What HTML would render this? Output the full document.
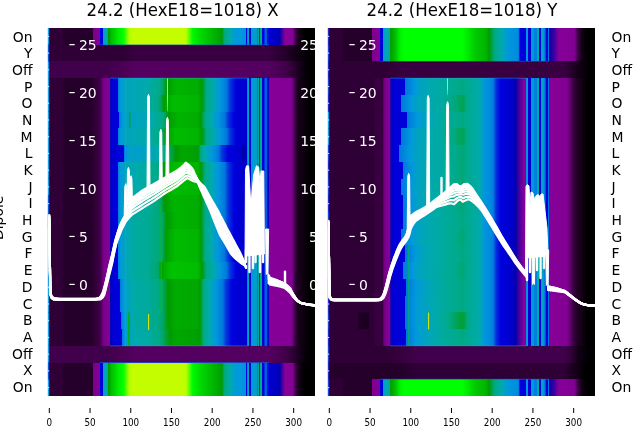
<!DOCTYPE html>
<html><head><meta charset="utf-8"><style>
html,body{margin:0;padding:0;background:#fff;}
body{width:640px;height:440px;overflow:hidden;}
svg{display:block;}
</style></head><body>
<svg width="640" height="440" viewBox="0 0 640 440" font-family="DejaVu Sans, Liberation Sans, sans-serif"><defs><linearGradient id="yl" x1="0" x2="0" y1="0" y2="1"><stop offset="0" stop-color="#d8f000"/><stop offset="0.6" stop-color="#a0ff00"/><stop offset="1" stop-color="#40e000"/></linearGradient><linearGradient id="a0" x1="0" x2="1" y1="0" y2="0"><stop offset="0.0000" stop-color="#2f0035"/><stop offset="0.0543" stop-color="#2f0035"/><stop offset="0.0562" stop-color="#25002b"/><stop offset="0.1685" stop-color="#25002b"/><stop offset="0.1700" stop-color="#700080"/><stop offset="0.1704" stop-color="#7a008b"/><stop offset="0.1929" stop-color="#850096"/><stop offset="0.1931" stop-color="#870098"/><stop offset="0.1939" stop-color="#0300aa"/><stop offset="0.1948" stop-color="#0000dd"/><stop offset="0.2060" stop-color="#0000dd"/><stop offset="0.2068" stop-color="#0078dd"/><stop offset="0.2076" stop-color="#0098dd"/><stop offset="0.2079" stop-color="#009fcb"/><stop offset="0.2180" stop-color="#00aaab"/><stop offset="0.2247" stop-color="#00aa9d"/><stop offset="0.2254" stop-color="#00aa88"/><stop offset="0.2266" stop-color="#009a00"/><stop offset="0.2360" stop-color="#00bc00"/><stop offset="0.2547" stop-color="#00dc00"/><stop offset="0.2622" stop-color="#00ea00"/><stop offset="0.2818" stop-color="#00ff00"/><stop offset="0.2884" stop-color="#2cff00"/><stop offset="0.2996" stop-color="#93ff00"/><stop offset="0.3090" stop-color="#bcff00"/><stop offset="0.3184" stop-color="#c4fc00"/><stop offset="0.4981" stop-color="#c4fc00"/><stop offset="0.5169" stop-color="#bcff00"/><stop offset="0.5318" stop-color="#49ff00"/><stop offset="0.5393" stop-color="#00ff00"/><stop offset="0.5468" stop-color="#00f200"/><stop offset="0.5693" stop-color="#00dc00"/><stop offset="0.5918" stop-color="#00ca00"/><stop offset="0.6117" stop-color="#00bc00"/><stop offset="0.6217" stop-color="#00b400"/><stop offset="0.6498" stop-color="#009f00"/><stop offset="0.6517" stop-color="#009a00"/><stop offset="0.6592" stop-color="#00a773"/><stop offset="0.6639" stop-color="#00aa88"/><stop offset="0.6779" stop-color="#00aa9d"/><stop offset="0.6841" stop-color="#00aaab"/><stop offset="0.6966" stop-color="#009cd3"/><stop offset="0.7191" stop-color="#0098dd"/><stop offset="0.7416" stop-color="#0092dd"/><stop offset="0.7424" stop-color="#0078dd"/><stop offset="0.7434" stop-color="#0000dd"/><stop offset="0.7436" stop-color="#0000d1"/><stop offset="0.7459" stop-color="#0000d1"/><stop offset="0.7459" stop-color="#0000dd"/><stop offset="0.7460" stop-color="#0078dd"/><stop offset="0.7461" stop-color="#0098dd"/><stop offset="0.7461" stop-color="#00aaab"/><stop offset="0.7462" stop-color="#00aa88"/><stop offset="0.7463" stop-color="#00a353"/><stop offset="0.7507" stop-color="#00a353"/><stop offset="0.7508" stop-color="#00aa88"/><stop offset="0.7509" stop-color="#00aaab"/><stop offset="0.7510" stop-color="#0098dd"/><stop offset="0.7510" stop-color="#0078dd"/><stop offset="0.7511" stop-color="#0000dd"/><stop offset="0.7601" stop-color="#0000dd"/><stop offset="0.7603" stop-color="#0078dd"/><stop offset="0.7605" stop-color="#0098dd"/><stop offset="0.7676" stop-color="#0098dd"/><stop offset="0.7680" stop-color="#009fcb"/><stop offset="0.7826" stop-color="#009fcb"/><stop offset="0.7827" stop-color="#00aaab"/><stop offset="0.7828" stop-color="#00aa88"/><stop offset="0.7830" stop-color="#009d1d"/><stop offset="0.7882" stop-color="#009d1d"/><stop offset="0.7883" stop-color="#00aa88"/><stop offset="0.7884" stop-color="#00aaab"/><stop offset="0.7884" stop-color="#0098dd"/><stop offset="0.7885" stop-color="#0078dd"/><stop offset="0.7886" stop-color="#002fdd"/><stop offset="0.7938" stop-color="#002fdd"/><stop offset="0.7939" stop-color="#0078dd"/><stop offset="0.7940" stop-color="#0098dd"/><stop offset="0.7941" stop-color="#00aaab"/><stop offset="0.7942" stop-color="#00aa88"/><stop offset="0.8013" stop-color="#00aa88"/><stop offset="0.8014" stop-color="#00aaab"/><stop offset="0.8015" stop-color="#0098dd"/><stop offset="0.8016" stop-color="#0078dd"/><stop offset="0.8017" stop-color="#0000dd"/><stop offset="0.8107" stop-color="#0000dd"/><stop offset="0.8110" stop-color="#005ddd"/><stop offset="0.8200" stop-color="#005ddd"/><stop offset="0.8204" stop-color="#0013dd"/><stop offset="0.8257" stop-color="#0013dd"/><stop offset="0.8259" stop-color="#0000dd"/><stop offset="0.8262" stop-color="#0000d1"/><stop offset="0.8633" stop-color="#0000bd"/><stop offset="0.8695" stop-color="#0300aa"/><stop offset="0.8727" stop-color="#2300a6"/><stop offset="0.8876" stop-color="#870098"/><stop offset="0.9157" stop-color="#850096"/><stop offset="0.9202" stop-color="#700080"/><stop offset="0.9213" stop-color="#5d006b"/><stop offset="0.9326" stop-color="#25002b"/><stop offset="0.9438" stop-color="#130015"/><stop offset="0.9588" stop-color="#000000"/><stop offset="1.0000" stop-color="#000000"/></linearGradient><linearGradient id="a1" x1="0" x2="1" y1="0" y2="0"><stop offset="0.0000" stop-color="#2f0035"/><stop offset="0.2809" stop-color="#2f0035"/><stop offset="0.3296" stop-color="#380040"/><stop offset="0.8277" stop-color="#380040"/><stop offset="0.8914" stop-color="#25002b"/><stop offset="0.9288" stop-color="#130015"/><stop offset="0.9588" stop-color="#09000b"/><stop offset="0.9813" stop-color="#000000"/><stop offset="1.0000" stop-color="#000000"/></linearGradient><linearGradient id="a2" x1="0" x2="1" y1="0" y2="0"><stop offset="0.0000" stop-color="#41004b"/><stop offset="0.2172" stop-color="#41004b"/><stop offset="0.2809" stop-color="#4b0055"/><stop offset="0.3296" stop-color="#540060"/><stop offset="0.8277" stop-color="#540060"/><stop offset="0.8914" stop-color="#41004b"/><stop offset="0.9288" stop-color="#25002b"/><stop offset="0.9588" stop-color="#09000b"/><stop offset="0.9813" stop-color="#000000"/><stop offset="1.0000" stop-color="#000000"/></linearGradient><linearGradient id="a3" x1="0" x2="1" y1="0" y2="0"><stop offset="0.0000" stop-color="#2f0035"/><stop offset="0.0543" stop-color="#2f0035"/><stop offset="0.0562" stop-color="#25002b"/><stop offset="0.1685" stop-color="#25002b"/><stop offset="0.1704" stop-color="#2f0035"/><stop offset="0.1873" stop-color="#380040"/><stop offset="0.1985" stop-color="#4b0055"/><stop offset="0.2052" stop-color="#700080"/><stop offset="0.2097" stop-color="#7a008b"/><stop offset="0.2210" stop-color="#810092"/><stop offset="0.2330" stop-color="#870098"/><stop offset="0.2340" stop-color="#0300aa"/><stop offset="0.2348" stop-color="#0000d1"/><stop offset="0.2603" stop-color="#0000dd"/><stop offset="0.2619" stop-color="#0078dd"/><stop offset="0.2622" stop-color="#007ddd"/><stop offset="0.2715" stop-color="#0098dd"/><stop offset="0.2715" stop-color="#0098dd"/><stop offset="0.2865" stop-color="#00a3bf"/><stop offset="0.3296" stop-color="#00a7b3"/><stop offset="0.3783" stop-color="#00aaab"/><stop offset="0.3895" stop-color="#00aa9d"/><stop offset="0.4176" stop-color="#00aa88"/><stop offset="0.4270" stop-color="#00a773"/><stop offset="0.4449" stop-color="#009a00"/><stop offset="0.4494" stop-color="#009f00"/><stop offset="0.4794" stop-color="#00b400"/><stop offset="0.5618" stop-color="#00ac00"/><stop offset="0.5768" stop-color="#009a00"/><stop offset="0.5933" stop-color="#00aa88"/><stop offset="0.6142" stop-color="#00aaa3"/><stop offset="0.6189" stop-color="#00aaab"/><stop offset="0.6330" stop-color="#009fcb"/><stop offset="0.6434" stop-color="#0098dd"/><stop offset="0.6592" stop-color="#0085dd"/><stop offset="0.6692" stop-color="#0078dd"/><stop offset="0.6816" stop-color="#0038dd"/><stop offset="0.7041" stop-color="#0000dd"/><stop offset="0.7191" stop-color="#0000d1"/><stop offset="0.7459" stop-color="#0000d1"/><stop offset="0.7459" stop-color="#0000dd"/><stop offset="0.7460" stop-color="#0078dd"/><stop offset="0.7461" stop-color="#0098dd"/><stop offset="0.7461" stop-color="#00aaab"/><stop offset="0.7462" stop-color="#00aa88"/><stop offset="0.7463" stop-color="#00a353"/><stop offset="0.7507" stop-color="#00a353"/><stop offset="0.7508" stop-color="#00aa88"/><stop offset="0.7509" stop-color="#00aaab"/><stop offset="0.7510" stop-color="#0098dd"/><stop offset="0.7510" stop-color="#0078dd"/><stop offset="0.7511" stop-color="#0000dd"/><stop offset="0.7601" stop-color="#0000dd"/><stop offset="0.7603" stop-color="#0078dd"/><stop offset="0.7605" stop-color="#0098dd"/><stop offset="0.7676" stop-color="#0098dd"/><stop offset="0.7680" stop-color="#009fcb"/><stop offset="0.7826" stop-color="#009fcb"/><stop offset="0.7827" stop-color="#00aaab"/><stop offset="0.7828" stop-color="#00aa88"/><stop offset="0.7830" stop-color="#009d1d"/><stop offset="0.7882" stop-color="#009d1d"/><stop offset="0.7883" stop-color="#00aa88"/><stop offset="0.7884" stop-color="#00aaab"/><stop offset="0.7884" stop-color="#0098dd"/><stop offset="0.7885" stop-color="#0078dd"/><stop offset="0.7886" stop-color="#002fdd"/><stop offset="0.7938" stop-color="#002fdd"/><stop offset="0.7939" stop-color="#0078dd"/><stop offset="0.7940" stop-color="#0098dd"/><stop offset="0.7941" stop-color="#00aaab"/><stop offset="0.7942" stop-color="#00aa88"/><stop offset="0.8013" stop-color="#00aa88"/><stop offset="0.8014" stop-color="#00aaab"/><stop offset="0.8015" stop-color="#0098dd"/><stop offset="0.8016" stop-color="#0078dd"/><stop offset="0.8017" stop-color="#0000dd"/><stop offset="0.8107" stop-color="#0000dd"/><stop offset="0.8110" stop-color="#005ddd"/><stop offset="0.8200" stop-color="#005ddd"/><stop offset="0.8204" stop-color="#0013dd"/><stop offset="0.8257" stop-color="#0013dd"/><stop offset="0.8257" stop-color="#0000dd"/><stop offset="0.8260" stop-color="#0300aa"/><stop offset="0.8262" stop-color="#870098"/><stop offset="0.9082" stop-color="#830094"/><stop offset="0.9139" stop-color="#7a008b"/><stop offset="0.9169" stop-color="#700080"/><stop offset="0.9213" stop-color="#4b0055"/><stop offset="0.9337" stop-color="#1c0020"/><stop offset="0.9476" stop-color="#130015"/><stop offset="0.9663" stop-color="#09000b"/><stop offset="0.9813" stop-color="#000000"/><stop offset="1.0000" stop-color="#000000"/></linearGradient><linearGradient id="a4" x1="0" x2="1" y1="0" y2="0"><stop offset="0.0000" stop-color="#2f0035"/><stop offset="0.0543" stop-color="#2f0035"/><stop offset="0.0562" stop-color="#25002b"/><stop offset="0.1685" stop-color="#25002b"/><stop offset="0.1704" stop-color="#2f0035"/><stop offset="0.1873" stop-color="#380040"/><stop offset="0.1985" stop-color="#4b0055"/><stop offset="0.2052" stop-color="#700080"/><stop offset="0.2097" stop-color="#7a008b"/><stop offset="0.2210" stop-color="#810092"/><stop offset="0.2330" stop-color="#870098"/><stop offset="0.2340" stop-color="#0300aa"/><stop offset="0.2348" stop-color="#0000d1"/><stop offset="0.2603" stop-color="#0000dd"/><stop offset="0.2619" stop-color="#0078dd"/><stop offset="0.2622" stop-color="#007ddd"/><stop offset="0.2715" stop-color="#0098dd"/><stop offset="0.2715" stop-color="#0098dd"/><stop offset="0.2865" stop-color="#00a3bf"/><stop offset="0.3296" stop-color="#00a7b3"/><stop offset="0.3783" stop-color="#00aaab"/><stop offset="0.3820" stop-color="#00aa9d"/><stop offset="0.4101" stop-color="#00aa88"/><stop offset="0.4195" stop-color="#00a773"/><stop offset="0.4345" stop-color="#009a00"/><stop offset="0.4419" stop-color="#00a700"/><stop offset="0.4719" stop-color="#00bc00"/><stop offset="0.5618" stop-color="#00b400"/><stop offset="0.5768" stop-color="#009a00"/><stop offset="0.5933" stop-color="#00aa88"/><stop offset="0.6142" stop-color="#00aaa3"/><stop offset="0.6189" stop-color="#00aaab"/><stop offset="0.6330" stop-color="#009fcb"/><stop offset="0.6434" stop-color="#0098dd"/><stop offset="0.6592" stop-color="#0085dd"/><stop offset="0.6692" stop-color="#0078dd"/><stop offset="0.6816" stop-color="#0038dd"/><stop offset="0.7041" stop-color="#0000dd"/><stop offset="0.7191" stop-color="#0000d1"/><stop offset="0.7459" stop-color="#0000d1"/><stop offset="0.7459" stop-color="#0000dd"/><stop offset="0.7460" stop-color="#0078dd"/><stop offset="0.7461" stop-color="#0098dd"/><stop offset="0.7461" stop-color="#00aaab"/><stop offset="0.7462" stop-color="#00aa88"/><stop offset="0.7463" stop-color="#00a353"/><stop offset="0.7507" stop-color="#00a353"/><stop offset="0.7508" stop-color="#00aa88"/><stop offset="0.7509" stop-color="#00aaab"/><stop offset="0.7510" stop-color="#0098dd"/><stop offset="0.7510" stop-color="#0078dd"/><stop offset="0.7511" stop-color="#0000dd"/><stop offset="0.7601" stop-color="#0000dd"/><stop offset="0.7603" stop-color="#0078dd"/><stop offset="0.7605" stop-color="#0098dd"/><stop offset="0.7676" stop-color="#0098dd"/><stop offset="0.7680" stop-color="#009fcb"/><stop offset="0.7826" stop-color="#009fcb"/><stop offset="0.7827" stop-color="#00aaab"/><stop offset="0.7828" stop-color="#00aa88"/><stop offset="0.7830" stop-color="#009d1d"/><stop offset="0.7882" stop-color="#009d1d"/><stop offset="0.7883" stop-color="#00aa88"/><stop offset="0.7884" stop-color="#00aaab"/><stop offset="0.7884" stop-color="#0098dd"/><stop offset="0.7885" stop-color="#0078dd"/><stop offset="0.7886" stop-color="#002fdd"/><stop offset="0.7938" stop-color="#002fdd"/><stop offset="0.7939" stop-color="#0078dd"/><stop offset="0.7940" stop-color="#0098dd"/><stop offset="0.7941" stop-color="#00aaab"/><stop offset="0.7942" stop-color="#00aa88"/><stop offset="0.8013" stop-color="#00aa88"/><stop offset="0.8014" stop-color="#00aaab"/><stop offset="0.8015" stop-color="#0098dd"/><stop offset="0.8016" stop-color="#0078dd"/><stop offset="0.8017" stop-color="#0000dd"/><stop offset="0.8107" stop-color="#0000dd"/><stop offset="0.8110" stop-color="#005ddd"/><stop offset="0.8200" stop-color="#005ddd"/><stop offset="0.8204" stop-color="#0013dd"/><stop offset="0.8257" stop-color="#0013dd"/><stop offset="0.8257" stop-color="#0000dd"/><stop offset="0.8260" stop-color="#0300aa"/><stop offset="0.8262" stop-color="#870098"/><stop offset="0.9082" stop-color="#830094"/><stop offset="0.9139" stop-color="#7a008b"/><stop offset="0.9169" stop-color="#700080"/><stop offset="0.9213" stop-color="#4b0055"/><stop offset="0.9337" stop-color="#1c0020"/><stop offset="0.9476" stop-color="#130015"/><stop offset="0.9663" stop-color="#09000b"/><stop offset="0.9813" stop-color="#000000"/><stop offset="1.0000" stop-color="#000000"/></linearGradient><linearGradient id="a5" x1="0" x2="1" y1="0" y2="0"><stop offset="0.0000" stop-color="#2f0035"/><stop offset="0.0543" stop-color="#2f0035"/><stop offset="0.0562" stop-color="#25002b"/><stop offset="0.1685" stop-color="#25002b"/><stop offset="0.1704" stop-color="#2f0035"/><stop offset="0.1873" stop-color="#380040"/><stop offset="0.1985" stop-color="#4b0055"/><stop offset="0.2052" stop-color="#700080"/><stop offset="0.2097" stop-color="#7a008b"/><stop offset="0.2210" stop-color="#810092"/><stop offset="0.2330" stop-color="#870098"/><stop offset="0.2340" stop-color="#0300aa"/><stop offset="0.2348" stop-color="#0000d1"/><stop offset="0.2659" stop-color="#0000dd"/><stop offset="0.2675" stop-color="#0078dd"/><stop offset="0.2678" stop-color="#007ddd"/><stop offset="0.2772" stop-color="#0098dd"/><stop offset="0.2772" stop-color="#0098dd"/><stop offset="0.2921" stop-color="#00a3bf"/><stop offset="0.3296" stop-color="#00a3bf"/><stop offset="0.3783" stop-color="#00a7b3"/><stop offset="0.3876" stop-color="#00aaab"/><stop offset="0.3970" stop-color="#00aaa3"/><stop offset="0.4270" stop-color="#00aa88"/><stop offset="0.4345" stop-color="#00a773"/><stop offset="0.4524" stop-color="#009a00"/><stop offset="0.4569" stop-color="#009f00"/><stop offset="0.4869" stop-color="#00b400"/><stop offset="0.5618" stop-color="#00ac00"/><stop offset="0.5730" stop-color="#009a00"/><stop offset="0.5880" stop-color="#00aa88"/><stop offset="0.6067" stop-color="#00aaa3"/><stop offset="0.6114" stop-color="#00aaab"/><stop offset="0.6255" stop-color="#009fcb"/><stop offset="0.6360" stop-color="#0098dd"/><stop offset="0.6517" stop-color="#0085dd"/><stop offset="0.6617" stop-color="#0078dd"/><stop offset="0.6742" stop-color="#0038dd"/><stop offset="0.6966" stop-color="#0000dd"/><stop offset="0.7191" stop-color="#0000d1"/><stop offset="0.7459" stop-color="#0000d1"/><stop offset="0.7459" stop-color="#0000dd"/><stop offset="0.7460" stop-color="#0078dd"/><stop offset="0.7461" stop-color="#0098dd"/><stop offset="0.7461" stop-color="#00aaab"/><stop offset="0.7462" stop-color="#00aa88"/><stop offset="0.7463" stop-color="#00a353"/><stop offset="0.7507" stop-color="#00a353"/><stop offset="0.7508" stop-color="#00aa88"/><stop offset="0.7509" stop-color="#00aaab"/><stop offset="0.7510" stop-color="#0098dd"/><stop offset="0.7510" stop-color="#0078dd"/><stop offset="0.7511" stop-color="#0000dd"/><stop offset="0.7601" stop-color="#0000dd"/><stop offset="0.7603" stop-color="#0078dd"/><stop offset="0.7605" stop-color="#0098dd"/><stop offset="0.7676" stop-color="#0098dd"/><stop offset="0.7680" stop-color="#009fcb"/><stop offset="0.7826" stop-color="#009fcb"/><stop offset="0.7827" stop-color="#00aaab"/><stop offset="0.7828" stop-color="#00aa88"/><stop offset="0.7830" stop-color="#009d1d"/><stop offset="0.7882" stop-color="#009d1d"/><stop offset="0.7883" stop-color="#00aa88"/><stop offset="0.7884" stop-color="#00aaab"/><stop offset="0.7884" stop-color="#0098dd"/><stop offset="0.7885" stop-color="#0078dd"/><stop offset="0.7886" stop-color="#002fdd"/><stop offset="0.7938" stop-color="#002fdd"/><stop offset="0.7939" stop-color="#0078dd"/><stop offset="0.7940" stop-color="#0098dd"/><stop offset="0.7941" stop-color="#00aaab"/><stop offset="0.7942" stop-color="#00aa88"/><stop offset="0.8013" stop-color="#00aa88"/><stop offset="0.8014" stop-color="#00aaab"/><stop offset="0.8015" stop-color="#0098dd"/><stop offset="0.8016" stop-color="#0078dd"/><stop offset="0.8017" stop-color="#0000dd"/><stop offset="0.8107" stop-color="#0000dd"/><stop offset="0.8110" stop-color="#005ddd"/><stop offset="0.8200" stop-color="#005ddd"/><stop offset="0.8204" stop-color="#0013dd"/><stop offset="0.8257" stop-color="#0013dd"/><stop offset="0.8257" stop-color="#0000dd"/><stop offset="0.8260" stop-color="#0300aa"/><stop offset="0.8262" stop-color="#870098"/><stop offset="0.9082" stop-color="#830094"/><stop offset="0.9139" stop-color="#7a008b"/><stop offset="0.9169" stop-color="#700080"/><stop offset="0.9213" stop-color="#4b0055"/><stop offset="0.9337" stop-color="#1c0020"/><stop offset="0.9476" stop-color="#130015"/><stop offset="0.9663" stop-color="#09000b"/><stop offset="0.9813" stop-color="#000000"/><stop offset="1.0000" stop-color="#000000"/></linearGradient><linearGradient id="a6" x1="0" x2="1" y1="0" y2="0"><stop offset="0.0000" stop-color="#2f0035"/><stop offset="0.0543" stop-color="#2f0035"/><stop offset="0.0562" stop-color="#25002b"/><stop offset="0.1685" stop-color="#25002b"/><stop offset="0.1704" stop-color="#2f0035"/><stop offset="0.1873" stop-color="#380040"/><stop offset="0.1985" stop-color="#4b0055"/><stop offset="0.2052" stop-color="#700080"/><stop offset="0.2097" stop-color="#7a008b"/><stop offset="0.2210" stop-color="#810092"/><stop offset="0.2330" stop-color="#870098"/><stop offset="0.2340" stop-color="#0300aa"/><stop offset="0.2348" stop-color="#0000d1"/><stop offset="0.2603" stop-color="#0000dd"/><stop offset="0.2619" stop-color="#0078dd"/><stop offset="0.2622" stop-color="#007ddd"/><stop offset="0.2715" stop-color="#0098dd"/><stop offset="0.2715" stop-color="#0098dd"/><stop offset="0.2865" stop-color="#00a3bf"/><stop offset="0.3296" stop-color="#00a7b3"/><stop offset="0.3783" stop-color="#00aaab"/><stop offset="0.3895" stop-color="#00aa9d"/><stop offset="0.4176" stop-color="#00aa88"/><stop offset="0.4270" stop-color="#00a773"/><stop offset="0.4419" stop-color="#009a00"/><stop offset="0.4494" stop-color="#00a700"/><stop offset="0.4794" stop-color="#00bc00"/><stop offset="0.5618" stop-color="#00b400"/><stop offset="0.5768" stop-color="#009a00"/><stop offset="0.5933" stop-color="#00aa88"/><stop offset="0.6142" stop-color="#00aaa3"/><stop offset="0.6189" stop-color="#00aaab"/><stop offset="0.6330" stop-color="#009fcb"/><stop offset="0.6434" stop-color="#0098dd"/><stop offset="0.6592" stop-color="#0085dd"/><stop offset="0.6692" stop-color="#0078dd"/><stop offset="0.6816" stop-color="#0038dd"/><stop offset="0.7041" stop-color="#0000dd"/><stop offset="0.7191" stop-color="#0000d1"/><stop offset="0.7459" stop-color="#0000d1"/><stop offset="0.7459" stop-color="#0000dd"/><stop offset="0.7460" stop-color="#0078dd"/><stop offset="0.7461" stop-color="#0098dd"/><stop offset="0.7461" stop-color="#00aaab"/><stop offset="0.7462" stop-color="#00aa88"/><stop offset="0.7463" stop-color="#00a353"/><stop offset="0.7507" stop-color="#00a353"/><stop offset="0.7508" stop-color="#00aa88"/><stop offset="0.7509" stop-color="#00aaab"/><stop offset="0.7510" stop-color="#0098dd"/><stop offset="0.7510" stop-color="#0078dd"/><stop offset="0.7511" stop-color="#0000dd"/><stop offset="0.7601" stop-color="#0000dd"/><stop offset="0.7603" stop-color="#0078dd"/><stop offset="0.7605" stop-color="#0098dd"/><stop offset="0.7676" stop-color="#0098dd"/><stop offset="0.7680" stop-color="#009fcb"/><stop offset="0.7826" stop-color="#009fcb"/><stop offset="0.7827" stop-color="#00aaab"/><stop offset="0.7828" stop-color="#00aa88"/><stop offset="0.7830" stop-color="#009d1d"/><stop offset="0.7882" stop-color="#009d1d"/><stop offset="0.7883" stop-color="#00aa88"/><stop offset="0.7884" stop-color="#00aaab"/><stop offset="0.7884" stop-color="#0098dd"/><stop offset="0.7885" stop-color="#0078dd"/><stop offset="0.7886" stop-color="#002fdd"/><stop offset="0.7938" stop-color="#002fdd"/><stop offset="0.7939" stop-color="#0078dd"/><stop offset="0.7940" stop-color="#0098dd"/><stop offset="0.7941" stop-color="#00aaab"/><stop offset="0.7942" stop-color="#00aa88"/><stop offset="0.8013" stop-color="#00aa88"/><stop offset="0.8014" stop-color="#00aaab"/><stop offset="0.8015" stop-color="#0098dd"/><stop offset="0.8016" stop-color="#0078dd"/><stop offset="0.8017" stop-color="#0000dd"/><stop offset="0.8107" stop-color="#0000dd"/><stop offset="0.8110" stop-color="#005ddd"/><stop offset="0.8200" stop-color="#005ddd"/><stop offset="0.8204" stop-color="#0013dd"/><stop offset="0.8257" stop-color="#0013dd"/><stop offset="0.8257" stop-color="#0000dd"/><stop offset="0.8260" stop-color="#0300aa"/><stop offset="0.8262" stop-color="#870098"/><stop offset="0.9082" stop-color="#830094"/><stop offset="0.9139" stop-color="#7a008b"/><stop offset="0.9169" stop-color="#700080"/><stop offset="0.9213" stop-color="#4b0055"/><stop offset="0.9337" stop-color="#1c0020"/><stop offset="0.9476" stop-color="#130015"/><stop offset="0.9663" stop-color="#09000b"/><stop offset="0.9813" stop-color="#000000"/><stop offset="1.0000" stop-color="#000000"/></linearGradient><linearGradient id="a7" x1="0" x2="1" y1="0" y2="0"><stop offset="0.0000" stop-color="#2f0035"/><stop offset="0.0543" stop-color="#2f0035"/><stop offset="0.0562" stop-color="#25002b"/><stop offset="0.1685" stop-color="#25002b"/><stop offset="0.1704" stop-color="#2f0035"/><stop offset="0.1873" stop-color="#380040"/><stop offset="0.1985" stop-color="#4b0055"/><stop offset="0.2052" stop-color="#700080"/><stop offset="0.2097" stop-color="#7a008b"/><stop offset="0.2210" stop-color="#810092"/><stop offset="0.2330" stop-color="#870098"/><stop offset="0.2340" stop-color="#0300aa"/><stop offset="0.2348" stop-color="#0000d1"/><stop offset="0.2846" stop-color="#0000dd"/><stop offset="0.2862" stop-color="#0078dd"/><stop offset="0.2865" stop-color="#007ddd"/><stop offset="0.2959" stop-color="#0098dd"/><stop offset="0.2959" stop-color="#0098dd"/><stop offset="0.3109" stop-color="#00a3bf"/><stop offset="0.3296" stop-color="#009fcb"/><stop offset="0.3783" stop-color="#00a3bf"/><stop offset="0.4120" stop-color="#00aaab"/><stop offset="0.4120" stop-color="#00aaab"/><stop offset="0.4432" stop-color="#00aa88"/><stop offset="0.4494" stop-color="#00a773"/><stop offset="0.4719" stop-color="#009d1d"/><stop offset="0.4819" stop-color="#009a00"/><stop offset="0.5019" stop-color="#00a700"/><stop offset="0.5618" stop-color="#009f00"/><stop offset="0.5618" stop-color="#009a00"/><stop offset="0.5723" stop-color="#00aa88"/><stop offset="0.5843" stop-color="#00aaa3"/><stop offset="0.5890" stop-color="#00aaab"/><stop offset="0.6030" stop-color="#009fcb"/><stop offset="0.6135" stop-color="#0098dd"/><stop offset="0.6292" stop-color="#0085dd"/><stop offset="0.6392" stop-color="#0078dd"/><stop offset="0.6517" stop-color="#0038dd"/><stop offset="0.6742" stop-color="#0000dd"/><stop offset="0.7191" stop-color="#0000d1"/><stop offset="0.7303" stop-color="#0000b1"/><stop offset="0.7416" stop-color="#0300aa"/><stop offset="0.7416" stop-color="#0300aa"/><stop offset="0.7436" stop-color="#0000d1"/><stop offset="0.7459" stop-color="#0000d1"/><stop offset="0.7459" stop-color="#0000dd"/><stop offset="0.7460" stop-color="#0078dd"/><stop offset="0.7461" stop-color="#0098dd"/><stop offset="0.7461" stop-color="#00aaab"/><stop offset="0.7462" stop-color="#00aa88"/><stop offset="0.7463" stop-color="#00a353"/><stop offset="0.7507" stop-color="#00a353"/><stop offset="0.7508" stop-color="#00aa88"/><stop offset="0.7509" stop-color="#00aaab"/><stop offset="0.7510" stop-color="#0098dd"/><stop offset="0.7510" stop-color="#0078dd"/><stop offset="0.7511" stop-color="#0000dd"/><stop offset="0.7601" stop-color="#0000dd"/><stop offset="0.7603" stop-color="#0078dd"/><stop offset="0.7605" stop-color="#0098dd"/><stop offset="0.7676" stop-color="#0098dd"/><stop offset="0.7680" stop-color="#009fcb"/><stop offset="0.7826" stop-color="#009fcb"/><stop offset="0.7827" stop-color="#00aaab"/><stop offset="0.7828" stop-color="#00aa88"/><stop offset="0.7830" stop-color="#009d1d"/><stop offset="0.7882" stop-color="#009d1d"/><stop offset="0.7883" stop-color="#00aa88"/><stop offset="0.7884" stop-color="#00aaab"/><stop offset="0.7884" stop-color="#0098dd"/><stop offset="0.7885" stop-color="#0078dd"/><stop offset="0.7886" stop-color="#002fdd"/><stop offset="0.7938" stop-color="#002fdd"/><stop offset="0.7939" stop-color="#0078dd"/><stop offset="0.7940" stop-color="#0098dd"/><stop offset="0.7941" stop-color="#00aaab"/><stop offset="0.7942" stop-color="#00aa88"/><stop offset="0.8013" stop-color="#00aa88"/><stop offset="0.8014" stop-color="#00aaab"/><stop offset="0.8015" stop-color="#0098dd"/><stop offset="0.8016" stop-color="#0078dd"/><stop offset="0.8017" stop-color="#0000dd"/><stop offset="0.8107" stop-color="#0000dd"/><stop offset="0.8110" stop-color="#005ddd"/><stop offset="0.8200" stop-color="#005ddd"/><stop offset="0.8204" stop-color="#0013dd"/><stop offset="0.8257" stop-color="#0013dd"/><stop offset="0.8257" stop-color="#0000dd"/><stop offset="0.8260" stop-color="#0300aa"/><stop offset="0.8262" stop-color="#870098"/><stop offset="0.9082" stop-color="#830094"/><stop offset="0.9139" stop-color="#7a008b"/><stop offset="0.9169" stop-color="#700080"/><stop offset="0.9213" stop-color="#4b0055"/><stop offset="0.9337" stop-color="#1c0020"/><stop offset="0.9476" stop-color="#130015"/><stop offset="0.9663" stop-color="#09000b"/><stop offset="0.9813" stop-color="#000000"/><stop offset="1.0000" stop-color="#000000"/></linearGradient><linearGradient id="a8" x1="0" x2="1" y1="0" y2="0"><stop offset="0.0000" stop-color="#2f0035"/><stop offset="0.0543" stop-color="#2f0035"/><stop offset="0.0562" stop-color="#25002b"/><stop offset="0.1685" stop-color="#25002b"/><stop offset="0.1704" stop-color="#2f0035"/><stop offset="0.1873" stop-color="#380040"/><stop offset="0.1985" stop-color="#4b0055"/><stop offset="0.2052" stop-color="#700080"/><stop offset="0.2097" stop-color="#7a008b"/><stop offset="0.2210" stop-color="#810092"/><stop offset="0.2330" stop-color="#870098"/><stop offset="0.2340" stop-color="#0300aa"/><stop offset="0.2348" stop-color="#0000d1"/><stop offset="0.2603" stop-color="#0000dd"/><stop offset="0.2619" stop-color="#0078dd"/><stop offset="0.2622" stop-color="#007ddd"/><stop offset="0.2715" stop-color="#0098dd"/><stop offset="0.2715" stop-color="#0098dd"/><stop offset="0.2865" stop-color="#00a3bf"/><stop offset="0.3296" stop-color="#00aaab"/><stop offset="0.3296" stop-color="#00aaab"/><stop offset="0.3783" stop-color="#00aaa3"/><stop offset="0.3820" stop-color="#00aa95"/><stop offset="0.4070" stop-color="#00aa88"/><stop offset="0.4195" stop-color="#00a773"/><stop offset="0.4345" stop-color="#009a00"/><stop offset="0.4419" stop-color="#00a700"/><stop offset="0.4719" stop-color="#00bc00"/><stop offset="0.5618" stop-color="#00b400"/><stop offset="0.5730" stop-color="#009a00"/><stop offset="0.5880" stop-color="#00aa88"/><stop offset="0.6067" stop-color="#00aaa3"/><stop offset="0.6114" stop-color="#00aaab"/><stop offset="0.6255" stop-color="#009fcb"/><stop offset="0.6360" stop-color="#0098dd"/><stop offset="0.6517" stop-color="#0085dd"/><stop offset="0.6617" stop-color="#0078dd"/><stop offset="0.6742" stop-color="#0038dd"/><stop offset="0.6966" stop-color="#0000dd"/><stop offset="0.7191" stop-color="#0000d1"/><stop offset="0.7459" stop-color="#0000d1"/><stop offset="0.7459" stop-color="#0000dd"/><stop offset="0.7460" stop-color="#0078dd"/><stop offset="0.7461" stop-color="#0098dd"/><stop offset="0.7461" stop-color="#00aaab"/><stop offset="0.7462" stop-color="#00aa88"/><stop offset="0.7463" stop-color="#00a353"/><stop offset="0.7507" stop-color="#00a353"/><stop offset="0.7508" stop-color="#00aa88"/><stop offset="0.7509" stop-color="#00aaab"/><stop offset="0.7510" stop-color="#0098dd"/><stop offset="0.7510" stop-color="#0078dd"/><stop offset="0.7511" stop-color="#0000dd"/><stop offset="0.7601" stop-color="#0000dd"/><stop offset="0.7603" stop-color="#0078dd"/><stop offset="0.7605" stop-color="#0098dd"/><stop offset="0.7676" stop-color="#0098dd"/><stop offset="0.7680" stop-color="#009fcb"/><stop offset="0.7826" stop-color="#009fcb"/><stop offset="0.7827" stop-color="#00aaab"/><stop offset="0.7828" stop-color="#00aa88"/><stop offset="0.7830" stop-color="#009d1d"/><stop offset="0.7882" stop-color="#009d1d"/><stop offset="0.7883" stop-color="#00aa88"/><stop offset="0.7884" stop-color="#00aaab"/><stop offset="0.7884" stop-color="#0098dd"/><stop offset="0.7885" stop-color="#0078dd"/><stop offset="0.7886" stop-color="#002fdd"/><stop offset="0.7938" stop-color="#002fdd"/><stop offset="0.7939" stop-color="#0078dd"/><stop offset="0.7940" stop-color="#0098dd"/><stop offset="0.7941" stop-color="#00aaab"/><stop offset="0.7942" stop-color="#00aa88"/><stop offset="0.8013" stop-color="#00aa88"/><stop offset="0.8014" stop-color="#00aaab"/><stop offset="0.8015" stop-color="#0098dd"/><stop offset="0.8016" stop-color="#0078dd"/><stop offset="0.8017" stop-color="#0000dd"/><stop offset="0.8107" stop-color="#0000dd"/><stop offset="0.8110" stop-color="#005ddd"/><stop offset="0.8200" stop-color="#005ddd"/><stop offset="0.8204" stop-color="#0013dd"/><stop offset="0.8257" stop-color="#0013dd"/><stop offset="0.8257" stop-color="#0000dd"/><stop offset="0.8260" stop-color="#0300aa"/><stop offset="0.8262" stop-color="#870098"/><stop offset="0.9082" stop-color="#830094"/><stop offset="0.9139" stop-color="#7a008b"/><stop offset="0.9169" stop-color="#700080"/><stop offset="0.9213" stop-color="#4b0055"/><stop offset="0.9337" stop-color="#1c0020"/><stop offset="0.9476" stop-color="#130015"/><stop offset="0.9663" stop-color="#09000b"/><stop offset="0.9813" stop-color="#000000"/><stop offset="1.0000" stop-color="#000000"/></linearGradient><linearGradient id="a9" x1="0" x2="1" y1="0" y2="0"><stop offset="0.0000" stop-color="#2f0035"/><stop offset="0.0543" stop-color="#2f0035"/><stop offset="0.0562" stop-color="#25002b"/><stop offset="0.1685" stop-color="#25002b"/><stop offset="0.1704" stop-color="#2f0035"/><stop offset="0.1873" stop-color="#380040"/><stop offset="0.1985" stop-color="#4b0055"/><stop offset="0.2052" stop-color="#700080"/><stop offset="0.2097" stop-color="#7a008b"/><stop offset="0.2210" stop-color="#810092"/><stop offset="0.2330" stop-color="#870098"/><stop offset="0.2340" stop-color="#0300aa"/><stop offset="0.2348" stop-color="#0000d1"/><stop offset="0.2603" stop-color="#0000dd"/><stop offset="0.2619" stop-color="#0078dd"/><stop offset="0.2622" stop-color="#007ddd"/><stop offset="0.2715" stop-color="#0098dd"/><stop offset="0.2715" stop-color="#0098dd"/><stop offset="0.2865" stop-color="#00a3bf"/><stop offset="0.3296" stop-color="#00aaab"/><stop offset="0.3296" stop-color="#00aaab"/><stop offset="0.3783" stop-color="#00aaa3"/><stop offset="0.3820" stop-color="#00aa95"/><stop offset="0.4070" stop-color="#00aa88"/><stop offset="0.4195" stop-color="#00a773"/><stop offset="0.4345" stop-color="#009a00"/><stop offset="0.4419" stop-color="#00a700"/><stop offset="0.4719" stop-color="#00bc00"/><stop offset="0.5618" stop-color="#00b400"/><stop offset="0.5730" stop-color="#009a00"/><stop offset="0.5880" stop-color="#00aa88"/><stop offset="0.6067" stop-color="#00aaa3"/><stop offset="0.6114" stop-color="#00aaab"/><stop offset="0.6255" stop-color="#009fcb"/><stop offset="0.6360" stop-color="#0098dd"/><stop offset="0.6517" stop-color="#0085dd"/><stop offset="0.6617" stop-color="#0078dd"/><stop offset="0.6742" stop-color="#0038dd"/><stop offset="0.6966" stop-color="#0000dd"/><stop offset="0.7191" stop-color="#0000d1"/><stop offset="0.7459" stop-color="#0000d1"/><stop offset="0.7459" stop-color="#0000dd"/><stop offset="0.7460" stop-color="#0078dd"/><stop offset="0.7461" stop-color="#0098dd"/><stop offset="0.7461" stop-color="#00aaab"/><stop offset="0.7462" stop-color="#00aa88"/><stop offset="0.7463" stop-color="#00a353"/><stop offset="0.7507" stop-color="#00a353"/><stop offset="0.7508" stop-color="#00aa88"/><stop offset="0.7509" stop-color="#00aaab"/><stop offset="0.7510" stop-color="#0098dd"/><stop offset="0.7510" stop-color="#0078dd"/><stop offset="0.7511" stop-color="#0000dd"/><stop offset="0.7601" stop-color="#0000dd"/><stop offset="0.7603" stop-color="#0078dd"/><stop offset="0.7605" stop-color="#0098dd"/><stop offset="0.7676" stop-color="#0098dd"/><stop offset="0.7680" stop-color="#009fcb"/><stop offset="0.7826" stop-color="#009fcb"/><stop offset="0.7827" stop-color="#00aaab"/><stop offset="0.7828" stop-color="#00aa88"/><stop offset="0.7830" stop-color="#009d1d"/><stop offset="0.7882" stop-color="#009d1d"/><stop offset="0.7883" stop-color="#00aa88"/><stop offset="0.7884" stop-color="#00aaab"/><stop offset="0.7884" stop-color="#0098dd"/><stop offset="0.7885" stop-color="#0078dd"/><stop offset="0.7886" stop-color="#002fdd"/><stop offset="0.7938" stop-color="#002fdd"/><stop offset="0.7939" stop-color="#0078dd"/><stop offset="0.7940" stop-color="#0098dd"/><stop offset="0.7941" stop-color="#00aaab"/><stop offset="0.7942" stop-color="#00aa88"/><stop offset="0.8013" stop-color="#00aa88"/><stop offset="0.8014" stop-color="#00aaab"/><stop offset="0.8015" stop-color="#0098dd"/><stop offset="0.8016" stop-color="#0078dd"/><stop offset="0.8017" stop-color="#0000dd"/><stop offset="0.8107" stop-color="#0000dd"/><stop offset="0.8110" stop-color="#005ddd"/><stop offset="0.8200" stop-color="#005ddd"/><stop offset="0.8204" stop-color="#0013dd"/><stop offset="0.8257" stop-color="#0013dd"/><stop offset="0.8257" stop-color="#0000dd"/><stop offset="0.8260" stop-color="#0300aa"/><stop offset="0.8262" stop-color="#870098"/><stop offset="0.9082" stop-color="#830094"/><stop offset="0.9139" stop-color="#7a008b"/><stop offset="0.9169" stop-color="#700080"/><stop offset="0.9213" stop-color="#4b0055"/><stop offset="0.9337" stop-color="#1c0020"/><stop offset="0.9476" stop-color="#130015"/><stop offset="0.9663" stop-color="#09000b"/><stop offset="0.9813" stop-color="#000000"/><stop offset="1.0000" stop-color="#000000"/></linearGradient><linearGradient id="a10" x1="0" x2="1" y1="0" y2="0"><stop offset="0.0000" stop-color="#2f0035"/><stop offset="0.0543" stop-color="#2f0035"/><stop offset="0.0562" stop-color="#25002b"/><stop offset="0.1685" stop-color="#25002b"/><stop offset="0.1704" stop-color="#2f0035"/><stop offset="0.1873" stop-color="#380040"/><stop offset="0.1985" stop-color="#4b0055"/><stop offset="0.2052" stop-color="#700080"/><stop offset="0.2097" stop-color="#7a008b"/><stop offset="0.2210" stop-color="#810092"/><stop offset="0.2330" stop-color="#870098"/><stop offset="0.2340" stop-color="#0300aa"/><stop offset="0.2348" stop-color="#0000d1"/><stop offset="0.2603" stop-color="#0000dd"/><stop offset="0.2619" stop-color="#0078dd"/><stop offset="0.2622" stop-color="#007ddd"/><stop offset="0.2715" stop-color="#0098dd"/><stop offset="0.2715" stop-color="#0098dd"/><stop offset="0.2865" stop-color="#00a3bf"/><stop offset="0.3152" stop-color="#00aaab"/><stop offset="0.3296" stop-color="#00aaa3"/><stop offset="0.3783" stop-color="#00aa9d"/><stop offset="0.3820" stop-color="#00aa90"/><stop offset="0.4007" stop-color="#00aa88"/><stop offset="0.4195" stop-color="#00a773"/><stop offset="0.4375" stop-color="#009a00"/><stop offset="0.4419" stop-color="#009f00"/><stop offset="0.4719" stop-color="#00b400"/><stop offset="0.5618" stop-color="#00ac00"/><stop offset="0.5730" stop-color="#009a00"/><stop offset="0.5880" stop-color="#00aa88"/><stop offset="0.6067" stop-color="#00aaa3"/><stop offset="0.6114" stop-color="#00aaab"/><stop offset="0.6255" stop-color="#009fcb"/><stop offset="0.6360" stop-color="#0098dd"/><stop offset="0.6517" stop-color="#0085dd"/><stop offset="0.6617" stop-color="#0078dd"/><stop offset="0.6742" stop-color="#0038dd"/><stop offset="0.6966" stop-color="#0000dd"/><stop offset="0.7191" stop-color="#0000d1"/><stop offset="0.7459" stop-color="#0000d1"/><stop offset="0.7459" stop-color="#0000dd"/><stop offset="0.7460" stop-color="#0078dd"/><stop offset="0.7461" stop-color="#0098dd"/><stop offset="0.7461" stop-color="#00aaab"/><stop offset="0.7462" stop-color="#00aa88"/><stop offset="0.7463" stop-color="#00a353"/><stop offset="0.7507" stop-color="#00a353"/><stop offset="0.7508" stop-color="#00aa88"/><stop offset="0.7509" stop-color="#00aaab"/><stop offset="0.7510" stop-color="#0098dd"/><stop offset="0.7510" stop-color="#0078dd"/><stop offset="0.7511" stop-color="#0000dd"/><stop offset="0.7601" stop-color="#0000dd"/><stop offset="0.7603" stop-color="#0078dd"/><stop offset="0.7605" stop-color="#0098dd"/><stop offset="0.7676" stop-color="#0098dd"/><stop offset="0.7680" stop-color="#009fcb"/><stop offset="0.7826" stop-color="#009fcb"/><stop offset="0.7827" stop-color="#00aaab"/><stop offset="0.7828" stop-color="#00aa88"/><stop offset="0.7830" stop-color="#009d1d"/><stop offset="0.7882" stop-color="#009d1d"/><stop offset="0.7883" stop-color="#00aa88"/><stop offset="0.7884" stop-color="#00aaab"/><stop offset="0.7884" stop-color="#0098dd"/><stop offset="0.7885" stop-color="#0078dd"/><stop offset="0.7886" stop-color="#002fdd"/><stop offset="0.7938" stop-color="#002fdd"/><stop offset="0.7939" stop-color="#0078dd"/><stop offset="0.7940" stop-color="#0098dd"/><stop offset="0.7941" stop-color="#00aaab"/><stop offset="0.7942" stop-color="#00aa88"/><stop offset="0.8013" stop-color="#00aa88"/><stop offset="0.8014" stop-color="#00aaab"/><stop offset="0.8015" stop-color="#0098dd"/><stop offset="0.8016" stop-color="#0078dd"/><stop offset="0.8017" stop-color="#0000dd"/><stop offset="0.8107" stop-color="#0000dd"/><stop offset="0.8110" stop-color="#005ddd"/><stop offset="0.8200" stop-color="#005ddd"/><stop offset="0.8204" stop-color="#0013dd"/><stop offset="0.8257" stop-color="#0013dd"/><stop offset="0.8257" stop-color="#0000dd"/><stop offset="0.8260" stop-color="#0300aa"/><stop offset="0.8262" stop-color="#870098"/><stop offset="0.9082" stop-color="#830094"/><stop offset="0.9139" stop-color="#7a008b"/><stop offset="0.9169" stop-color="#700080"/><stop offset="0.9213" stop-color="#4b0055"/><stop offset="0.9337" stop-color="#1c0020"/><stop offset="0.9476" stop-color="#130015"/><stop offset="0.9663" stop-color="#09000b"/><stop offset="0.9813" stop-color="#000000"/><stop offset="1.0000" stop-color="#000000"/></linearGradient><linearGradient id="a11" x1="0" x2="1" y1="0" y2="0"><stop offset="0.0000" stop-color="#2f0035"/><stop offset="0.0543" stop-color="#2f0035"/><stop offset="0.0562" stop-color="#25002b"/><stop offset="0.1685" stop-color="#25002b"/><stop offset="0.1704" stop-color="#2f0035"/><stop offset="0.1873" stop-color="#380040"/><stop offset="0.1985" stop-color="#4b0055"/><stop offset="0.2052" stop-color="#700080"/><stop offset="0.2097" stop-color="#7a008b"/><stop offset="0.2210" stop-color="#810092"/><stop offset="0.2330" stop-color="#870098"/><stop offset="0.2340" stop-color="#0300aa"/><stop offset="0.2348" stop-color="#0000d1"/><stop offset="0.2603" stop-color="#0000dd"/><stop offset="0.2619" stop-color="#0078dd"/><stop offset="0.2622" stop-color="#007ddd"/><stop offset="0.2715" stop-color="#0098dd"/><stop offset="0.2715" stop-color="#0098dd"/><stop offset="0.2865" stop-color="#00a3bf"/><stop offset="0.3081" stop-color="#00aaab"/><stop offset="0.3296" stop-color="#00aa9d"/><stop offset="0.3783" stop-color="#00aa95"/><stop offset="0.3895" stop-color="#00aa88"/><stop offset="0.4270" stop-color="#00a773"/><stop offset="0.4449" stop-color="#009a00"/><stop offset="0.4494" stop-color="#009f00"/><stop offset="0.4794" stop-color="#00b400"/><stop offset="0.5618" stop-color="#00ac00"/><stop offset="0.5730" stop-color="#009a00"/><stop offset="0.5880" stop-color="#00aa88"/><stop offset="0.6067" stop-color="#00aaa3"/><stop offset="0.6114" stop-color="#00aaab"/><stop offset="0.6255" stop-color="#009fcb"/><stop offset="0.6360" stop-color="#0098dd"/><stop offset="0.6517" stop-color="#0085dd"/><stop offset="0.6617" stop-color="#0078dd"/><stop offset="0.6742" stop-color="#0038dd"/><stop offset="0.6966" stop-color="#0000dd"/><stop offset="0.7191" stop-color="#0000d1"/><stop offset="0.7459" stop-color="#0000d1"/><stop offset="0.7459" stop-color="#0000dd"/><stop offset="0.7460" stop-color="#0078dd"/><stop offset="0.7461" stop-color="#0098dd"/><stop offset="0.7461" stop-color="#00aaab"/><stop offset="0.7462" stop-color="#00aa88"/><stop offset="0.7463" stop-color="#00a353"/><stop offset="0.7507" stop-color="#00a353"/><stop offset="0.7508" stop-color="#00aa88"/><stop offset="0.7509" stop-color="#00aaab"/><stop offset="0.7510" stop-color="#0098dd"/><stop offset="0.7510" stop-color="#0078dd"/><stop offset="0.7511" stop-color="#0000dd"/><stop offset="0.7601" stop-color="#0000dd"/><stop offset="0.7603" stop-color="#0078dd"/><stop offset="0.7605" stop-color="#0098dd"/><stop offset="0.7676" stop-color="#0098dd"/><stop offset="0.7680" stop-color="#009fcb"/><stop offset="0.7826" stop-color="#009fcb"/><stop offset="0.7827" stop-color="#00aaab"/><stop offset="0.7828" stop-color="#00aa88"/><stop offset="0.7830" stop-color="#009d1d"/><stop offset="0.7882" stop-color="#009d1d"/><stop offset="0.7883" stop-color="#00aa88"/><stop offset="0.7884" stop-color="#00aaab"/><stop offset="0.7884" stop-color="#0098dd"/><stop offset="0.7885" stop-color="#0078dd"/><stop offset="0.7886" stop-color="#002fdd"/><stop offset="0.7938" stop-color="#002fdd"/><stop offset="0.7939" stop-color="#0078dd"/><stop offset="0.7940" stop-color="#0098dd"/><stop offset="0.7941" stop-color="#00aaab"/><stop offset="0.7942" stop-color="#00aa88"/><stop offset="0.8013" stop-color="#00aa88"/><stop offset="0.8014" stop-color="#00aaab"/><stop offset="0.8015" stop-color="#0098dd"/><stop offset="0.8016" stop-color="#0078dd"/><stop offset="0.8017" stop-color="#0000dd"/><stop offset="0.8107" stop-color="#0000dd"/><stop offset="0.8110" stop-color="#005ddd"/><stop offset="0.8200" stop-color="#005ddd"/><stop offset="0.8204" stop-color="#0013dd"/><stop offset="0.8257" stop-color="#0013dd"/><stop offset="0.8257" stop-color="#0000dd"/><stop offset="0.8260" stop-color="#0300aa"/><stop offset="0.8262" stop-color="#870098"/><stop offset="0.9082" stop-color="#830094"/><stop offset="0.9139" stop-color="#7a008b"/><stop offset="0.9169" stop-color="#700080"/><stop offset="0.9213" stop-color="#4b0055"/><stop offset="0.9337" stop-color="#1c0020"/><stop offset="0.9476" stop-color="#130015"/><stop offset="0.9663" stop-color="#09000b"/><stop offset="0.9813" stop-color="#000000"/><stop offset="1.0000" stop-color="#000000"/></linearGradient><linearGradient id="a12" x1="0" x2="1" y1="0" y2="0"><stop offset="0.0000" stop-color="#2f0035"/><stop offset="0.0543" stop-color="#2f0035"/><stop offset="0.0562" stop-color="#25002b"/><stop offset="0.1685" stop-color="#25002b"/><stop offset="0.1704" stop-color="#2f0035"/><stop offset="0.1873" stop-color="#380040"/><stop offset="0.1985" stop-color="#4b0055"/><stop offset="0.2052" stop-color="#700080"/><stop offset="0.2097" stop-color="#7a008b"/><stop offset="0.2210" stop-color="#810092"/><stop offset="0.2330" stop-color="#870098"/><stop offset="0.2340" stop-color="#0300aa"/><stop offset="0.2348" stop-color="#0000d1"/><stop offset="0.2603" stop-color="#0000dd"/><stop offset="0.2619" stop-color="#0078dd"/><stop offset="0.2622" stop-color="#007ddd"/><stop offset="0.2715" stop-color="#0098dd"/><stop offset="0.2715" stop-color="#0098dd"/><stop offset="0.2865" stop-color="#00a3bf"/><stop offset="0.3081" stop-color="#00aaab"/><stop offset="0.3296" stop-color="#00aa9d"/><stop offset="0.3783" stop-color="#00aa95"/><stop offset="0.3895" stop-color="#00aa88"/><stop offset="0.4270" stop-color="#00a773"/><stop offset="0.4419" stop-color="#009a00"/><stop offset="0.4494" stop-color="#00a700"/><stop offset="0.4794" stop-color="#00bc00"/><stop offset="0.5618" stop-color="#00b400"/><stop offset="0.5730" stop-color="#009a00"/><stop offset="0.5880" stop-color="#00aa88"/><stop offset="0.6067" stop-color="#00aaa3"/><stop offset="0.6114" stop-color="#00aaab"/><stop offset="0.6255" stop-color="#009fcb"/><stop offset="0.6360" stop-color="#0098dd"/><stop offset="0.6517" stop-color="#0085dd"/><stop offset="0.6617" stop-color="#0078dd"/><stop offset="0.6742" stop-color="#0038dd"/><stop offset="0.6966" stop-color="#0000dd"/><stop offset="0.7191" stop-color="#0000d1"/><stop offset="0.7459" stop-color="#0000d1"/><stop offset="0.7459" stop-color="#0000dd"/><stop offset="0.7460" stop-color="#0078dd"/><stop offset="0.7461" stop-color="#0098dd"/><stop offset="0.7461" stop-color="#00aaab"/><stop offset="0.7462" stop-color="#00aa88"/><stop offset="0.7463" stop-color="#00a353"/><stop offset="0.7507" stop-color="#00a353"/><stop offset="0.7508" stop-color="#00aa88"/><stop offset="0.7509" stop-color="#00aaab"/><stop offset="0.7510" stop-color="#0098dd"/><stop offset="0.7510" stop-color="#0078dd"/><stop offset="0.7511" stop-color="#0000dd"/><stop offset="0.7601" stop-color="#0000dd"/><stop offset="0.7603" stop-color="#0078dd"/><stop offset="0.7605" stop-color="#0098dd"/><stop offset="0.7676" stop-color="#0098dd"/><stop offset="0.7680" stop-color="#009fcb"/><stop offset="0.7826" stop-color="#009fcb"/><stop offset="0.7827" stop-color="#00aaab"/><stop offset="0.7828" stop-color="#00aa88"/><stop offset="0.7830" stop-color="#009d1d"/><stop offset="0.7882" stop-color="#009d1d"/><stop offset="0.7883" stop-color="#00aa88"/><stop offset="0.7884" stop-color="#00aaab"/><stop offset="0.7884" stop-color="#0098dd"/><stop offset="0.7885" stop-color="#0078dd"/><stop offset="0.7886" stop-color="#002fdd"/><stop offset="0.7938" stop-color="#002fdd"/><stop offset="0.7939" stop-color="#0078dd"/><stop offset="0.7940" stop-color="#0098dd"/><stop offset="0.7941" stop-color="#00aaab"/><stop offset="0.7942" stop-color="#00aa88"/><stop offset="0.8013" stop-color="#00aa88"/><stop offset="0.8014" stop-color="#00aaab"/><stop offset="0.8015" stop-color="#0098dd"/><stop offset="0.8016" stop-color="#0078dd"/><stop offset="0.8017" stop-color="#0000dd"/><stop offset="0.8107" stop-color="#0000dd"/><stop offset="0.8110" stop-color="#005ddd"/><stop offset="0.8200" stop-color="#005ddd"/><stop offset="0.8204" stop-color="#0013dd"/><stop offset="0.8257" stop-color="#0013dd"/><stop offset="0.8257" stop-color="#0000dd"/><stop offset="0.8260" stop-color="#0300aa"/><stop offset="0.8262" stop-color="#870098"/><stop offset="0.9082" stop-color="#830094"/><stop offset="0.9139" stop-color="#7a008b"/><stop offset="0.9169" stop-color="#700080"/><stop offset="0.9213" stop-color="#4b0055"/><stop offset="0.9337" stop-color="#1c0020"/><stop offset="0.9476" stop-color="#130015"/><stop offset="0.9663" stop-color="#09000b"/><stop offset="0.9813" stop-color="#000000"/><stop offset="1.0000" stop-color="#000000"/></linearGradient><linearGradient id="a13" x1="0" x2="1" y1="0" y2="0"><stop offset="0.0000" stop-color="#2f0035"/><stop offset="0.0543" stop-color="#2f0035"/><stop offset="0.0562" stop-color="#25002b"/><stop offset="0.1685" stop-color="#25002b"/><stop offset="0.1704" stop-color="#2f0035"/><stop offset="0.1873" stop-color="#380040"/><stop offset="0.1985" stop-color="#4b0055"/><stop offset="0.2052" stop-color="#700080"/><stop offset="0.2097" stop-color="#7a008b"/><stop offset="0.2210" stop-color="#810092"/><stop offset="0.2330" stop-color="#870098"/><stop offset="0.2340" stop-color="#0300aa"/><stop offset="0.2348" stop-color="#0000d1"/><stop offset="0.2603" stop-color="#0000dd"/><stop offset="0.2619" stop-color="#0078dd"/><stop offset="0.2622" stop-color="#007ddd"/><stop offset="0.2715" stop-color="#0098dd"/><stop offset="0.2715" stop-color="#0098dd"/><stop offset="0.2865" stop-color="#00a3bf"/><stop offset="0.3081" stop-color="#00aaab"/><stop offset="0.3296" stop-color="#00aa9d"/><stop offset="0.3783" stop-color="#00aa95"/><stop offset="0.3895" stop-color="#00aa88"/><stop offset="0.4270" stop-color="#00a773"/><stop offset="0.4419" stop-color="#009a00"/><stop offset="0.4494" stop-color="#00a700"/><stop offset="0.4794" stop-color="#00bc00"/><stop offset="0.5618" stop-color="#00b400"/><stop offset="0.5730" stop-color="#009a00"/><stop offset="0.5880" stop-color="#00aa88"/><stop offset="0.6067" stop-color="#00aaa3"/><stop offset="0.6114" stop-color="#00aaab"/><stop offset="0.6255" stop-color="#009fcb"/><stop offset="0.6360" stop-color="#0098dd"/><stop offset="0.6517" stop-color="#0085dd"/><stop offset="0.6617" stop-color="#0078dd"/><stop offset="0.6742" stop-color="#0038dd"/><stop offset="0.6966" stop-color="#0000dd"/><stop offset="0.7191" stop-color="#0000d1"/><stop offset="0.7459" stop-color="#0000d1"/><stop offset="0.7459" stop-color="#0000dd"/><stop offset="0.7460" stop-color="#0078dd"/><stop offset="0.7461" stop-color="#0098dd"/><stop offset="0.7461" stop-color="#00aaab"/><stop offset="0.7462" stop-color="#00aa88"/><stop offset="0.7463" stop-color="#00a353"/><stop offset="0.7507" stop-color="#00a353"/><stop offset="0.7508" stop-color="#00aa88"/><stop offset="0.7509" stop-color="#00aaab"/><stop offset="0.7510" stop-color="#0098dd"/><stop offset="0.7510" stop-color="#0078dd"/><stop offset="0.7511" stop-color="#0000dd"/><stop offset="0.7601" stop-color="#0000dd"/><stop offset="0.7603" stop-color="#0078dd"/><stop offset="0.7605" stop-color="#0098dd"/><stop offset="0.7676" stop-color="#0098dd"/><stop offset="0.7680" stop-color="#009fcb"/><stop offset="0.7826" stop-color="#009fcb"/><stop offset="0.7827" stop-color="#00aaab"/><stop offset="0.7828" stop-color="#00aa88"/><stop offset="0.7830" stop-color="#009d1d"/><stop offset="0.7882" stop-color="#009d1d"/><stop offset="0.7883" stop-color="#00aa88"/><stop offset="0.7884" stop-color="#00aaab"/><stop offset="0.7884" stop-color="#0098dd"/><stop offset="0.7885" stop-color="#0078dd"/><stop offset="0.7886" stop-color="#002fdd"/><stop offset="0.7938" stop-color="#002fdd"/><stop offset="0.7939" stop-color="#0078dd"/><stop offset="0.7940" stop-color="#0098dd"/><stop offset="0.7941" stop-color="#00aaab"/><stop offset="0.7942" stop-color="#00aa88"/><stop offset="0.8013" stop-color="#00aa88"/><stop offset="0.8014" stop-color="#00aaab"/><stop offset="0.8015" stop-color="#0098dd"/><stop offset="0.8016" stop-color="#0078dd"/><stop offset="0.8017" stop-color="#0000dd"/><stop offset="0.8107" stop-color="#0000dd"/><stop offset="0.8110" stop-color="#005ddd"/><stop offset="0.8200" stop-color="#005ddd"/><stop offset="0.8204" stop-color="#0013dd"/><stop offset="0.8257" stop-color="#0013dd"/><stop offset="0.8257" stop-color="#0000dd"/><stop offset="0.8260" stop-color="#0300aa"/><stop offset="0.8262" stop-color="#870098"/><stop offset="0.9082" stop-color="#830094"/><stop offset="0.9139" stop-color="#7a008b"/><stop offset="0.9169" stop-color="#700080"/><stop offset="0.9213" stop-color="#4b0055"/><stop offset="0.9337" stop-color="#1c0020"/><stop offset="0.9476" stop-color="#130015"/><stop offset="0.9663" stop-color="#09000b"/><stop offset="0.9813" stop-color="#000000"/><stop offset="1.0000" stop-color="#000000"/></linearGradient><linearGradient id="a14" x1="0" x2="1" y1="0" y2="0"><stop offset="0.0000" stop-color="#2f0035"/><stop offset="0.0543" stop-color="#2f0035"/><stop offset="0.0562" stop-color="#25002b"/><stop offset="0.1685" stop-color="#25002b"/><stop offset="0.1704" stop-color="#2f0035"/><stop offset="0.1873" stop-color="#380040"/><stop offset="0.1985" stop-color="#4b0055"/><stop offset="0.2052" stop-color="#700080"/><stop offset="0.2097" stop-color="#7a008b"/><stop offset="0.2210" stop-color="#810092"/><stop offset="0.2330" stop-color="#870098"/><stop offset="0.2340" stop-color="#0300aa"/><stop offset="0.2348" stop-color="#0000d1"/><stop offset="0.2603" stop-color="#0000dd"/><stop offset="0.2619" stop-color="#0078dd"/><stop offset="0.2622" stop-color="#007ddd"/><stop offset="0.2715" stop-color="#0098dd"/><stop offset="0.2715" stop-color="#0098dd"/><stop offset="0.2865" stop-color="#00a3bf"/><stop offset="0.3081" stop-color="#00aaab"/><stop offset="0.3296" stop-color="#00aa9d"/><stop offset="0.3783" stop-color="#00aa95"/><stop offset="0.3745" stop-color="#00aa88"/><stop offset="0.4120" stop-color="#00a773"/><stop offset="0.4248" stop-color="#009a00"/><stop offset="0.4345" stop-color="#00ac00"/><stop offset="0.4544" stop-color="#00bc00"/><stop offset="0.4644" stop-color="#00c200"/><stop offset="0.5618" stop-color="#00bc00"/><stop offset="0.5768" stop-color="#009a00"/><stop offset="0.5933" stop-color="#00aa88"/><stop offset="0.6142" stop-color="#00aaa3"/><stop offset="0.6189" stop-color="#00aaab"/><stop offset="0.6330" stop-color="#009fcb"/><stop offset="0.6434" stop-color="#0098dd"/><stop offset="0.6592" stop-color="#0085dd"/><stop offset="0.6692" stop-color="#0078dd"/><stop offset="0.6816" stop-color="#0038dd"/><stop offset="0.7041" stop-color="#0000dd"/><stop offset="0.7191" stop-color="#0000d1"/><stop offset="0.7459" stop-color="#0000d1"/><stop offset="0.7459" stop-color="#0000dd"/><stop offset="0.7460" stop-color="#0078dd"/><stop offset="0.7461" stop-color="#0098dd"/><stop offset="0.7461" stop-color="#00aaab"/><stop offset="0.7462" stop-color="#00aa88"/><stop offset="0.7463" stop-color="#00a353"/><stop offset="0.7507" stop-color="#00a353"/><stop offset="0.7508" stop-color="#00aa88"/><stop offset="0.7509" stop-color="#00aaab"/><stop offset="0.7510" stop-color="#0098dd"/><stop offset="0.7510" stop-color="#0078dd"/><stop offset="0.7511" stop-color="#0000dd"/><stop offset="0.7601" stop-color="#0000dd"/><stop offset="0.7603" stop-color="#0078dd"/><stop offset="0.7605" stop-color="#0098dd"/><stop offset="0.7676" stop-color="#0098dd"/><stop offset="0.7680" stop-color="#009fcb"/><stop offset="0.7826" stop-color="#009fcb"/><stop offset="0.7827" stop-color="#00aaab"/><stop offset="0.7828" stop-color="#00aa88"/><stop offset="0.7830" stop-color="#009d1d"/><stop offset="0.7882" stop-color="#009d1d"/><stop offset="0.7883" stop-color="#00aa88"/><stop offset="0.7884" stop-color="#00aaab"/><stop offset="0.7884" stop-color="#0098dd"/><stop offset="0.7885" stop-color="#0078dd"/><stop offset="0.7886" stop-color="#002fdd"/><stop offset="0.7938" stop-color="#002fdd"/><stop offset="0.7939" stop-color="#0078dd"/><stop offset="0.7940" stop-color="#0098dd"/><stop offset="0.7941" stop-color="#00aaab"/><stop offset="0.7942" stop-color="#00aa88"/><stop offset="0.8013" stop-color="#00aa88"/><stop offset="0.8014" stop-color="#00aaab"/><stop offset="0.8015" stop-color="#0098dd"/><stop offset="0.8016" stop-color="#0078dd"/><stop offset="0.8017" stop-color="#0000dd"/><stop offset="0.8107" stop-color="#0000dd"/><stop offset="0.8110" stop-color="#005ddd"/><stop offset="0.8200" stop-color="#005ddd"/><stop offset="0.8204" stop-color="#0013dd"/><stop offset="0.8257" stop-color="#0013dd"/><stop offset="0.8257" stop-color="#0000dd"/><stop offset="0.8260" stop-color="#0300aa"/><stop offset="0.8262" stop-color="#870098"/><stop offset="0.9082" stop-color="#830094"/><stop offset="0.9139" stop-color="#7a008b"/><stop offset="0.9169" stop-color="#700080"/><stop offset="0.9213" stop-color="#4b0055"/><stop offset="0.9337" stop-color="#1c0020"/><stop offset="0.9476" stop-color="#130015"/><stop offset="0.9663" stop-color="#09000b"/><stop offset="0.9813" stop-color="#000000"/><stop offset="1.0000" stop-color="#000000"/></linearGradient><linearGradient id="a15" x1="0" x2="1" y1="0" y2="0"><stop offset="0.0000" stop-color="#2f0035"/><stop offset="0.0543" stop-color="#2f0035"/><stop offset="0.0562" stop-color="#25002b"/><stop offset="0.1685" stop-color="#25002b"/><stop offset="0.1704" stop-color="#2f0035"/><stop offset="0.1873" stop-color="#380040"/><stop offset="0.1985" stop-color="#4b0055"/><stop offset="0.2052" stop-color="#700080"/><stop offset="0.2097" stop-color="#7a008b"/><stop offset="0.2210" stop-color="#810092"/><stop offset="0.2330" stop-color="#870098"/><stop offset="0.2340" stop-color="#0300aa"/><stop offset="0.2348" stop-color="#0000d1"/><stop offset="0.2697" stop-color="#0000dd"/><stop offset="0.2712" stop-color="#0078dd"/><stop offset="0.2715" stop-color="#007ddd"/><stop offset="0.2809" stop-color="#0098dd"/><stop offset="0.2809" stop-color="#0098dd"/><stop offset="0.2959" stop-color="#00a3bf"/><stop offset="0.3184" stop-color="#00aaab"/><stop offset="0.3296" stop-color="#00aaa3"/><stop offset="0.3783" stop-color="#00aa9d"/><stop offset="0.3895" stop-color="#00aa90"/><stop offset="0.4082" stop-color="#00aa88"/><stop offset="0.4270" stop-color="#00a773"/><stop offset="0.4494" stop-color="#009a00"/><stop offset="0.4494" stop-color="#009a00"/><stop offset="0.4794" stop-color="#00ac00"/><stop offset="0.5618" stop-color="#00a700"/><stop offset="0.5693" stop-color="#009a00"/><stop offset="0.5828" stop-color="#00aa88"/><stop offset="0.5993" stop-color="#00aaa3"/><stop offset="0.6039" stop-color="#00aaab"/><stop offset="0.6180" stop-color="#009fcb"/><stop offset="0.6285" stop-color="#0098dd"/><stop offset="0.6442" stop-color="#0085dd"/><stop offset="0.6542" stop-color="#0078dd"/><stop offset="0.6667" stop-color="#0038dd"/><stop offset="0.6891" stop-color="#0000dd"/><stop offset="0.7191" stop-color="#0000d1"/><stop offset="0.7459" stop-color="#0000d1"/><stop offset="0.7459" stop-color="#0000dd"/><stop offset="0.7460" stop-color="#0078dd"/><stop offset="0.7461" stop-color="#0098dd"/><stop offset="0.7461" stop-color="#00aaab"/><stop offset="0.7462" stop-color="#00aa88"/><stop offset="0.7463" stop-color="#00a353"/><stop offset="0.7507" stop-color="#00a353"/><stop offset="0.7508" stop-color="#00aa88"/><stop offset="0.7509" stop-color="#00aaab"/><stop offset="0.7510" stop-color="#0098dd"/><stop offset="0.7510" stop-color="#0078dd"/><stop offset="0.7511" stop-color="#0000dd"/><stop offset="0.7601" stop-color="#0000dd"/><stop offset="0.7603" stop-color="#0078dd"/><stop offset="0.7605" stop-color="#0098dd"/><stop offset="0.7676" stop-color="#0098dd"/><stop offset="0.7680" stop-color="#009fcb"/><stop offset="0.7826" stop-color="#009fcb"/><stop offset="0.7827" stop-color="#00aaab"/><stop offset="0.7828" stop-color="#00aa88"/><stop offset="0.7830" stop-color="#009d1d"/><stop offset="0.7882" stop-color="#009d1d"/><stop offset="0.7883" stop-color="#00aa88"/><stop offset="0.7884" stop-color="#00aaab"/><stop offset="0.7884" stop-color="#0098dd"/><stop offset="0.7885" stop-color="#0078dd"/><stop offset="0.7886" stop-color="#002fdd"/><stop offset="0.7938" stop-color="#002fdd"/><stop offset="0.7939" stop-color="#0078dd"/><stop offset="0.7940" stop-color="#0098dd"/><stop offset="0.7941" stop-color="#00aaab"/><stop offset="0.7942" stop-color="#00aa88"/><stop offset="0.8013" stop-color="#00aa88"/><stop offset="0.8014" stop-color="#00aaab"/><stop offset="0.8015" stop-color="#0098dd"/><stop offset="0.8016" stop-color="#0078dd"/><stop offset="0.8017" stop-color="#0000dd"/><stop offset="0.8107" stop-color="#0000dd"/><stop offset="0.8110" stop-color="#005ddd"/><stop offset="0.8200" stop-color="#005ddd"/><stop offset="0.8204" stop-color="#0013dd"/><stop offset="0.8257" stop-color="#0013dd"/><stop offset="0.8257" stop-color="#0000dd"/><stop offset="0.8260" stop-color="#0300aa"/><stop offset="0.8262" stop-color="#870098"/><stop offset="0.9082" stop-color="#830094"/><stop offset="0.9139" stop-color="#7a008b"/><stop offset="0.9169" stop-color="#700080"/><stop offset="0.9213" stop-color="#4b0055"/><stop offset="0.9337" stop-color="#1c0020"/><stop offset="0.9476" stop-color="#130015"/><stop offset="0.9663" stop-color="#09000b"/><stop offset="0.9813" stop-color="#000000"/><stop offset="1.0000" stop-color="#000000"/></linearGradient><linearGradient id="a16" x1="0" x2="1" y1="0" y2="0"><stop offset="0.0000" stop-color="#2f0035"/><stop offset="0.0543" stop-color="#2f0035"/><stop offset="0.0562" stop-color="#25002b"/><stop offset="0.1685" stop-color="#25002b"/><stop offset="0.1704" stop-color="#2f0035"/><stop offset="0.1873" stop-color="#380040"/><stop offset="0.1985" stop-color="#4b0055"/><stop offset="0.2052" stop-color="#700080"/><stop offset="0.2097" stop-color="#7a008b"/><stop offset="0.2210" stop-color="#810092"/><stop offset="0.2330" stop-color="#870098"/><stop offset="0.2340" stop-color="#0300aa"/><stop offset="0.2348" stop-color="#0000d1"/><stop offset="0.2697" stop-color="#0000dd"/><stop offset="0.2712" stop-color="#0078dd"/><stop offset="0.2715" stop-color="#007ddd"/><stop offset="0.2809" stop-color="#0098dd"/><stop offset="0.2809" stop-color="#0098dd"/><stop offset="0.2959" stop-color="#00a3bf"/><stop offset="0.3184" stop-color="#00aaab"/><stop offset="0.3296" stop-color="#00aaa3"/><stop offset="0.3783" stop-color="#00aa9d"/><stop offset="0.3895" stop-color="#00aa90"/><stop offset="0.4082" stop-color="#00aa88"/><stop offset="0.4270" stop-color="#00a773"/><stop offset="0.4494" stop-color="#009a00"/><stop offset="0.4494" stop-color="#009a00"/><stop offset="0.4794" stop-color="#00ac00"/><stop offset="0.5618" stop-color="#00a700"/><stop offset="0.5693" stop-color="#009a00"/><stop offset="0.5828" stop-color="#00aa88"/><stop offset="0.5993" stop-color="#00aaa3"/><stop offset="0.6039" stop-color="#00aaab"/><stop offset="0.6180" stop-color="#009fcb"/><stop offset="0.6285" stop-color="#0098dd"/><stop offset="0.6442" stop-color="#0085dd"/><stop offset="0.6542" stop-color="#0078dd"/><stop offset="0.6667" stop-color="#0038dd"/><stop offset="0.6891" stop-color="#0000dd"/><stop offset="0.7191" stop-color="#0000d1"/><stop offset="0.7459" stop-color="#0000d1"/><stop offset="0.7459" stop-color="#0000dd"/><stop offset="0.7460" stop-color="#0078dd"/><stop offset="0.7461" stop-color="#0098dd"/><stop offset="0.7461" stop-color="#00aaab"/><stop offset="0.7462" stop-color="#00aa88"/><stop offset="0.7463" stop-color="#00a353"/><stop offset="0.7507" stop-color="#00a353"/><stop offset="0.7508" stop-color="#00aa88"/><stop offset="0.7509" stop-color="#00aaab"/><stop offset="0.7510" stop-color="#0098dd"/><stop offset="0.7510" stop-color="#0078dd"/><stop offset="0.7511" stop-color="#0000dd"/><stop offset="0.7601" stop-color="#0000dd"/><stop offset="0.7603" stop-color="#0078dd"/><stop offset="0.7605" stop-color="#0098dd"/><stop offset="0.7676" stop-color="#0098dd"/><stop offset="0.7680" stop-color="#009fcb"/><stop offset="0.7826" stop-color="#009fcb"/><stop offset="0.7827" stop-color="#00aaab"/><stop offset="0.7828" stop-color="#00aa88"/><stop offset="0.7830" stop-color="#009d1d"/><stop offset="0.7882" stop-color="#009d1d"/><stop offset="0.7883" stop-color="#00aa88"/><stop offset="0.7884" stop-color="#00aaab"/><stop offset="0.7884" stop-color="#0098dd"/><stop offset="0.7885" stop-color="#0078dd"/><stop offset="0.7886" stop-color="#002fdd"/><stop offset="0.7938" stop-color="#002fdd"/><stop offset="0.7939" stop-color="#0078dd"/><stop offset="0.7940" stop-color="#0098dd"/><stop offset="0.7941" stop-color="#00aaab"/><stop offset="0.7942" stop-color="#00aa88"/><stop offset="0.8013" stop-color="#00aa88"/><stop offset="0.8014" stop-color="#00aaab"/><stop offset="0.8015" stop-color="#0098dd"/><stop offset="0.8016" stop-color="#0078dd"/><stop offset="0.8017" stop-color="#0000dd"/><stop offset="0.8107" stop-color="#0000dd"/><stop offset="0.8110" stop-color="#005ddd"/><stop offset="0.8200" stop-color="#005ddd"/><stop offset="0.8204" stop-color="#0013dd"/><stop offset="0.8257" stop-color="#0013dd"/><stop offset="0.8257" stop-color="#0000dd"/><stop offset="0.8260" stop-color="#0300aa"/><stop offset="0.8262" stop-color="#870098"/><stop offset="0.9082" stop-color="#830094"/><stop offset="0.9139" stop-color="#7a008b"/><stop offset="0.9169" stop-color="#700080"/><stop offset="0.9213" stop-color="#4b0055"/><stop offset="0.9337" stop-color="#1c0020"/><stop offset="0.9476" stop-color="#130015"/><stop offset="0.9663" stop-color="#09000b"/><stop offset="0.9813" stop-color="#000000"/><stop offset="1.0000" stop-color="#000000"/></linearGradient><linearGradient id="a17" x1="0" x2="1" y1="0" y2="0"><stop offset="0.0000" stop-color="#2f0035"/><stop offset="0.0543" stop-color="#2f0035"/><stop offset="0.0562" stop-color="#25002b"/><stop offset="0.1685" stop-color="#25002b"/><stop offset="0.1704" stop-color="#2f0035"/><stop offset="0.1873" stop-color="#380040"/><stop offset="0.1985" stop-color="#4b0055"/><stop offset="0.2052" stop-color="#700080"/><stop offset="0.2097" stop-color="#7a008b"/><stop offset="0.2210" stop-color="#810092"/><stop offset="0.2330" stop-color="#870098"/><stop offset="0.2340" stop-color="#0300aa"/><stop offset="0.2348" stop-color="#0000d1"/><stop offset="0.2734" stop-color="#0000dd"/><stop offset="0.2750" stop-color="#0078dd"/><stop offset="0.2753" stop-color="#007ddd"/><stop offset="0.2846" stop-color="#0098dd"/><stop offset="0.2846" stop-color="#0098dd"/><stop offset="0.2996" stop-color="#00a3bf"/><stop offset="0.3196" stop-color="#00aaab"/><stop offset="0.3296" stop-color="#00aaa3"/><stop offset="0.3783" stop-color="#00aa9d"/><stop offset="0.3895" stop-color="#00aa90"/><stop offset="0.4082" stop-color="#00aa88"/><stop offset="0.4270" stop-color="#00a773"/><stop offset="0.4494" stop-color="#009a00"/><stop offset="0.4494" stop-color="#009a00"/><stop offset="0.4794" stop-color="#00ac00"/><stop offset="0.5618" stop-color="#00a700"/><stop offset="0.5693" stop-color="#009a00"/><stop offset="0.5828" stop-color="#00aa88"/><stop offset="0.5993" stop-color="#00aaa3"/><stop offset="0.6039" stop-color="#00aaab"/><stop offset="0.6180" stop-color="#009fcb"/><stop offset="0.6285" stop-color="#0098dd"/><stop offset="0.6442" stop-color="#0085dd"/><stop offset="0.6542" stop-color="#0078dd"/><stop offset="0.6667" stop-color="#0038dd"/><stop offset="0.6891" stop-color="#0000dd"/><stop offset="0.7191" stop-color="#0000d1"/><stop offset="0.7459" stop-color="#0000d1"/><stop offset="0.7459" stop-color="#0000dd"/><stop offset="0.7460" stop-color="#0078dd"/><stop offset="0.7461" stop-color="#0098dd"/><stop offset="0.7461" stop-color="#00aaab"/><stop offset="0.7462" stop-color="#00aa88"/><stop offset="0.7463" stop-color="#00a353"/><stop offset="0.7507" stop-color="#00a353"/><stop offset="0.7508" stop-color="#00aa88"/><stop offset="0.7509" stop-color="#00aaab"/><stop offset="0.7510" stop-color="#0098dd"/><stop offset="0.7510" stop-color="#0078dd"/><stop offset="0.7511" stop-color="#0000dd"/><stop offset="0.7601" stop-color="#0000dd"/><stop offset="0.7603" stop-color="#0078dd"/><stop offset="0.7605" stop-color="#0098dd"/><stop offset="0.7676" stop-color="#0098dd"/><stop offset="0.7680" stop-color="#009fcb"/><stop offset="0.7826" stop-color="#009fcb"/><stop offset="0.7827" stop-color="#00aaab"/><stop offset="0.7828" stop-color="#00aa88"/><stop offset="0.7830" stop-color="#009d1d"/><stop offset="0.7882" stop-color="#009d1d"/><stop offset="0.7883" stop-color="#00aa88"/><stop offset="0.7884" stop-color="#00aaab"/><stop offset="0.7884" stop-color="#0098dd"/><stop offset="0.7885" stop-color="#0078dd"/><stop offset="0.7886" stop-color="#002fdd"/><stop offset="0.7938" stop-color="#002fdd"/><stop offset="0.7939" stop-color="#0078dd"/><stop offset="0.7940" stop-color="#0098dd"/><stop offset="0.7941" stop-color="#00aaab"/><stop offset="0.7942" stop-color="#00aa88"/><stop offset="0.8013" stop-color="#00aa88"/><stop offset="0.8014" stop-color="#00aaab"/><stop offset="0.8015" stop-color="#0098dd"/><stop offset="0.8016" stop-color="#0078dd"/><stop offset="0.8017" stop-color="#0000dd"/><stop offset="0.8107" stop-color="#0000dd"/><stop offset="0.8110" stop-color="#005ddd"/><stop offset="0.8200" stop-color="#005ddd"/><stop offset="0.8204" stop-color="#0013dd"/><stop offset="0.8257" stop-color="#0013dd"/><stop offset="0.8257" stop-color="#0000dd"/><stop offset="0.8260" stop-color="#0300aa"/><stop offset="0.8262" stop-color="#870098"/><stop offset="0.9082" stop-color="#830094"/><stop offset="0.9139" stop-color="#7a008b"/><stop offset="0.9169" stop-color="#700080"/><stop offset="0.9213" stop-color="#4b0055"/><stop offset="0.9337" stop-color="#1c0020"/><stop offset="0.9476" stop-color="#130015"/><stop offset="0.9663" stop-color="#09000b"/><stop offset="0.9813" stop-color="#000000"/><stop offset="1.0000" stop-color="#000000"/></linearGradient><linearGradient id="a18" x1="0" x2="1" y1="0" y2="0"><stop offset="0.0000" stop-color="#2f0035"/><stop offset="0.0543" stop-color="#2f0035"/><stop offset="0.0562" stop-color="#25002b"/><stop offset="0.1685" stop-color="#25002b"/><stop offset="0.1704" stop-color="#2f0035"/><stop offset="0.1873" stop-color="#380040"/><stop offset="0.1985" stop-color="#4b0055"/><stop offset="0.2052" stop-color="#700080"/><stop offset="0.2097" stop-color="#7a008b"/><stop offset="0.2210" stop-color="#810092"/><stop offset="0.2330" stop-color="#870098"/><stop offset="0.2340" stop-color="#0300aa"/><stop offset="0.2348" stop-color="#0000d1"/><stop offset="0.2772" stop-color="#0000dd"/><stop offset="0.2787" stop-color="#0078dd"/><stop offset="0.2790" stop-color="#007ddd"/><stop offset="0.2884" stop-color="#0098dd"/><stop offset="0.2884" stop-color="#0098dd"/><stop offset="0.3034" stop-color="#00a3bf"/><stop offset="0.3296" stop-color="#00aaab"/><stop offset="0.3296" stop-color="#00aaab"/><stop offset="0.3783" stop-color="#00aaa3"/><stop offset="0.3895" stop-color="#00aa95"/><stop offset="0.4145" stop-color="#00aa88"/><stop offset="0.4270" stop-color="#00a773"/><stop offset="0.4494" stop-color="#009d1d"/><stop offset="0.4594" stop-color="#009a00"/><stop offset="0.4794" stop-color="#00a700"/><stop offset="0.5618" stop-color="#009f00"/><stop offset="0.5693" stop-color="#009a00"/><stop offset="0.5828" stop-color="#00aa88"/><stop offset="0.5993" stop-color="#00aaa3"/><stop offset="0.6039" stop-color="#00aaab"/><stop offset="0.6180" stop-color="#009fcb"/><stop offset="0.6285" stop-color="#0098dd"/><stop offset="0.6442" stop-color="#0085dd"/><stop offset="0.6542" stop-color="#0078dd"/><stop offset="0.6667" stop-color="#0038dd"/><stop offset="0.6891" stop-color="#0000dd"/><stop offset="0.7191" stop-color="#0000d1"/><stop offset="0.7459" stop-color="#0000d1"/><stop offset="0.7459" stop-color="#0000dd"/><stop offset="0.7460" stop-color="#0078dd"/><stop offset="0.7461" stop-color="#0098dd"/><stop offset="0.7461" stop-color="#00aaab"/><stop offset="0.7462" stop-color="#00aa88"/><stop offset="0.7463" stop-color="#00a353"/><stop offset="0.7507" stop-color="#00a353"/><stop offset="0.7508" stop-color="#00aa88"/><stop offset="0.7509" stop-color="#00aaab"/><stop offset="0.7510" stop-color="#0098dd"/><stop offset="0.7510" stop-color="#0078dd"/><stop offset="0.7511" stop-color="#0000dd"/><stop offset="0.7601" stop-color="#0000dd"/><stop offset="0.7603" stop-color="#0078dd"/><stop offset="0.7605" stop-color="#0098dd"/><stop offset="0.7676" stop-color="#0098dd"/><stop offset="0.7680" stop-color="#009fcb"/><stop offset="0.7826" stop-color="#009fcb"/><stop offset="0.7827" stop-color="#00aaab"/><stop offset="0.7828" stop-color="#00aa88"/><stop offset="0.7830" stop-color="#009d1d"/><stop offset="0.7882" stop-color="#009d1d"/><stop offset="0.7883" stop-color="#00aa88"/><stop offset="0.7884" stop-color="#00aaab"/><stop offset="0.7884" stop-color="#0098dd"/><stop offset="0.7885" stop-color="#0078dd"/><stop offset="0.7886" stop-color="#002fdd"/><stop offset="0.7938" stop-color="#002fdd"/><stop offset="0.7939" stop-color="#0078dd"/><stop offset="0.7940" stop-color="#0098dd"/><stop offset="0.7941" stop-color="#00aaab"/><stop offset="0.7942" stop-color="#00aa88"/><stop offset="0.8013" stop-color="#00aa88"/><stop offset="0.8014" stop-color="#00aaab"/><stop offset="0.8015" stop-color="#0098dd"/><stop offset="0.8016" stop-color="#0078dd"/><stop offset="0.8017" stop-color="#0000dd"/><stop offset="0.8107" stop-color="#0000dd"/><stop offset="0.8110" stop-color="#005ddd"/><stop offset="0.8200" stop-color="#005ddd"/><stop offset="0.8204" stop-color="#0013dd"/><stop offset="0.8257" stop-color="#0013dd"/><stop offset="0.8257" stop-color="#0000dd"/><stop offset="0.8260" stop-color="#0300aa"/><stop offset="0.8262" stop-color="#870098"/><stop offset="0.9082" stop-color="#830094"/><stop offset="0.9139" stop-color="#7a008b"/><stop offset="0.9169" stop-color="#700080"/><stop offset="0.9213" stop-color="#4b0055"/><stop offset="0.9337" stop-color="#1c0020"/><stop offset="0.9476" stop-color="#130015"/><stop offset="0.9663" stop-color="#09000b"/><stop offset="0.9813" stop-color="#000000"/><stop offset="1.0000" stop-color="#000000"/></linearGradient><linearGradient id="a19" x1="0" x2="1" y1="0" y2="0"><stop offset="0.0000" stop-color="#41004b"/><stop offset="0.2172" stop-color="#41004b"/><stop offset="0.2809" stop-color="#4b0055"/><stop offset="0.3296" stop-color="#540060"/><stop offset="0.8277" stop-color="#540060"/><stop offset="0.8914" stop-color="#41004b"/><stop offset="0.9288" stop-color="#25002b"/><stop offset="0.9588" stop-color="#09000b"/><stop offset="0.9813" stop-color="#000000"/><stop offset="1.0000" stop-color="#000000"/></linearGradient><linearGradient id="a20" x1="0" x2="1" y1="0" y2="0"><stop offset="0.0000" stop-color="#2f0035"/><stop offset="0.0543" stop-color="#2f0035"/><stop offset="0.0562" stop-color="#25002b"/><stop offset="0.1685" stop-color="#25002b"/><stop offset="0.1700" stop-color="#700080"/><stop offset="0.1704" stop-color="#7a008b"/><stop offset="0.1929" stop-color="#850096"/><stop offset="0.1931" stop-color="#870098"/><stop offset="0.1939" stop-color="#0300aa"/><stop offset="0.1948" stop-color="#0000dd"/><stop offset="0.2060" stop-color="#0000dd"/><stop offset="0.2068" stop-color="#0078dd"/><stop offset="0.2076" stop-color="#0098dd"/><stop offset="0.2079" stop-color="#009fcb"/><stop offset="0.2180" stop-color="#00aaab"/><stop offset="0.2247" stop-color="#00aa9d"/><stop offset="0.2254" stop-color="#00aa88"/><stop offset="0.2266" stop-color="#009a00"/><stop offset="0.2360" stop-color="#00bc00"/><stop offset="0.2547" stop-color="#00dc00"/><stop offset="0.2622" stop-color="#00ea00"/><stop offset="0.2818" stop-color="#00ff00"/><stop offset="0.2884" stop-color="#2cff00"/><stop offset="0.2996" stop-color="#93ff00"/><stop offset="0.3090" stop-color="#bcff00"/><stop offset="0.3184" stop-color="#c4fc00"/><stop offset="0.4981" stop-color="#c4fc00"/><stop offset="0.5169" stop-color="#bcff00"/><stop offset="0.5318" stop-color="#49ff00"/><stop offset="0.5393" stop-color="#00ff00"/><stop offset="0.5468" stop-color="#00f200"/><stop offset="0.5693" stop-color="#00dc00"/><stop offset="0.5918" stop-color="#00ca00"/><stop offset="0.6117" stop-color="#00bc00"/><stop offset="0.6217" stop-color="#00b400"/><stop offset="0.6498" stop-color="#009f00"/><stop offset="0.6517" stop-color="#009a00"/><stop offset="0.6592" stop-color="#00a773"/><stop offset="0.6639" stop-color="#00aa88"/><stop offset="0.6779" stop-color="#00aa9d"/><stop offset="0.6841" stop-color="#00aaab"/><stop offset="0.6966" stop-color="#009cd3"/><stop offset="0.7191" stop-color="#0098dd"/><stop offset="0.7416" stop-color="#0092dd"/><stop offset="0.7424" stop-color="#0078dd"/><stop offset="0.7434" stop-color="#0000dd"/><stop offset="0.7436" stop-color="#0000d1"/><stop offset="0.7459" stop-color="#0000d1"/><stop offset="0.7459" stop-color="#0000dd"/><stop offset="0.7460" stop-color="#0078dd"/><stop offset="0.7461" stop-color="#0098dd"/><stop offset="0.7461" stop-color="#00aaab"/><stop offset="0.7462" stop-color="#00aa88"/><stop offset="0.7463" stop-color="#00a353"/><stop offset="0.7507" stop-color="#00a353"/><stop offset="0.7508" stop-color="#00aa88"/><stop offset="0.7509" stop-color="#00aaab"/><stop offset="0.7510" stop-color="#0098dd"/><stop offset="0.7510" stop-color="#0078dd"/><stop offset="0.7511" stop-color="#0000dd"/><stop offset="0.7601" stop-color="#0000dd"/><stop offset="0.7603" stop-color="#0078dd"/><stop offset="0.7605" stop-color="#0098dd"/><stop offset="0.7676" stop-color="#0098dd"/><stop offset="0.7680" stop-color="#009fcb"/><stop offset="0.7826" stop-color="#009fcb"/><stop offset="0.7827" stop-color="#00aaab"/><stop offset="0.7828" stop-color="#00aa88"/><stop offset="0.7830" stop-color="#009d1d"/><stop offset="0.7882" stop-color="#009d1d"/><stop offset="0.7883" stop-color="#00aa88"/><stop offset="0.7884" stop-color="#00aaab"/><stop offset="0.7884" stop-color="#0098dd"/><stop offset="0.7885" stop-color="#0078dd"/><stop offset="0.7886" stop-color="#002fdd"/><stop offset="0.7938" stop-color="#002fdd"/><stop offset="0.7939" stop-color="#0078dd"/><stop offset="0.7940" stop-color="#0098dd"/><stop offset="0.7941" stop-color="#00aaab"/><stop offset="0.7942" stop-color="#00aa88"/><stop offset="0.8013" stop-color="#00aa88"/><stop offset="0.8014" stop-color="#00aaab"/><stop offset="0.8015" stop-color="#0098dd"/><stop offset="0.8016" stop-color="#0078dd"/><stop offset="0.8017" stop-color="#0000dd"/><stop offset="0.8107" stop-color="#0000dd"/><stop offset="0.8110" stop-color="#005ddd"/><stop offset="0.8200" stop-color="#005ddd"/><stop offset="0.8204" stop-color="#0013dd"/><stop offset="0.8257" stop-color="#0013dd"/><stop offset="0.8259" stop-color="#0000dd"/><stop offset="0.8262" stop-color="#0000d1"/><stop offset="0.8633" stop-color="#0000bd"/><stop offset="0.8695" stop-color="#0300aa"/><stop offset="0.8727" stop-color="#2300a6"/><stop offset="0.8876" stop-color="#870098"/><stop offset="0.9157" stop-color="#850096"/><stop offset="0.9202" stop-color="#700080"/><stop offset="0.9213" stop-color="#5d006b"/><stop offset="0.9326" stop-color="#25002b"/><stop offset="0.9438" stop-color="#130015"/><stop offset="0.9588" stop-color="#000000"/><stop offset="1.0000" stop-color="#000000"/></linearGradient><linearGradient id="a21" x1="0" x2="1" y1="0" y2="0"><stop offset="0.0000" stop-color="#2f0035"/><stop offset="0.0543" stop-color="#2f0035"/><stop offset="0.0562" stop-color="#25002b"/><stop offset="0.1685" stop-color="#25002b"/><stop offset="0.1700" stop-color="#700080"/><stop offset="0.1704" stop-color="#7a008b"/><stop offset="0.1929" stop-color="#850096"/><stop offset="0.1931" stop-color="#870098"/><stop offset="0.1939" stop-color="#0300aa"/><stop offset="0.1948" stop-color="#0000dd"/><stop offset="0.2060" stop-color="#0000dd"/><stop offset="0.2068" stop-color="#0078dd"/><stop offset="0.2076" stop-color="#0098dd"/><stop offset="0.2079" stop-color="#009fcb"/><stop offset="0.2180" stop-color="#00aaab"/><stop offset="0.2247" stop-color="#00aa9d"/><stop offset="0.2254" stop-color="#00aa88"/><stop offset="0.2266" stop-color="#009a00"/><stop offset="0.2360" stop-color="#00bc00"/><stop offset="0.2547" stop-color="#00dc00"/><stop offset="0.2622" stop-color="#00ea00"/><stop offset="0.2818" stop-color="#00ff00"/><stop offset="0.2884" stop-color="#2cff00"/><stop offset="0.2996" stop-color="#93ff00"/><stop offset="0.3090" stop-color="#bcff00"/><stop offset="0.3184" stop-color="#c4fc00"/><stop offset="0.4981" stop-color="#c4fc00"/><stop offset="0.5169" stop-color="#bcff00"/><stop offset="0.5318" stop-color="#49ff00"/><stop offset="0.5393" stop-color="#00ff00"/><stop offset="0.5468" stop-color="#00f200"/><stop offset="0.5693" stop-color="#00dc00"/><stop offset="0.5918" stop-color="#00ca00"/><stop offset="0.6117" stop-color="#00bc00"/><stop offset="0.6217" stop-color="#00b400"/><stop offset="0.6498" stop-color="#009f00"/><stop offset="0.6517" stop-color="#009a00"/><stop offset="0.6592" stop-color="#00a773"/><stop offset="0.6639" stop-color="#00aa88"/><stop offset="0.6779" stop-color="#00aa9d"/><stop offset="0.6841" stop-color="#00aaab"/><stop offset="0.6966" stop-color="#009cd3"/><stop offset="0.7191" stop-color="#0098dd"/><stop offset="0.7416" stop-color="#0092dd"/><stop offset="0.7424" stop-color="#0078dd"/><stop offset="0.7434" stop-color="#0000dd"/><stop offset="0.7436" stop-color="#0000d1"/><stop offset="0.7459" stop-color="#0000d1"/><stop offset="0.7459" stop-color="#0000dd"/><stop offset="0.7460" stop-color="#0078dd"/><stop offset="0.7461" stop-color="#0098dd"/><stop offset="0.7461" stop-color="#00aaab"/><stop offset="0.7462" stop-color="#00aa88"/><stop offset="0.7463" stop-color="#00a353"/><stop offset="0.7507" stop-color="#00a353"/><stop offset="0.7508" stop-color="#00aa88"/><stop offset="0.7509" stop-color="#00aaab"/><stop offset="0.7510" stop-color="#0098dd"/><stop offset="0.7510" stop-color="#0078dd"/><stop offset="0.7511" stop-color="#0000dd"/><stop offset="0.7601" stop-color="#0000dd"/><stop offset="0.7603" stop-color="#0078dd"/><stop offset="0.7605" stop-color="#0098dd"/><stop offset="0.7676" stop-color="#0098dd"/><stop offset="0.7680" stop-color="#009fcb"/><stop offset="0.7826" stop-color="#009fcb"/><stop offset="0.7827" stop-color="#00aaab"/><stop offset="0.7828" stop-color="#00aa88"/><stop offset="0.7830" stop-color="#009d1d"/><stop offset="0.7882" stop-color="#009d1d"/><stop offset="0.7883" stop-color="#00aa88"/><stop offset="0.7884" stop-color="#00aaab"/><stop offset="0.7884" stop-color="#0098dd"/><stop offset="0.7885" stop-color="#0078dd"/><stop offset="0.7886" stop-color="#002fdd"/><stop offset="0.7938" stop-color="#002fdd"/><stop offset="0.7939" stop-color="#0078dd"/><stop offset="0.7940" stop-color="#0098dd"/><stop offset="0.7941" stop-color="#00aaab"/><stop offset="0.7942" stop-color="#00aa88"/><stop offset="0.8013" stop-color="#00aa88"/><stop offset="0.8014" stop-color="#00aaab"/><stop offset="0.8015" stop-color="#0098dd"/><stop offset="0.8016" stop-color="#0078dd"/><stop offset="0.8017" stop-color="#0000dd"/><stop offset="0.8107" stop-color="#0000dd"/><stop offset="0.8110" stop-color="#005ddd"/><stop offset="0.8200" stop-color="#005ddd"/><stop offset="0.8204" stop-color="#0013dd"/><stop offset="0.8257" stop-color="#0013dd"/><stop offset="0.8259" stop-color="#0000dd"/><stop offset="0.8262" stop-color="#0000d1"/><stop offset="0.8633" stop-color="#0000bd"/><stop offset="0.8695" stop-color="#0300aa"/><stop offset="0.8727" stop-color="#2300a6"/><stop offset="0.8876" stop-color="#870098"/><stop offset="0.9157" stop-color="#850096"/><stop offset="0.9202" stop-color="#700080"/><stop offset="0.9213" stop-color="#5d006b"/><stop offset="0.9326" stop-color="#25002b"/><stop offset="0.9438" stop-color="#130015"/><stop offset="0.9588" stop-color="#000000"/><stop offset="1.0000" stop-color="#000000"/></linearGradient><linearGradient id="b0" x1="0" x2="1" y1="0" y2="0"><stop offset="0.0000" stop-color="#2f0035"/><stop offset="0.0543" stop-color="#2f0035"/><stop offset="0.0562" stop-color="#25002b"/><stop offset="0.1648" stop-color="#25002b"/><stop offset="0.1660" stop-color="#700080"/><stop offset="0.1667" stop-color="#7d008e"/><stop offset="0.1929" stop-color="#850096"/><stop offset="0.1931" stop-color="#870098"/><stop offset="0.1939" stop-color="#0300aa"/><stop offset="0.1948" stop-color="#0000dd"/><stop offset="0.2060" stop-color="#0000dd"/><stop offset="0.2065" stop-color="#0078dd"/><stop offset="0.2069" stop-color="#0098dd"/><stop offset="0.2071" stop-color="#009fcb"/><stop offset="0.2245" stop-color="#00aaab"/><stop offset="0.2303" stop-color="#00aaa3"/><stop offset="0.2312" stop-color="#00aa88"/><stop offset="0.2322" stop-color="#009a00"/><stop offset="0.2509" stop-color="#00bc00"/><stop offset="0.2626" stop-color="#00dc00"/><stop offset="0.2697" stop-color="#00f200"/><stop offset="0.2846" stop-color="#00ff00"/><stop offset="0.5019" stop-color="#00ff00"/><stop offset="0.5243" stop-color="#00ea00"/><stop offset="0.5348" stop-color="#00dc00"/><stop offset="0.5506" stop-color="#00ca00"/><stop offset="0.5780" stop-color="#00bc00"/><stop offset="0.5918" stop-color="#00b400"/><stop offset="0.6037" stop-color="#009a00"/><stop offset="0.6067" stop-color="#009d1d"/><stop offset="0.6255" stop-color="#00aa88"/><stop offset="0.6442" stop-color="#00aaa3"/><stop offset="0.6492" stop-color="#00aaab"/><stop offset="0.6742" stop-color="#0098dd"/><stop offset="0.6742" stop-color="#0098dd"/><stop offset="0.7116" stop-color="#008add"/><stop offset="0.7144" stop-color="#0078dd"/><stop offset="0.7191" stop-color="#0000dd"/><stop offset="0.7416" stop-color="#0000dd"/><stop offset="0.7426" stop-color="#0078dd"/><stop offset="0.7436" stop-color="#0098dd"/><stop offset="0.7496" stop-color="#0098dd"/><stop offset="0.7498" stop-color="#0078dd"/><stop offset="0.7500" stop-color="#0000dd"/><stop offset="0.7500" stop-color="#0000d1"/><stop offset="0.7586" stop-color="#0000d1"/><stop offset="0.7586" stop-color="#0000dd"/><stop offset="0.7588" stop-color="#0078dd"/><stop offset="0.7590" stop-color="#0098dd"/><stop offset="0.7699" stop-color="#0098dd"/><stop offset="0.7702" stop-color="#0080dd"/><stop offset="0.7826" stop-color="#0080dd"/><stop offset="0.7827" stop-color="#0098dd"/><stop offset="0.7830" stop-color="#00aaab"/><stop offset="0.7901" stop-color="#00aaab"/><stop offset="0.7902" stop-color="#0098dd"/><stop offset="0.7903" stop-color="#0078dd"/><stop offset="0.7904" stop-color="#0000dd"/><stop offset="0.7976" stop-color="#0000dd"/><stop offset="0.7977" stop-color="#0078dd"/><stop offset="0.7979" stop-color="#0098dd"/><stop offset="0.7979" stop-color="#00a3bf"/><stop offset="0.8069" stop-color="#00a3bf"/><stop offset="0.8071" stop-color="#0098dd"/><stop offset="0.8073" stop-color="#007ddd"/><stop offset="0.8144" stop-color="#007ddd"/><stop offset="0.8145" stop-color="#0078dd"/><stop offset="0.8148" stop-color="#0000dd"/><stop offset="0.8238" stop-color="#0000dd"/><stop offset="0.8242" stop-color="#0078dd"/><stop offset="0.8268" stop-color="#0078dd"/><stop offset="0.8265" stop-color="#0000dd"/><stop offset="0.8262" stop-color="#0300aa"/><stop offset="0.8262" stop-color="#0d00a8"/><stop offset="0.8464" stop-color="#3800a3"/><stop offset="0.8652" stop-color="#870098"/><stop offset="0.9213" stop-color="#830094"/><stop offset="0.9270" stop-color="#700080"/><stop offset="0.9363" stop-color="#380040"/><stop offset="0.9476" stop-color="#1c0020"/><stop offset="0.9588" stop-color="#09000b"/><stop offset="0.9700" stop-color="#000000"/><stop offset="1.0000" stop-color="#000000"/></linearGradient><linearGradient id="b1" x1="0" x2="1" y1="0" y2="0"><stop offset="0.0000" stop-color="#2f0035"/><stop offset="0.0543" stop-color="#2f0035"/><stop offset="0.0562" stop-color="#25002b"/><stop offset="0.1648" stop-color="#25002b"/><stop offset="0.1660" stop-color="#700080"/><stop offset="0.1667" stop-color="#7d008e"/><stop offset="0.1929" stop-color="#850096"/><stop offset="0.1931" stop-color="#870098"/><stop offset="0.1939" stop-color="#0300aa"/><stop offset="0.1948" stop-color="#0000dd"/><stop offset="0.2060" stop-color="#0000dd"/><stop offset="0.2065" stop-color="#0078dd"/><stop offset="0.2069" stop-color="#0098dd"/><stop offset="0.2071" stop-color="#009fcb"/><stop offset="0.2245" stop-color="#00aaab"/><stop offset="0.2303" stop-color="#00aaa3"/><stop offset="0.2312" stop-color="#00aa88"/><stop offset="0.2322" stop-color="#009a00"/><stop offset="0.2509" stop-color="#00bc00"/><stop offset="0.2626" stop-color="#00dc00"/><stop offset="0.2697" stop-color="#00f200"/><stop offset="0.2846" stop-color="#00ff00"/><stop offset="0.5019" stop-color="#00ff00"/><stop offset="0.5243" stop-color="#00ea00"/><stop offset="0.5348" stop-color="#00dc00"/><stop offset="0.5506" stop-color="#00ca00"/><stop offset="0.5780" stop-color="#00bc00"/><stop offset="0.5918" stop-color="#00b400"/><stop offset="0.6037" stop-color="#009a00"/><stop offset="0.6067" stop-color="#009d1d"/><stop offset="0.6255" stop-color="#00aa88"/><stop offset="0.6442" stop-color="#00aaa3"/><stop offset="0.6492" stop-color="#00aaab"/><stop offset="0.6742" stop-color="#0098dd"/><stop offset="0.6742" stop-color="#0098dd"/><stop offset="0.7116" stop-color="#008add"/><stop offset="0.7144" stop-color="#0078dd"/><stop offset="0.7191" stop-color="#0000dd"/><stop offset="0.7416" stop-color="#0000dd"/><stop offset="0.7426" stop-color="#0078dd"/><stop offset="0.7436" stop-color="#0098dd"/><stop offset="0.7496" stop-color="#0098dd"/><stop offset="0.7498" stop-color="#0078dd"/><stop offset="0.7500" stop-color="#0000dd"/><stop offset="0.7500" stop-color="#0000d1"/><stop offset="0.7586" stop-color="#0000d1"/><stop offset="0.7586" stop-color="#0000dd"/><stop offset="0.7588" stop-color="#0078dd"/><stop offset="0.7590" stop-color="#0098dd"/><stop offset="0.7699" stop-color="#0098dd"/><stop offset="0.7702" stop-color="#0080dd"/><stop offset="0.7826" stop-color="#0080dd"/><stop offset="0.7827" stop-color="#0098dd"/><stop offset="0.7830" stop-color="#00aaab"/><stop offset="0.7901" stop-color="#00aaab"/><stop offset="0.7902" stop-color="#0098dd"/><stop offset="0.7903" stop-color="#0078dd"/><stop offset="0.7904" stop-color="#0000dd"/><stop offset="0.7976" stop-color="#0000dd"/><stop offset="0.7977" stop-color="#0078dd"/><stop offset="0.7979" stop-color="#0098dd"/><stop offset="0.7979" stop-color="#00a3bf"/><stop offset="0.8069" stop-color="#00a3bf"/><stop offset="0.8071" stop-color="#0098dd"/><stop offset="0.8073" stop-color="#007ddd"/><stop offset="0.8144" stop-color="#007ddd"/><stop offset="0.8145" stop-color="#0078dd"/><stop offset="0.8148" stop-color="#0000dd"/><stop offset="0.8238" stop-color="#0000dd"/><stop offset="0.8242" stop-color="#0078dd"/><stop offset="0.8268" stop-color="#0078dd"/><stop offset="0.8265" stop-color="#0000dd"/><stop offset="0.8262" stop-color="#0300aa"/><stop offset="0.8262" stop-color="#0d00a8"/><stop offset="0.8464" stop-color="#3800a3"/><stop offset="0.8652" stop-color="#870098"/><stop offset="0.9213" stop-color="#830094"/><stop offset="0.9270" stop-color="#700080"/><stop offset="0.9363" stop-color="#380040"/><stop offset="0.9476" stop-color="#1c0020"/><stop offset="0.9588" stop-color="#09000b"/><stop offset="0.9700" stop-color="#000000"/><stop offset="1.0000" stop-color="#000000"/></linearGradient><linearGradient id="b2" x1="0" x2="1" y1="0" y2="0"><stop offset="0.0000" stop-color="#2f0035"/><stop offset="0.2172" stop-color="#2f0035"/><stop offset="0.2809" stop-color="#380040"/><stop offset="0.8839" stop-color="#380040"/><stop offset="0.9139" stop-color="#25002b"/><stop offset="0.9363" stop-color="#130015"/><stop offset="0.9588" stop-color="#09000b"/><stop offset="0.9813" stop-color="#000000"/><stop offset="1.0000" stop-color="#000000"/></linearGradient><linearGradient id="b3" x1="0" x2="1" y1="0" y2="0"><stop offset="0.0000" stop-color="#2f0035"/><stop offset="0.1723" stop-color="#2f0035"/><stop offset="0.1760" stop-color="#380040"/><stop offset="0.2041" stop-color="#380040"/><stop offset="0.2097" stop-color="#700080"/><stop offset="0.2210" stop-color="#810092"/><stop offset="0.2333" stop-color="#870098"/><stop offset="0.2344" stop-color="#0300aa"/><stop offset="0.2352" stop-color="#0000d1"/><stop offset="0.2884" stop-color="#0000dd"/><stop offset="0.2903" stop-color="#0078dd"/><stop offset="0.3109" stop-color="#008add"/><stop offset="0.3258" stop-color="#0098dd"/><stop offset="0.3333" stop-color="#009cd3"/><stop offset="0.3483" stop-color="#00a3bf"/><stop offset="0.3958" stop-color="#00aaab"/><stop offset="0.4195" stop-color="#00aaa3"/><stop offset="0.4644" stop-color="#00aa93"/><stop offset="0.4953" stop-color="#00aa88"/><stop offset="0.5056" stop-color="#00a97d"/><stop offset="0.5110" stop-color="#00aa88"/><stop offset="0.5431" stop-color="#00aa9d"/><stop offset="0.5693" stop-color="#00aaab"/><stop offset="0.5693" stop-color="#00aaab"/><stop offset="0.5843" stop-color="#0098dd"/><stop offset="0.5843" stop-color="#0098dd"/><stop offset="0.6131" stop-color="#0085dd"/><stop offset="0.6196" stop-color="#0078dd"/><stop offset="0.6292" stop-color="#002fdd"/><stop offset="0.6472" stop-color="#0000dd"/><stop offset="0.6929" stop-color="#0000c9"/><stop offset="0.7025" stop-color="#0300aa"/><stop offset="0.7041" stop-color="#0d00a8"/><stop offset="0.7210" stop-color="#58009f"/><stop offset="0.7341" stop-color="#870098"/><stop offset="0.7416" stop-color="#870098"/><stop offset="0.7421" stop-color="#0300aa"/><stop offset="0.7426" stop-color="#0000dd"/><stop offset="0.7431" stop-color="#0078dd"/><stop offset="0.7436" stop-color="#0098dd"/><stop offset="0.7496" stop-color="#0098dd"/><stop offset="0.7498" stop-color="#0078dd"/><stop offset="0.7500" stop-color="#0000dd"/><stop offset="0.7500" stop-color="#0000d1"/><stop offset="0.7586" stop-color="#0000d1"/><stop offset="0.7586" stop-color="#0000dd"/><stop offset="0.7588" stop-color="#0078dd"/><stop offset="0.7590" stop-color="#0098dd"/><stop offset="0.7699" stop-color="#0098dd"/><stop offset="0.7702" stop-color="#0080dd"/><stop offset="0.7826" stop-color="#0080dd"/><stop offset="0.7827" stop-color="#0098dd"/><stop offset="0.7830" stop-color="#00aaab"/><stop offset="0.7901" stop-color="#00aaab"/><stop offset="0.7902" stop-color="#0098dd"/><stop offset="0.7903" stop-color="#0078dd"/><stop offset="0.7904" stop-color="#0000dd"/><stop offset="0.7976" stop-color="#0000dd"/><stop offset="0.7977" stop-color="#0078dd"/><stop offset="0.7979" stop-color="#0098dd"/><stop offset="0.7979" stop-color="#00a3bf"/><stop offset="0.8069" stop-color="#00a3bf"/><stop offset="0.8071" stop-color="#0098dd"/><stop offset="0.8073" stop-color="#007ddd"/><stop offset="0.8144" stop-color="#007ddd"/><stop offset="0.8145" stop-color="#0078dd"/><stop offset="0.8148" stop-color="#0000dd"/><stop offset="0.8238" stop-color="#0000dd"/><stop offset="0.8242" stop-color="#0078dd"/><stop offset="0.8268" stop-color="#0078dd"/><stop offset="0.8266" stop-color="#0000dd"/><stop offset="0.8264" stop-color="#0300aa"/><stop offset="0.8262" stop-color="#870098"/><stop offset="0.8839" stop-color="#830094"/><stop offset="0.8929" stop-color="#810092"/><stop offset="0.9026" stop-color="#700080"/><stop offset="0.9199" stop-color="#380040"/><stop offset="0.9363" stop-color="#1c0020"/><stop offset="0.9539" stop-color="#130015"/><stop offset="0.9678" stop-color="#000000"/><stop offset="1.0000" stop-color="#000000"/></linearGradient><linearGradient id="b4" x1="0" x2="1" y1="0" y2="0"><stop offset="0.0000" stop-color="#2f0035"/><stop offset="0.1723" stop-color="#2f0035"/><stop offset="0.1760" stop-color="#380040"/><stop offset="0.2041" stop-color="#380040"/><stop offset="0.2097" stop-color="#700080"/><stop offset="0.2210" stop-color="#810092"/><stop offset="0.2333" stop-color="#870098"/><stop offset="0.2344" stop-color="#0300aa"/><stop offset="0.2352" stop-color="#0000d1"/><stop offset="0.2734" stop-color="#0000dd"/><stop offset="0.2753" stop-color="#0078dd"/><stop offset="0.2959" stop-color="#008add"/><stop offset="0.3109" stop-color="#0098dd"/><stop offset="0.3184" stop-color="#009cd3"/><stop offset="0.3371" stop-color="#00a3bf"/><stop offset="0.3920" stop-color="#00aaab"/><stop offset="0.4195" stop-color="#00aaa3"/><stop offset="0.4644" stop-color="#00aa88"/><stop offset="0.4644" stop-color="#00aa88"/><stop offset="0.5056" stop-color="#00a353"/><stop offset="0.5206" stop-color="#00aa88"/><stop offset="0.5431" stop-color="#00aa9d"/><stop offset="0.5693" stop-color="#00aaab"/><stop offset="0.5693" stop-color="#00aaab"/><stop offset="0.5843" stop-color="#0098dd"/><stop offset="0.5843" stop-color="#0098dd"/><stop offset="0.6131" stop-color="#0085dd"/><stop offset="0.6196" stop-color="#0078dd"/><stop offset="0.6292" stop-color="#002fdd"/><stop offset="0.6472" stop-color="#0000dd"/><stop offset="0.6929" stop-color="#0000c9"/><stop offset="0.7025" stop-color="#0300aa"/><stop offset="0.7041" stop-color="#0d00a8"/><stop offset="0.7210" stop-color="#58009f"/><stop offset="0.7341" stop-color="#870098"/><stop offset="0.7416" stop-color="#870098"/><stop offset="0.7421" stop-color="#0300aa"/><stop offset="0.7426" stop-color="#0000dd"/><stop offset="0.7431" stop-color="#0078dd"/><stop offset="0.7436" stop-color="#0098dd"/><stop offset="0.7496" stop-color="#0098dd"/><stop offset="0.7498" stop-color="#0078dd"/><stop offset="0.7500" stop-color="#0000dd"/><stop offset="0.7500" stop-color="#0000d1"/><stop offset="0.7586" stop-color="#0000d1"/><stop offset="0.7586" stop-color="#0000dd"/><stop offset="0.7588" stop-color="#0078dd"/><stop offset="0.7590" stop-color="#0098dd"/><stop offset="0.7699" stop-color="#0098dd"/><stop offset="0.7702" stop-color="#0080dd"/><stop offset="0.7826" stop-color="#0080dd"/><stop offset="0.7827" stop-color="#0098dd"/><stop offset="0.7830" stop-color="#00aaab"/><stop offset="0.7901" stop-color="#00aaab"/><stop offset="0.7902" stop-color="#0098dd"/><stop offset="0.7903" stop-color="#0078dd"/><stop offset="0.7904" stop-color="#0000dd"/><stop offset="0.7976" stop-color="#0000dd"/><stop offset="0.7977" stop-color="#0078dd"/><stop offset="0.7979" stop-color="#0098dd"/><stop offset="0.7979" stop-color="#00a3bf"/><stop offset="0.8069" stop-color="#00a3bf"/><stop offset="0.8071" stop-color="#0098dd"/><stop offset="0.8073" stop-color="#007ddd"/><stop offset="0.8144" stop-color="#007ddd"/><stop offset="0.8145" stop-color="#0078dd"/><stop offset="0.8148" stop-color="#0000dd"/><stop offset="0.8238" stop-color="#0000dd"/><stop offset="0.8242" stop-color="#0078dd"/><stop offset="0.8268" stop-color="#0078dd"/><stop offset="0.8266" stop-color="#0000dd"/><stop offset="0.8264" stop-color="#0300aa"/><stop offset="0.8262" stop-color="#870098"/><stop offset="0.8839" stop-color="#830094"/><stop offset="0.8929" stop-color="#810092"/><stop offset="0.9026" stop-color="#700080"/><stop offset="0.9199" stop-color="#380040"/><stop offset="0.9363" stop-color="#1c0020"/><stop offset="0.9539" stop-color="#130015"/><stop offset="0.9678" stop-color="#000000"/><stop offset="1.0000" stop-color="#000000"/></linearGradient><linearGradient id="b5" x1="0" x2="1" y1="0" y2="0"><stop offset="0.0000" stop-color="#2f0035"/><stop offset="0.1723" stop-color="#2f0035"/><stop offset="0.1760" stop-color="#380040"/><stop offset="0.2041" stop-color="#380040"/><stop offset="0.2097" stop-color="#700080"/><stop offset="0.2210" stop-color="#810092"/><stop offset="0.2333" stop-color="#870098"/><stop offset="0.2344" stop-color="#0300aa"/><stop offset="0.2352" stop-color="#0000d1"/><stop offset="0.2959" stop-color="#0000dd"/><stop offset="0.2978" stop-color="#0078dd"/><stop offset="0.3184" stop-color="#008add"/><stop offset="0.3333" stop-color="#0098dd"/><stop offset="0.3408" stop-color="#009cd3"/><stop offset="0.3558" stop-color="#009fcb"/><stop offset="0.4036" stop-color="#00aaab"/><stop offset="0.4195" stop-color="#00aaa3"/><stop offset="0.4644" stop-color="#00aa93"/><stop offset="0.4953" stop-color="#00aa88"/><stop offset="0.5056" stop-color="#00a97d"/><stop offset="0.5110" stop-color="#00aa88"/><stop offset="0.5431" stop-color="#00aa9d"/><stop offset="0.5693" stop-color="#00aaab"/><stop offset="0.5693" stop-color="#00aaab"/><stop offset="0.5843" stop-color="#0098dd"/><stop offset="0.5843" stop-color="#0098dd"/><stop offset="0.6131" stop-color="#0085dd"/><stop offset="0.6196" stop-color="#0078dd"/><stop offset="0.6292" stop-color="#002fdd"/><stop offset="0.6472" stop-color="#0000dd"/><stop offset="0.6929" stop-color="#0000c9"/><stop offset="0.7025" stop-color="#0300aa"/><stop offset="0.7041" stop-color="#0d00a8"/><stop offset="0.7210" stop-color="#58009f"/><stop offset="0.7341" stop-color="#870098"/><stop offset="0.7416" stop-color="#870098"/><stop offset="0.7421" stop-color="#0300aa"/><stop offset="0.7426" stop-color="#0000dd"/><stop offset="0.7431" stop-color="#0078dd"/><stop offset="0.7436" stop-color="#0098dd"/><stop offset="0.7496" stop-color="#0098dd"/><stop offset="0.7498" stop-color="#0078dd"/><stop offset="0.7500" stop-color="#0000dd"/><stop offset="0.7500" stop-color="#0000d1"/><stop offset="0.7586" stop-color="#0000d1"/><stop offset="0.7586" stop-color="#0000dd"/><stop offset="0.7588" stop-color="#0078dd"/><stop offset="0.7590" stop-color="#0098dd"/><stop offset="0.7699" stop-color="#0098dd"/><stop offset="0.7702" stop-color="#0080dd"/><stop offset="0.7826" stop-color="#0080dd"/><stop offset="0.7827" stop-color="#0098dd"/><stop offset="0.7830" stop-color="#00aaab"/><stop offset="0.7901" stop-color="#00aaab"/><stop offset="0.7902" stop-color="#0098dd"/><stop offset="0.7903" stop-color="#0078dd"/><stop offset="0.7904" stop-color="#0000dd"/><stop offset="0.7976" stop-color="#0000dd"/><stop offset="0.7977" stop-color="#0078dd"/><stop offset="0.7979" stop-color="#0098dd"/><stop offset="0.7979" stop-color="#00a3bf"/><stop offset="0.8069" stop-color="#00a3bf"/><stop offset="0.8071" stop-color="#0098dd"/><stop offset="0.8073" stop-color="#007ddd"/><stop offset="0.8144" stop-color="#007ddd"/><stop offset="0.8145" stop-color="#0078dd"/><stop offset="0.8148" stop-color="#0000dd"/><stop offset="0.8238" stop-color="#0000dd"/><stop offset="0.8242" stop-color="#0078dd"/><stop offset="0.8268" stop-color="#0078dd"/><stop offset="0.8266" stop-color="#0000dd"/><stop offset="0.8264" stop-color="#0300aa"/><stop offset="0.8262" stop-color="#870098"/><stop offset="0.8839" stop-color="#830094"/><stop offset="0.8929" stop-color="#810092"/><stop offset="0.9026" stop-color="#700080"/><stop offset="0.9199" stop-color="#380040"/><stop offset="0.9363" stop-color="#1c0020"/><stop offset="0.9539" stop-color="#130015"/><stop offset="0.9678" stop-color="#000000"/><stop offset="1.0000" stop-color="#000000"/></linearGradient><linearGradient id="b6" x1="0" x2="1" y1="0" y2="0"><stop offset="0.0000" stop-color="#2f0035"/><stop offset="0.1723" stop-color="#2f0035"/><stop offset="0.1760" stop-color="#380040"/><stop offset="0.2041" stop-color="#380040"/><stop offset="0.2097" stop-color="#700080"/><stop offset="0.2210" stop-color="#810092"/><stop offset="0.2333" stop-color="#870098"/><stop offset="0.2344" stop-color="#0300aa"/><stop offset="0.2352" stop-color="#0000d1"/><stop offset="0.2734" stop-color="#0000dd"/><stop offset="0.2753" stop-color="#0078dd"/><stop offset="0.2959" stop-color="#008add"/><stop offset="0.3109" stop-color="#0098dd"/><stop offset="0.3184" stop-color="#009cd3"/><stop offset="0.3371" stop-color="#00a3bf"/><stop offset="0.3920" stop-color="#00aaab"/><stop offset="0.4195" stop-color="#00aaa3"/><stop offset="0.4644" stop-color="#00aa88"/><stop offset="0.4644" stop-color="#00aa88"/><stop offset="0.5056" stop-color="#00a353"/><stop offset="0.5206" stop-color="#00aa88"/><stop offset="0.5431" stop-color="#00aa9d"/><stop offset="0.5693" stop-color="#00aaab"/><stop offset="0.5693" stop-color="#00aaab"/><stop offset="0.5843" stop-color="#0098dd"/><stop offset="0.5843" stop-color="#0098dd"/><stop offset="0.6131" stop-color="#0085dd"/><stop offset="0.6196" stop-color="#0078dd"/><stop offset="0.6292" stop-color="#002fdd"/><stop offset="0.6472" stop-color="#0000dd"/><stop offset="0.6929" stop-color="#0000c9"/><stop offset="0.7025" stop-color="#0300aa"/><stop offset="0.7041" stop-color="#0d00a8"/><stop offset="0.7210" stop-color="#58009f"/><stop offset="0.7341" stop-color="#870098"/><stop offset="0.7416" stop-color="#870098"/><stop offset="0.7421" stop-color="#0300aa"/><stop offset="0.7426" stop-color="#0000dd"/><stop offset="0.7431" stop-color="#0078dd"/><stop offset="0.7436" stop-color="#0098dd"/><stop offset="0.7496" stop-color="#0098dd"/><stop offset="0.7498" stop-color="#0078dd"/><stop offset="0.7500" stop-color="#0000dd"/><stop offset="0.7500" stop-color="#0000d1"/><stop offset="0.7586" stop-color="#0000d1"/><stop offset="0.7586" stop-color="#0000dd"/><stop offset="0.7588" stop-color="#0078dd"/><stop offset="0.7590" stop-color="#0098dd"/><stop offset="0.7699" stop-color="#0098dd"/><stop offset="0.7702" stop-color="#0080dd"/><stop offset="0.7826" stop-color="#0080dd"/><stop offset="0.7827" stop-color="#0098dd"/><stop offset="0.7830" stop-color="#00aaab"/><stop offset="0.7901" stop-color="#00aaab"/><stop offset="0.7902" stop-color="#0098dd"/><stop offset="0.7903" stop-color="#0078dd"/><stop offset="0.7904" stop-color="#0000dd"/><stop offset="0.7976" stop-color="#0000dd"/><stop offset="0.7977" stop-color="#0078dd"/><stop offset="0.7979" stop-color="#0098dd"/><stop offset="0.7979" stop-color="#00a3bf"/><stop offset="0.8069" stop-color="#00a3bf"/><stop offset="0.8071" stop-color="#0098dd"/><stop offset="0.8073" stop-color="#007ddd"/><stop offset="0.8144" stop-color="#007ddd"/><stop offset="0.8145" stop-color="#0078dd"/><stop offset="0.8148" stop-color="#0000dd"/><stop offset="0.8238" stop-color="#0000dd"/><stop offset="0.8242" stop-color="#0078dd"/><stop offset="0.8268" stop-color="#0078dd"/><stop offset="0.8266" stop-color="#0000dd"/><stop offset="0.8264" stop-color="#0300aa"/><stop offset="0.8262" stop-color="#870098"/><stop offset="0.8839" stop-color="#830094"/><stop offset="0.8929" stop-color="#810092"/><stop offset="0.9026" stop-color="#700080"/><stop offset="0.9199" stop-color="#380040"/><stop offset="0.9363" stop-color="#1c0020"/><stop offset="0.9539" stop-color="#130015"/><stop offset="0.9678" stop-color="#000000"/><stop offset="1.0000" stop-color="#000000"/></linearGradient><linearGradient id="b7" x1="0" x2="1" y1="0" y2="0"><stop offset="0.0000" stop-color="#2f0035"/><stop offset="0.1723" stop-color="#2f0035"/><stop offset="0.1760" stop-color="#380040"/><stop offset="0.2041" stop-color="#380040"/><stop offset="0.2097" stop-color="#700080"/><stop offset="0.2210" stop-color="#810092"/><stop offset="0.2333" stop-color="#870098"/><stop offset="0.2344" stop-color="#0300aa"/><stop offset="0.2352" stop-color="#0000d1"/><stop offset="0.2659" stop-color="#0000dd"/><stop offset="0.2678" stop-color="#0078dd"/><stop offset="0.2884" stop-color="#008add"/><stop offset="0.3034" stop-color="#0098dd"/><stop offset="0.3109" stop-color="#009cd3"/><stop offset="0.3371" stop-color="#00a3bf"/><stop offset="0.3920" stop-color="#00aaab"/><stop offset="0.4195" stop-color="#00aaa3"/><stop offset="0.4644" stop-color="#00aa90"/><stop offset="0.4850" stop-color="#00aa88"/><stop offset="0.5056" stop-color="#00a773"/><stop offset="0.5150" stop-color="#00aa88"/><stop offset="0.5431" stop-color="#00aa9d"/><stop offset="0.5693" stop-color="#00aaab"/><stop offset="0.5693" stop-color="#00aaab"/><stop offset="0.5843" stop-color="#0098dd"/><stop offset="0.5843" stop-color="#0098dd"/><stop offset="0.6131" stop-color="#0085dd"/><stop offset="0.6196" stop-color="#0078dd"/><stop offset="0.6292" stop-color="#002fdd"/><stop offset="0.6472" stop-color="#0000dd"/><stop offset="0.6929" stop-color="#0000c9"/><stop offset="0.7025" stop-color="#0300aa"/><stop offset="0.7041" stop-color="#0d00a8"/><stop offset="0.7210" stop-color="#58009f"/><stop offset="0.7341" stop-color="#870098"/><stop offset="0.7416" stop-color="#870098"/><stop offset="0.7421" stop-color="#0300aa"/><stop offset="0.7426" stop-color="#0000dd"/><stop offset="0.7431" stop-color="#0078dd"/><stop offset="0.7436" stop-color="#0098dd"/><stop offset="0.7496" stop-color="#0098dd"/><stop offset="0.7498" stop-color="#0078dd"/><stop offset="0.7500" stop-color="#0000dd"/><stop offset="0.7500" stop-color="#0000d1"/><stop offset="0.7586" stop-color="#0000d1"/><stop offset="0.7586" stop-color="#0000dd"/><stop offset="0.7588" stop-color="#0078dd"/><stop offset="0.7590" stop-color="#0098dd"/><stop offset="0.7699" stop-color="#0098dd"/><stop offset="0.7702" stop-color="#0080dd"/><stop offset="0.7826" stop-color="#0080dd"/><stop offset="0.7827" stop-color="#0098dd"/><stop offset="0.7830" stop-color="#00aaab"/><stop offset="0.7901" stop-color="#00aaab"/><stop offset="0.7902" stop-color="#0098dd"/><stop offset="0.7903" stop-color="#0078dd"/><stop offset="0.7904" stop-color="#0000dd"/><stop offset="0.7976" stop-color="#0000dd"/><stop offset="0.7977" stop-color="#0078dd"/><stop offset="0.7979" stop-color="#0098dd"/><stop offset="0.7979" stop-color="#00a3bf"/><stop offset="0.8069" stop-color="#00a3bf"/><stop offset="0.8071" stop-color="#0098dd"/><stop offset="0.8073" stop-color="#007ddd"/><stop offset="0.8144" stop-color="#007ddd"/><stop offset="0.8145" stop-color="#0078dd"/><stop offset="0.8148" stop-color="#0000dd"/><stop offset="0.8238" stop-color="#0000dd"/><stop offset="0.8242" stop-color="#0078dd"/><stop offset="0.8268" stop-color="#0078dd"/><stop offset="0.8266" stop-color="#0000dd"/><stop offset="0.8264" stop-color="#0300aa"/><stop offset="0.8262" stop-color="#870098"/><stop offset="0.8839" stop-color="#830094"/><stop offset="0.8929" stop-color="#810092"/><stop offset="0.9026" stop-color="#700080"/><stop offset="0.9199" stop-color="#380040"/><stop offset="0.9363" stop-color="#1c0020"/><stop offset="0.9539" stop-color="#130015"/><stop offset="0.9678" stop-color="#000000"/><stop offset="1.0000" stop-color="#000000"/></linearGradient><linearGradient id="b8" x1="0" x2="1" y1="0" y2="0"><stop offset="0.0000" stop-color="#2f0035"/><stop offset="0.1723" stop-color="#2f0035"/><stop offset="0.1760" stop-color="#380040"/><stop offset="0.2041" stop-color="#380040"/><stop offset="0.2097" stop-color="#700080"/><stop offset="0.2210" stop-color="#810092"/><stop offset="0.2333" stop-color="#870098"/><stop offset="0.2344" stop-color="#0300aa"/><stop offset="0.2352" stop-color="#0000d1"/><stop offset="0.2790" stop-color="#0000dd"/><stop offset="0.2809" stop-color="#0078dd"/><stop offset="0.3015" stop-color="#008add"/><stop offset="0.3165" stop-color="#0098dd"/><stop offset="0.3240" stop-color="#009cd3"/><stop offset="0.3390" stop-color="#00a3bf"/><stop offset="0.3926" stop-color="#00aaab"/><stop offset="0.4195" stop-color="#00aaa3"/><stop offset="0.4644" stop-color="#00aa90"/><stop offset="0.4850" stop-color="#00aa88"/><stop offset="0.5056" stop-color="#00a773"/><stop offset="0.5150" stop-color="#00aa88"/><stop offset="0.5431" stop-color="#00aa9d"/><stop offset="0.5693" stop-color="#00aaab"/><stop offset="0.5693" stop-color="#00aaab"/><stop offset="0.5843" stop-color="#0098dd"/><stop offset="0.5843" stop-color="#0098dd"/><stop offset="0.6131" stop-color="#0085dd"/><stop offset="0.6196" stop-color="#0078dd"/><stop offset="0.6292" stop-color="#002fdd"/><stop offset="0.6472" stop-color="#0000dd"/><stop offset="0.6929" stop-color="#0000c9"/><stop offset="0.7025" stop-color="#0300aa"/><stop offset="0.7041" stop-color="#0d00a8"/><stop offset="0.7210" stop-color="#58009f"/><stop offset="0.7341" stop-color="#870098"/><stop offset="0.7416" stop-color="#870098"/><stop offset="0.7421" stop-color="#0300aa"/><stop offset="0.7426" stop-color="#0000dd"/><stop offset="0.7431" stop-color="#0078dd"/><stop offset="0.7436" stop-color="#0098dd"/><stop offset="0.7496" stop-color="#0098dd"/><stop offset="0.7498" stop-color="#0078dd"/><stop offset="0.7500" stop-color="#0000dd"/><stop offset="0.7500" stop-color="#0000d1"/><stop offset="0.7586" stop-color="#0000d1"/><stop offset="0.7586" stop-color="#0000dd"/><stop offset="0.7588" stop-color="#0078dd"/><stop offset="0.7590" stop-color="#0098dd"/><stop offset="0.7699" stop-color="#0098dd"/><stop offset="0.7702" stop-color="#0080dd"/><stop offset="0.7826" stop-color="#0080dd"/><stop offset="0.7827" stop-color="#0098dd"/><stop offset="0.7830" stop-color="#00aaab"/><stop offset="0.7901" stop-color="#00aaab"/><stop offset="0.7902" stop-color="#0098dd"/><stop offset="0.7903" stop-color="#0078dd"/><stop offset="0.7904" stop-color="#0000dd"/><stop offset="0.7976" stop-color="#0000dd"/><stop offset="0.7977" stop-color="#0078dd"/><stop offset="0.7979" stop-color="#0098dd"/><stop offset="0.7979" stop-color="#00a3bf"/><stop offset="0.8069" stop-color="#00a3bf"/><stop offset="0.8071" stop-color="#0098dd"/><stop offset="0.8073" stop-color="#007ddd"/><stop offset="0.8144" stop-color="#007ddd"/><stop offset="0.8145" stop-color="#0078dd"/><stop offset="0.8148" stop-color="#0000dd"/><stop offset="0.8238" stop-color="#0000dd"/><stop offset="0.8242" stop-color="#0078dd"/><stop offset="0.8268" stop-color="#0078dd"/><stop offset="0.8266" stop-color="#0000dd"/><stop offset="0.8264" stop-color="#0300aa"/><stop offset="0.8262" stop-color="#870098"/><stop offset="0.8839" stop-color="#830094"/><stop offset="0.8929" stop-color="#810092"/><stop offset="0.9026" stop-color="#700080"/><stop offset="0.9199" stop-color="#380040"/><stop offset="0.9363" stop-color="#1c0020"/><stop offset="0.9539" stop-color="#130015"/><stop offset="0.9678" stop-color="#000000"/><stop offset="1.0000" stop-color="#000000"/></linearGradient><linearGradient id="b9" x1="0" x2="1" y1="0" y2="0"><stop offset="0.0000" stop-color="#2f0035"/><stop offset="0.1723" stop-color="#2f0035"/><stop offset="0.1760" stop-color="#380040"/><stop offset="0.2041" stop-color="#380040"/><stop offset="0.2097" stop-color="#700080"/><stop offset="0.2210" stop-color="#810092"/><stop offset="0.2333" stop-color="#870098"/><stop offset="0.2344" stop-color="#0300aa"/><stop offset="0.2352" stop-color="#0000d1"/><stop offset="0.2734" stop-color="#0000dd"/><stop offset="0.2753" stop-color="#0078dd"/><stop offset="0.2959" stop-color="#008add"/><stop offset="0.3109" stop-color="#0098dd"/><stop offset="0.3184" stop-color="#009cd3"/><stop offset="0.3371" stop-color="#00a3bf"/><stop offset="0.3920" stop-color="#00aaab"/><stop offset="0.4195" stop-color="#00aaa3"/><stop offset="0.4644" stop-color="#00aa90"/><stop offset="0.4850" stop-color="#00aa88"/><stop offset="0.5056" stop-color="#00a773"/><stop offset="0.5150" stop-color="#00aa88"/><stop offset="0.5431" stop-color="#00aa9d"/><stop offset="0.5693" stop-color="#00aaab"/><stop offset="0.5693" stop-color="#00aaab"/><stop offset="0.5843" stop-color="#0098dd"/><stop offset="0.5843" stop-color="#0098dd"/><stop offset="0.6131" stop-color="#0085dd"/><stop offset="0.6196" stop-color="#0078dd"/><stop offset="0.6292" stop-color="#002fdd"/><stop offset="0.6472" stop-color="#0000dd"/><stop offset="0.6929" stop-color="#0000c9"/><stop offset="0.7025" stop-color="#0300aa"/><stop offset="0.7041" stop-color="#0d00a8"/><stop offset="0.7210" stop-color="#58009f"/><stop offset="0.7341" stop-color="#870098"/><stop offset="0.7416" stop-color="#870098"/><stop offset="0.7421" stop-color="#0300aa"/><stop offset="0.7426" stop-color="#0000dd"/><stop offset="0.7431" stop-color="#0078dd"/><stop offset="0.7436" stop-color="#0098dd"/><stop offset="0.7496" stop-color="#0098dd"/><stop offset="0.7498" stop-color="#0078dd"/><stop offset="0.7500" stop-color="#0000dd"/><stop offset="0.7500" stop-color="#0000d1"/><stop offset="0.7586" stop-color="#0000d1"/><stop offset="0.7586" stop-color="#0000dd"/><stop offset="0.7588" stop-color="#0078dd"/><stop offset="0.7590" stop-color="#0098dd"/><stop offset="0.7699" stop-color="#0098dd"/><stop offset="0.7702" stop-color="#0080dd"/><stop offset="0.7826" stop-color="#0080dd"/><stop offset="0.7827" stop-color="#0098dd"/><stop offset="0.7830" stop-color="#00aaab"/><stop offset="0.7901" stop-color="#00aaab"/><stop offset="0.7902" stop-color="#0098dd"/><stop offset="0.7903" stop-color="#0078dd"/><stop offset="0.7904" stop-color="#0000dd"/><stop offset="0.7976" stop-color="#0000dd"/><stop offset="0.7977" stop-color="#0078dd"/><stop offset="0.7979" stop-color="#0098dd"/><stop offset="0.7979" stop-color="#00a3bf"/><stop offset="0.8069" stop-color="#00a3bf"/><stop offset="0.8071" stop-color="#0098dd"/><stop offset="0.8073" stop-color="#007ddd"/><stop offset="0.8144" stop-color="#007ddd"/><stop offset="0.8145" stop-color="#0078dd"/><stop offset="0.8148" stop-color="#0000dd"/><stop offset="0.8238" stop-color="#0000dd"/><stop offset="0.8242" stop-color="#0078dd"/><stop offset="0.8268" stop-color="#0078dd"/><stop offset="0.8266" stop-color="#0000dd"/><stop offset="0.8264" stop-color="#0300aa"/><stop offset="0.8262" stop-color="#870098"/><stop offset="0.8839" stop-color="#830094"/><stop offset="0.8929" stop-color="#810092"/><stop offset="0.9026" stop-color="#700080"/><stop offset="0.9199" stop-color="#380040"/><stop offset="0.9363" stop-color="#1c0020"/><stop offset="0.9539" stop-color="#130015"/><stop offset="0.9678" stop-color="#000000"/><stop offset="1.0000" stop-color="#000000"/></linearGradient><linearGradient id="b10" x1="0" x2="1" y1="0" y2="0"><stop offset="0.0000" stop-color="#2f0035"/><stop offset="0.1723" stop-color="#2f0035"/><stop offset="0.1760" stop-color="#380040"/><stop offset="0.2041" stop-color="#380040"/><stop offset="0.2097" stop-color="#700080"/><stop offset="0.2210" stop-color="#810092"/><stop offset="0.2333" stop-color="#870098"/><stop offset="0.2344" stop-color="#0300aa"/><stop offset="0.2352" stop-color="#0000d1"/><stop offset="0.2790" stop-color="#0000dd"/><stop offset="0.2809" stop-color="#0078dd"/><stop offset="0.3015" stop-color="#008add"/><stop offset="0.3165" stop-color="#0098dd"/><stop offset="0.3240" stop-color="#009cd3"/><stop offset="0.3390" stop-color="#00a3bf"/><stop offset="0.3926" stop-color="#00aaab"/><stop offset="0.4195" stop-color="#00aaa3"/><stop offset="0.4644" stop-color="#00aa90"/><stop offset="0.4850" stop-color="#00aa88"/><stop offset="0.5056" stop-color="#00a773"/><stop offset="0.5150" stop-color="#00aa88"/><stop offset="0.5431" stop-color="#00aa9d"/><stop offset="0.5693" stop-color="#00aaab"/><stop offset="0.5693" stop-color="#00aaab"/><stop offset="0.5843" stop-color="#0098dd"/><stop offset="0.5843" stop-color="#0098dd"/><stop offset="0.6131" stop-color="#0085dd"/><stop offset="0.6196" stop-color="#0078dd"/><stop offset="0.6292" stop-color="#002fdd"/><stop offset="0.6472" stop-color="#0000dd"/><stop offset="0.6929" stop-color="#0000c9"/><stop offset="0.7025" stop-color="#0300aa"/><stop offset="0.7041" stop-color="#0d00a8"/><stop offset="0.7210" stop-color="#58009f"/><stop offset="0.7341" stop-color="#870098"/><stop offset="0.7416" stop-color="#870098"/><stop offset="0.7421" stop-color="#0300aa"/><stop offset="0.7426" stop-color="#0000dd"/><stop offset="0.7431" stop-color="#0078dd"/><stop offset="0.7436" stop-color="#0098dd"/><stop offset="0.7496" stop-color="#0098dd"/><stop offset="0.7498" stop-color="#0078dd"/><stop offset="0.7500" stop-color="#0000dd"/><stop offset="0.7500" stop-color="#0000d1"/><stop offset="0.7586" stop-color="#0000d1"/><stop offset="0.7586" stop-color="#0000dd"/><stop offset="0.7588" stop-color="#0078dd"/><stop offset="0.7590" stop-color="#0098dd"/><stop offset="0.7699" stop-color="#0098dd"/><stop offset="0.7702" stop-color="#0080dd"/><stop offset="0.7826" stop-color="#0080dd"/><stop offset="0.7827" stop-color="#0098dd"/><stop offset="0.7830" stop-color="#00aaab"/><stop offset="0.7901" stop-color="#00aaab"/><stop offset="0.7902" stop-color="#0098dd"/><stop offset="0.7903" stop-color="#0078dd"/><stop offset="0.7904" stop-color="#0000dd"/><stop offset="0.7976" stop-color="#0000dd"/><stop offset="0.7977" stop-color="#0078dd"/><stop offset="0.7979" stop-color="#0098dd"/><stop offset="0.7979" stop-color="#00a3bf"/><stop offset="0.8069" stop-color="#00a3bf"/><stop offset="0.8071" stop-color="#0098dd"/><stop offset="0.8073" stop-color="#007ddd"/><stop offset="0.8144" stop-color="#007ddd"/><stop offset="0.8145" stop-color="#0078dd"/><stop offset="0.8148" stop-color="#0000dd"/><stop offset="0.8238" stop-color="#0000dd"/><stop offset="0.8242" stop-color="#0078dd"/><stop offset="0.8268" stop-color="#0078dd"/><stop offset="0.8266" stop-color="#0000dd"/><stop offset="0.8264" stop-color="#0300aa"/><stop offset="0.8262" stop-color="#870098"/><stop offset="0.8839" stop-color="#830094"/><stop offset="0.8929" stop-color="#810092"/><stop offset="0.9026" stop-color="#700080"/><stop offset="0.9199" stop-color="#380040"/><stop offset="0.9363" stop-color="#1c0020"/><stop offset="0.9539" stop-color="#130015"/><stop offset="0.9678" stop-color="#000000"/><stop offset="1.0000" stop-color="#000000"/></linearGradient><linearGradient id="b11" x1="0" x2="1" y1="0" y2="0"><stop offset="0.0000" stop-color="#2f0035"/><stop offset="0.1723" stop-color="#2f0035"/><stop offset="0.1760" stop-color="#380040"/><stop offset="0.2041" stop-color="#380040"/><stop offset="0.2097" stop-color="#700080"/><stop offset="0.2210" stop-color="#810092"/><stop offset="0.2333" stop-color="#870098"/><stop offset="0.2344" stop-color="#0300aa"/><stop offset="0.2352" stop-color="#0000d1"/><stop offset="0.2790" stop-color="#0000dd"/><stop offset="0.2809" stop-color="#0078dd"/><stop offset="0.3015" stop-color="#008add"/><stop offset="0.3165" stop-color="#0098dd"/><stop offset="0.3240" stop-color="#009cd3"/><stop offset="0.3390" stop-color="#00a3bf"/><stop offset="0.3926" stop-color="#00aaab"/><stop offset="0.4195" stop-color="#00aaa3"/><stop offset="0.4644" stop-color="#00aa93"/><stop offset="0.4953" stop-color="#00aa88"/><stop offset="0.5056" stop-color="#00a97d"/><stop offset="0.5110" stop-color="#00aa88"/><stop offset="0.5431" stop-color="#00aa9d"/><stop offset="0.5693" stop-color="#00aaab"/><stop offset="0.5693" stop-color="#00aaab"/><stop offset="0.5843" stop-color="#0098dd"/><stop offset="0.5843" stop-color="#0098dd"/><stop offset="0.6131" stop-color="#0085dd"/><stop offset="0.6196" stop-color="#0078dd"/><stop offset="0.6292" stop-color="#002fdd"/><stop offset="0.6472" stop-color="#0000dd"/><stop offset="0.6929" stop-color="#0000c9"/><stop offset="0.7025" stop-color="#0300aa"/><stop offset="0.7041" stop-color="#0d00a8"/><stop offset="0.7210" stop-color="#58009f"/><stop offset="0.7341" stop-color="#870098"/><stop offset="0.7416" stop-color="#870098"/><stop offset="0.7421" stop-color="#0300aa"/><stop offset="0.7426" stop-color="#0000dd"/><stop offset="0.7431" stop-color="#0078dd"/><stop offset="0.7436" stop-color="#0098dd"/><stop offset="0.7496" stop-color="#0098dd"/><stop offset="0.7498" stop-color="#0078dd"/><stop offset="0.7500" stop-color="#0000dd"/><stop offset="0.7500" stop-color="#0000d1"/><stop offset="0.7586" stop-color="#0000d1"/><stop offset="0.7586" stop-color="#0000dd"/><stop offset="0.7588" stop-color="#0078dd"/><stop offset="0.7590" stop-color="#0098dd"/><stop offset="0.7699" stop-color="#0098dd"/><stop offset="0.7702" stop-color="#0080dd"/><stop offset="0.7826" stop-color="#0080dd"/><stop offset="0.7827" stop-color="#0098dd"/><stop offset="0.7830" stop-color="#00aaab"/><stop offset="0.7901" stop-color="#00aaab"/><stop offset="0.7902" stop-color="#0098dd"/><stop offset="0.7903" stop-color="#0078dd"/><stop offset="0.7904" stop-color="#0000dd"/><stop offset="0.7976" stop-color="#0000dd"/><stop offset="0.7977" stop-color="#0078dd"/><stop offset="0.7979" stop-color="#0098dd"/><stop offset="0.7979" stop-color="#00a3bf"/><stop offset="0.8069" stop-color="#00a3bf"/><stop offset="0.8071" stop-color="#0098dd"/><stop offset="0.8073" stop-color="#007ddd"/><stop offset="0.8144" stop-color="#007ddd"/><stop offset="0.8145" stop-color="#0078dd"/><stop offset="0.8148" stop-color="#0000dd"/><stop offset="0.8238" stop-color="#0000dd"/><stop offset="0.8242" stop-color="#0078dd"/><stop offset="0.8268" stop-color="#0078dd"/><stop offset="0.8266" stop-color="#0000dd"/><stop offset="0.8264" stop-color="#0300aa"/><stop offset="0.8262" stop-color="#870098"/><stop offset="0.8839" stop-color="#830094"/><stop offset="0.8929" stop-color="#810092"/><stop offset="0.9026" stop-color="#700080"/><stop offset="0.9199" stop-color="#380040"/><stop offset="0.9363" stop-color="#1c0020"/><stop offset="0.9539" stop-color="#130015"/><stop offset="0.9678" stop-color="#000000"/><stop offset="1.0000" stop-color="#000000"/></linearGradient><linearGradient id="b12" x1="0" x2="1" y1="0" y2="0"><stop offset="0.0000" stop-color="#2f0035"/><stop offset="0.1723" stop-color="#2f0035"/><stop offset="0.1760" stop-color="#380040"/><stop offset="0.2041" stop-color="#380040"/><stop offset="0.2097" stop-color="#700080"/><stop offset="0.2210" stop-color="#810092"/><stop offset="0.2333" stop-color="#870098"/><stop offset="0.2344" stop-color="#0300aa"/><stop offset="0.2352" stop-color="#0000d1"/><stop offset="0.2734" stop-color="#0000dd"/><stop offset="0.2753" stop-color="#0078dd"/><stop offset="0.2959" stop-color="#008add"/><stop offset="0.3109" stop-color="#0098dd"/><stop offset="0.3184" stop-color="#009cd3"/><stop offset="0.3371" stop-color="#00a3bf"/><stop offset="0.3920" stop-color="#00aaab"/><stop offset="0.4195" stop-color="#00aaa3"/><stop offset="0.4644" stop-color="#00aa90"/><stop offset="0.4850" stop-color="#00aa88"/><stop offset="0.5056" stop-color="#00a773"/><stop offset="0.5150" stop-color="#00aa88"/><stop offset="0.5431" stop-color="#00aa9d"/><stop offset="0.5693" stop-color="#00aaab"/><stop offset="0.5693" stop-color="#00aaab"/><stop offset="0.5843" stop-color="#0098dd"/><stop offset="0.5843" stop-color="#0098dd"/><stop offset="0.6131" stop-color="#0085dd"/><stop offset="0.6196" stop-color="#0078dd"/><stop offset="0.6292" stop-color="#002fdd"/><stop offset="0.6472" stop-color="#0000dd"/><stop offset="0.6929" stop-color="#0000c9"/><stop offset="0.7025" stop-color="#0300aa"/><stop offset="0.7041" stop-color="#0d00a8"/><stop offset="0.7210" stop-color="#58009f"/><stop offset="0.7341" stop-color="#870098"/><stop offset="0.7416" stop-color="#870098"/><stop offset="0.7421" stop-color="#0300aa"/><stop offset="0.7426" stop-color="#0000dd"/><stop offset="0.7431" stop-color="#0078dd"/><stop offset="0.7436" stop-color="#0098dd"/><stop offset="0.7496" stop-color="#0098dd"/><stop offset="0.7498" stop-color="#0078dd"/><stop offset="0.7500" stop-color="#0000dd"/><stop offset="0.7500" stop-color="#0000d1"/><stop offset="0.7586" stop-color="#0000d1"/><stop offset="0.7586" stop-color="#0000dd"/><stop offset="0.7588" stop-color="#0078dd"/><stop offset="0.7590" stop-color="#0098dd"/><stop offset="0.7699" stop-color="#0098dd"/><stop offset="0.7702" stop-color="#0080dd"/><stop offset="0.7826" stop-color="#0080dd"/><stop offset="0.7827" stop-color="#0098dd"/><stop offset="0.7830" stop-color="#00aaab"/><stop offset="0.7901" stop-color="#00aaab"/><stop offset="0.7902" stop-color="#0098dd"/><stop offset="0.7903" stop-color="#0078dd"/><stop offset="0.7904" stop-color="#0000dd"/><stop offset="0.7976" stop-color="#0000dd"/><stop offset="0.7977" stop-color="#0078dd"/><stop offset="0.7979" stop-color="#0098dd"/><stop offset="0.7979" stop-color="#00a3bf"/><stop offset="0.8069" stop-color="#00a3bf"/><stop offset="0.8071" stop-color="#0098dd"/><stop offset="0.8073" stop-color="#007ddd"/><stop offset="0.8144" stop-color="#007ddd"/><stop offset="0.8145" stop-color="#0078dd"/><stop offset="0.8148" stop-color="#0000dd"/><stop offset="0.8238" stop-color="#0000dd"/><stop offset="0.8242" stop-color="#0078dd"/><stop offset="0.8268" stop-color="#0078dd"/><stop offset="0.8266" stop-color="#0000dd"/><stop offset="0.8264" stop-color="#0300aa"/><stop offset="0.8262" stop-color="#870098"/><stop offset="0.8839" stop-color="#830094"/><stop offset="0.8929" stop-color="#810092"/><stop offset="0.9026" stop-color="#700080"/><stop offset="0.9199" stop-color="#380040"/><stop offset="0.9363" stop-color="#1c0020"/><stop offset="0.9539" stop-color="#130015"/><stop offset="0.9678" stop-color="#000000"/><stop offset="1.0000" stop-color="#000000"/></linearGradient><linearGradient id="b13" x1="0" x2="1" y1="0" y2="0"><stop offset="0.0000" stop-color="#2f0035"/><stop offset="0.1723" stop-color="#2f0035"/><stop offset="0.1760" stop-color="#380040"/><stop offset="0.2041" stop-color="#380040"/><stop offset="0.2097" stop-color="#700080"/><stop offset="0.2210" stop-color="#810092"/><stop offset="0.2333" stop-color="#870098"/><stop offset="0.2344" stop-color="#0300aa"/><stop offset="0.2352" stop-color="#0000d1"/><stop offset="0.2884" stop-color="#0000dd"/><stop offset="0.2903" stop-color="#0078dd"/><stop offset="0.3109" stop-color="#008add"/><stop offset="0.3258" stop-color="#0098dd"/><stop offset="0.3333" stop-color="#009cd3"/><stop offset="0.3483" stop-color="#00a3bf"/><stop offset="0.3958" stop-color="#00aaab"/><stop offset="0.4195" stop-color="#00aaa3"/><stop offset="0.4644" stop-color="#00aa93"/><stop offset="0.4953" stop-color="#00aa88"/><stop offset="0.5056" stop-color="#00a97d"/><stop offset="0.5110" stop-color="#00aa88"/><stop offset="0.5431" stop-color="#00aa9d"/><stop offset="0.5693" stop-color="#00aaab"/><stop offset="0.5693" stop-color="#00aaab"/><stop offset="0.5843" stop-color="#0098dd"/><stop offset="0.5843" stop-color="#0098dd"/><stop offset="0.6131" stop-color="#0085dd"/><stop offset="0.6196" stop-color="#0078dd"/><stop offset="0.6292" stop-color="#002fdd"/><stop offset="0.6472" stop-color="#0000dd"/><stop offset="0.6929" stop-color="#0000c9"/><stop offset="0.7025" stop-color="#0300aa"/><stop offset="0.7041" stop-color="#0d00a8"/><stop offset="0.7210" stop-color="#58009f"/><stop offset="0.7341" stop-color="#870098"/><stop offset="0.7416" stop-color="#870098"/><stop offset="0.7421" stop-color="#0300aa"/><stop offset="0.7426" stop-color="#0000dd"/><stop offset="0.7431" stop-color="#0078dd"/><stop offset="0.7436" stop-color="#0098dd"/><stop offset="0.7496" stop-color="#0098dd"/><stop offset="0.7498" stop-color="#0078dd"/><stop offset="0.7500" stop-color="#0000dd"/><stop offset="0.7500" stop-color="#0000d1"/><stop offset="0.7586" stop-color="#0000d1"/><stop offset="0.7586" stop-color="#0000dd"/><stop offset="0.7588" stop-color="#0078dd"/><stop offset="0.7590" stop-color="#0098dd"/><stop offset="0.7699" stop-color="#0098dd"/><stop offset="0.7702" stop-color="#0080dd"/><stop offset="0.7826" stop-color="#0080dd"/><stop offset="0.7827" stop-color="#0098dd"/><stop offset="0.7830" stop-color="#00aaab"/><stop offset="0.7901" stop-color="#00aaab"/><stop offset="0.7902" stop-color="#0098dd"/><stop offset="0.7903" stop-color="#0078dd"/><stop offset="0.7904" stop-color="#0000dd"/><stop offset="0.7976" stop-color="#0000dd"/><stop offset="0.7977" stop-color="#0078dd"/><stop offset="0.7979" stop-color="#0098dd"/><stop offset="0.7979" stop-color="#00a3bf"/><stop offset="0.8069" stop-color="#00a3bf"/><stop offset="0.8071" stop-color="#0098dd"/><stop offset="0.8073" stop-color="#007ddd"/><stop offset="0.8144" stop-color="#007ddd"/><stop offset="0.8145" stop-color="#0078dd"/><stop offset="0.8148" stop-color="#0000dd"/><stop offset="0.8238" stop-color="#0000dd"/><stop offset="0.8242" stop-color="#0078dd"/><stop offset="0.8268" stop-color="#0078dd"/><stop offset="0.8266" stop-color="#0000dd"/><stop offset="0.8264" stop-color="#0300aa"/><stop offset="0.8262" stop-color="#870098"/><stop offset="0.8839" stop-color="#830094"/><stop offset="0.8929" stop-color="#810092"/><stop offset="0.9026" stop-color="#700080"/><stop offset="0.9199" stop-color="#380040"/><stop offset="0.9363" stop-color="#1c0020"/><stop offset="0.9539" stop-color="#130015"/><stop offset="0.9678" stop-color="#000000"/><stop offset="1.0000" stop-color="#000000"/></linearGradient><linearGradient id="b14" x1="0" x2="1" y1="0" y2="0"><stop offset="0.0000" stop-color="#2f0035"/><stop offset="0.1723" stop-color="#2f0035"/><stop offset="0.1760" stop-color="#380040"/><stop offset="0.2041" stop-color="#380040"/><stop offset="0.2097" stop-color="#700080"/><stop offset="0.2210" stop-color="#810092"/><stop offset="0.2333" stop-color="#870098"/><stop offset="0.2344" stop-color="#0300aa"/><stop offset="0.2352" stop-color="#0000d1"/><stop offset="0.2790" stop-color="#0000dd"/><stop offset="0.2809" stop-color="#0078dd"/><stop offset="0.3015" stop-color="#008add"/><stop offset="0.3165" stop-color="#0098dd"/><stop offset="0.3240" stop-color="#009cd3"/><stop offset="0.3390" stop-color="#00a3bf"/><stop offset="0.3926" stop-color="#00aaab"/><stop offset="0.4195" stop-color="#00aaa3"/><stop offset="0.4644" stop-color="#00aa90"/><stop offset="0.4850" stop-color="#00aa88"/><stop offset="0.5056" stop-color="#00a773"/><stop offset="0.5150" stop-color="#00aa88"/><stop offset="0.5431" stop-color="#00aa9d"/><stop offset="0.5693" stop-color="#00aaab"/><stop offset="0.5693" stop-color="#00aaab"/><stop offset="0.5843" stop-color="#0098dd"/><stop offset="0.5843" stop-color="#0098dd"/><stop offset="0.6131" stop-color="#0085dd"/><stop offset="0.6196" stop-color="#0078dd"/><stop offset="0.6292" stop-color="#002fdd"/><stop offset="0.6472" stop-color="#0000dd"/><stop offset="0.6929" stop-color="#0000c9"/><stop offset="0.7025" stop-color="#0300aa"/><stop offset="0.7041" stop-color="#0d00a8"/><stop offset="0.7210" stop-color="#58009f"/><stop offset="0.7341" stop-color="#870098"/><stop offset="0.7416" stop-color="#870098"/><stop offset="0.7421" stop-color="#0300aa"/><stop offset="0.7426" stop-color="#0000dd"/><stop offset="0.7431" stop-color="#0078dd"/><stop offset="0.7436" stop-color="#0098dd"/><stop offset="0.7496" stop-color="#0098dd"/><stop offset="0.7498" stop-color="#0078dd"/><stop offset="0.7500" stop-color="#0000dd"/><stop offset="0.7500" stop-color="#0000d1"/><stop offset="0.7586" stop-color="#0000d1"/><stop offset="0.7586" stop-color="#0000dd"/><stop offset="0.7588" stop-color="#0078dd"/><stop offset="0.7590" stop-color="#0098dd"/><stop offset="0.7699" stop-color="#0098dd"/><stop offset="0.7702" stop-color="#0080dd"/><stop offset="0.7826" stop-color="#0080dd"/><stop offset="0.7827" stop-color="#0098dd"/><stop offset="0.7830" stop-color="#00aaab"/><stop offset="0.7901" stop-color="#00aaab"/><stop offset="0.7902" stop-color="#0098dd"/><stop offset="0.7903" stop-color="#0078dd"/><stop offset="0.7904" stop-color="#0000dd"/><stop offset="0.7976" stop-color="#0000dd"/><stop offset="0.7977" stop-color="#0078dd"/><stop offset="0.7979" stop-color="#0098dd"/><stop offset="0.7979" stop-color="#00a3bf"/><stop offset="0.8069" stop-color="#00a3bf"/><stop offset="0.8071" stop-color="#0098dd"/><stop offset="0.8073" stop-color="#007ddd"/><stop offset="0.8144" stop-color="#007ddd"/><stop offset="0.8145" stop-color="#0078dd"/><stop offset="0.8148" stop-color="#0000dd"/><stop offset="0.8238" stop-color="#0000dd"/><stop offset="0.8242" stop-color="#0078dd"/><stop offset="0.8268" stop-color="#0078dd"/><stop offset="0.8266" stop-color="#0000dd"/><stop offset="0.8264" stop-color="#0300aa"/><stop offset="0.8262" stop-color="#870098"/><stop offset="0.8839" stop-color="#830094"/><stop offset="0.8929" stop-color="#810092"/><stop offset="0.9026" stop-color="#700080"/><stop offset="0.9199" stop-color="#380040"/><stop offset="0.9363" stop-color="#1c0020"/><stop offset="0.9539" stop-color="#130015"/><stop offset="0.9678" stop-color="#000000"/><stop offset="1.0000" stop-color="#000000"/></linearGradient><linearGradient id="b15" x1="0" x2="1" y1="0" y2="0"><stop offset="0.0000" stop-color="#2f0035"/><stop offset="0.1723" stop-color="#2f0035"/><stop offset="0.1760" stop-color="#380040"/><stop offset="0.2041" stop-color="#380040"/><stop offset="0.2097" stop-color="#700080"/><stop offset="0.2210" stop-color="#810092"/><stop offset="0.2333" stop-color="#870098"/><stop offset="0.2344" stop-color="#0300aa"/><stop offset="0.2352" stop-color="#0000d1"/><stop offset="0.2921" stop-color="#0000dd"/><stop offset="0.2940" stop-color="#0078dd"/><stop offset="0.3146" stop-color="#008add"/><stop offset="0.3296" stop-color="#0098dd"/><stop offset="0.3371" stop-color="#009cd3"/><stop offset="0.3521" stop-color="#009fcb"/><stop offset="0.4026" stop-color="#00aaab"/><stop offset="0.4195" stop-color="#00aaa3"/><stop offset="0.4644" stop-color="#00aa93"/><stop offset="0.4953" stop-color="#00aa88"/><stop offset="0.5056" stop-color="#00a97d"/><stop offset="0.5110" stop-color="#00aa88"/><stop offset="0.5431" stop-color="#00aa9d"/><stop offset="0.5693" stop-color="#00aaab"/><stop offset="0.5693" stop-color="#00aaab"/><stop offset="0.5843" stop-color="#0098dd"/><stop offset="0.5843" stop-color="#0098dd"/><stop offset="0.6131" stop-color="#0085dd"/><stop offset="0.6196" stop-color="#0078dd"/><stop offset="0.6292" stop-color="#002fdd"/><stop offset="0.6472" stop-color="#0000dd"/><stop offset="0.6929" stop-color="#0000c9"/><stop offset="0.7025" stop-color="#0300aa"/><stop offset="0.7041" stop-color="#0d00a8"/><stop offset="0.7210" stop-color="#58009f"/><stop offset="0.7341" stop-color="#870098"/><stop offset="0.7416" stop-color="#870098"/><stop offset="0.7421" stop-color="#0300aa"/><stop offset="0.7426" stop-color="#0000dd"/><stop offset="0.7431" stop-color="#0078dd"/><stop offset="0.7436" stop-color="#0098dd"/><stop offset="0.7496" stop-color="#0098dd"/><stop offset="0.7498" stop-color="#0078dd"/><stop offset="0.7500" stop-color="#0000dd"/><stop offset="0.7500" stop-color="#0000d1"/><stop offset="0.7586" stop-color="#0000d1"/><stop offset="0.7586" stop-color="#0000dd"/><stop offset="0.7588" stop-color="#0078dd"/><stop offset="0.7590" stop-color="#0098dd"/><stop offset="0.7699" stop-color="#0098dd"/><stop offset="0.7702" stop-color="#0080dd"/><stop offset="0.7826" stop-color="#0080dd"/><stop offset="0.7827" stop-color="#0098dd"/><stop offset="0.7830" stop-color="#00aaab"/><stop offset="0.7901" stop-color="#00aaab"/><stop offset="0.7902" stop-color="#0098dd"/><stop offset="0.7903" stop-color="#0078dd"/><stop offset="0.7904" stop-color="#0000dd"/><stop offset="0.7976" stop-color="#0000dd"/><stop offset="0.7977" stop-color="#0078dd"/><stop offset="0.7979" stop-color="#0098dd"/><stop offset="0.7979" stop-color="#00a3bf"/><stop offset="0.8069" stop-color="#00a3bf"/><stop offset="0.8071" stop-color="#0098dd"/><stop offset="0.8073" stop-color="#007ddd"/><stop offset="0.8144" stop-color="#007ddd"/><stop offset="0.8145" stop-color="#0078dd"/><stop offset="0.8148" stop-color="#0000dd"/><stop offset="0.8238" stop-color="#0000dd"/><stop offset="0.8242" stop-color="#0078dd"/><stop offset="0.8268" stop-color="#0078dd"/><stop offset="0.8266" stop-color="#0000dd"/><stop offset="0.8264" stop-color="#0300aa"/><stop offset="0.8262" stop-color="#870098"/><stop offset="0.8839" stop-color="#830094"/><stop offset="0.8929" stop-color="#810092"/><stop offset="0.9026" stop-color="#700080"/><stop offset="0.9199" stop-color="#380040"/><stop offset="0.9363" stop-color="#1c0020"/><stop offset="0.9539" stop-color="#130015"/><stop offset="0.9678" stop-color="#000000"/><stop offset="1.0000" stop-color="#000000"/></linearGradient><linearGradient id="b16" x1="0" x2="1" y1="0" y2="0"><stop offset="0.0000" stop-color="#2f0035"/><stop offset="0.1723" stop-color="#2f0035"/><stop offset="0.1760" stop-color="#380040"/><stop offset="0.2041" stop-color="#380040"/><stop offset="0.2097" stop-color="#700080"/><stop offset="0.2210" stop-color="#810092"/><stop offset="0.2333" stop-color="#870098"/><stop offset="0.2344" stop-color="#0300aa"/><stop offset="0.2352" stop-color="#0000d1"/><stop offset="0.2884" stop-color="#0000dd"/><stop offset="0.2903" stop-color="#0078dd"/><stop offset="0.3109" stop-color="#008add"/><stop offset="0.3258" stop-color="#0098dd"/><stop offset="0.3333" stop-color="#009cd3"/><stop offset="0.3483" stop-color="#009fcb"/><stop offset="0.4017" stop-color="#00aaab"/><stop offset="0.4195" stop-color="#00aaa3"/><stop offset="0.4644" stop-color="#00aa93"/><stop offset="0.4953" stop-color="#00aa88"/><stop offset="0.5056" stop-color="#00a97d"/><stop offset="0.5110" stop-color="#00aa88"/><stop offset="0.5431" stop-color="#00aa9d"/><stop offset="0.5693" stop-color="#00aaab"/><stop offset="0.5693" stop-color="#00aaab"/><stop offset="0.5843" stop-color="#0098dd"/><stop offset="0.5843" stop-color="#0098dd"/><stop offset="0.6131" stop-color="#0085dd"/><stop offset="0.6196" stop-color="#0078dd"/><stop offset="0.6292" stop-color="#002fdd"/><stop offset="0.6472" stop-color="#0000dd"/><stop offset="0.6929" stop-color="#0000c9"/><stop offset="0.7025" stop-color="#0300aa"/><stop offset="0.7041" stop-color="#0d00a8"/><stop offset="0.7210" stop-color="#58009f"/><stop offset="0.7341" stop-color="#870098"/><stop offset="0.7416" stop-color="#870098"/><stop offset="0.7421" stop-color="#0300aa"/><stop offset="0.7426" stop-color="#0000dd"/><stop offset="0.7431" stop-color="#0078dd"/><stop offset="0.7436" stop-color="#0098dd"/><stop offset="0.7496" stop-color="#0098dd"/><stop offset="0.7498" stop-color="#0078dd"/><stop offset="0.7500" stop-color="#0000dd"/><stop offset="0.7500" stop-color="#0000d1"/><stop offset="0.7586" stop-color="#0000d1"/><stop offset="0.7586" stop-color="#0000dd"/><stop offset="0.7588" stop-color="#0078dd"/><stop offset="0.7590" stop-color="#0098dd"/><stop offset="0.7699" stop-color="#0098dd"/><stop offset="0.7702" stop-color="#0080dd"/><stop offset="0.7826" stop-color="#0080dd"/><stop offset="0.7827" stop-color="#0098dd"/><stop offset="0.7830" stop-color="#00aaab"/><stop offset="0.7901" stop-color="#00aaab"/><stop offset="0.7902" stop-color="#0098dd"/><stop offset="0.7903" stop-color="#0078dd"/><stop offset="0.7904" stop-color="#0000dd"/><stop offset="0.7976" stop-color="#0000dd"/><stop offset="0.7977" stop-color="#0078dd"/><stop offset="0.7979" stop-color="#0098dd"/><stop offset="0.7979" stop-color="#00a3bf"/><stop offset="0.8069" stop-color="#00a3bf"/><stop offset="0.8071" stop-color="#0098dd"/><stop offset="0.8073" stop-color="#007ddd"/><stop offset="0.8144" stop-color="#007ddd"/><stop offset="0.8145" stop-color="#0078dd"/><stop offset="0.8148" stop-color="#0000dd"/><stop offset="0.8238" stop-color="#0000dd"/><stop offset="0.8242" stop-color="#0078dd"/><stop offset="0.8268" stop-color="#0078dd"/><stop offset="0.8266" stop-color="#0000dd"/><stop offset="0.8264" stop-color="#0300aa"/><stop offset="0.8262" stop-color="#870098"/><stop offset="0.8839" stop-color="#830094"/><stop offset="0.8929" stop-color="#810092"/><stop offset="0.9026" stop-color="#700080"/><stop offset="0.9199" stop-color="#380040"/><stop offset="0.9363" stop-color="#1c0020"/><stop offset="0.9539" stop-color="#130015"/><stop offset="0.9678" stop-color="#000000"/><stop offset="1.0000" stop-color="#000000"/></linearGradient><linearGradient id="b17" x1="0" x2="1" y1="0" y2="0"><stop offset="0.0000" stop-color="#2f0035"/><stop offset="0.1723" stop-color="#2f0035"/><stop offset="0.1760" stop-color="#380040"/><stop offset="0.2041" stop-color="#380040"/><stop offset="0.2097" stop-color="#700080"/><stop offset="0.2210" stop-color="#810092"/><stop offset="0.2333" stop-color="#870098"/><stop offset="0.2344" stop-color="#0300aa"/><stop offset="0.2352" stop-color="#0000d1"/><stop offset="0.2884" stop-color="#0000dd"/><stop offset="0.2903" stop-color="#0078dd"/><stop offset="0.3109" stop-color="#008add"/><stop offset="0.3258" stop-color="#0098dd"/><stop offset="0.3333" stop-color="#009cd3"/><stop offset="0.3483" stop-color="#009fcb"/><stop offset="0.4017" stop-color="#00aaab"/><stop offset="0.4195" stop-color="#00aaa3"/><stop offset="0.4554" stop-color="#00aa88"/><stop offset="0.4644" stop-color="#00a773"/><stop offset="0.5056" stop-color="#009f33"/><stop offset="0.5243" stop-color="#00aa88"/><stop offset="0.5431" stop-color="#00aa9d"/><stop offset="0.5693" stop-color="#00aaab"/><stop offset="0.5693" stop-color="#00aaab"/><stop offset="0.5843" stop-color="#0098dd"/><stop offset="0.5843" stop-color="#0098dd"/><stop offset="0.6131" stop-color="#0085dd"/><stop offset="0.6196" stop-color="#0078dd"/><stop offset="0.6292" stop-color="#002fdd"/><stop offset="0.6472" stop-color="#0000dd"/><stop offset="0.6929" stop-color="#0000c9"/><stop offset="0.7025" stop-color="#0300aa"/><stop offset="0.7041" stop-color="#0d00a8"/><stop offset="0.7210" stop-color="#58009f"/><stop offset="0.7341" stop-color="#870098"/><stop offset="0.7416" stop-color="#870098"/><stop offset="0.7421" stop-color="#0300aa"/><stop offset="0.7426" stop-color="#0000dd"/><stop offset="0.7431" stop-color="#0078dd"/><stop offset="0.7436" stop-color="#0098dd"/><stop offset="0.7496" stop-color="#0098dd"/><stop offset="0.7498" stop-color="#0078dd"/><stop offset="0.7500" stop-color="#0000dd"/><stop offset="0.7500" stop-color="#0000d1"/><stop offset="0.7586" stop-color="#0000d1"/><stop offset="0.7586" stop-color="#0000dd"/><stop offset="0.7588" stop-color="#0078dd"/><stop offset="0.7590" stop-color="#0098dd"/><stop offset="0.7699" stop-color="#0098dd"/><stop offset="0.7702" stop-color="#0080dd"/><stop offset="0.7826" stop-color="#0080dd"/><stop offset="0.7827" stop-color="#0098dd"/><stop offset="0.7830" stop-color="#00aaab"/><stop offset="0.7901" stop-color="#00aaab"/><stop offset="0.7902" stop-color="#0098dd"/><stop offset="0.7903" stop-color="#0078dd"/><stop offset="0.7904" stop-color="#0000dd"/><stop offset="0.7976" stop-color="#0000dd"/><stop offset="0.7977" stop-color="#0078dd"/><stop offset="0.7979" stop-color="#0098dd"/><stop offset="0.7979" stop-color="#00a3bf"/><stop offset="0.8069" stop-color="#00a3bf"/><stop offset="0.8071" stop-color="#0098dd"/><stop offset="0.8073" stop-color="#007ddd"/><stop offset="0.8144" stop-color="#007ddd"/><stop offset="0.8145" stop-color="#0078dd"/><stop offset="0.8148" stop-color="#0000dd"/><stop offset="0.8238" stop-color="#0000dd"/><stop offset="0.8242" stop-color="#0078dd"/><stop offset="0.8268" stop-color="#0078dd"/><stop offset="0.8266" stop-color="#0000dd"/><stop offset="0.8264" stop-color="#0300aa"/><stop offset="0.8262" stop-color="#870098"/><stop offset="0.8839" stop-color="#830094"/><stop offset="0.8929" stop-color="#810092"/><stop offset="0.9026" stop-color="#700080"/><stop offset="0.9199" stop-color="#380040"/><stop offset="0.9363" stop-color="#1c0020"/><stop offset="0.9539" stop-color="#130015"/><stop offset="0.9678" stop-color="#000000"/><stop offset="1.0000" stop-color="#000000"/></linearGradient><linearGradient id="b18" x1="0" x2="1" y1="0" y2="0"><stop offset="0.0000" stop-color="#2f0035"/><stop offset="0.1723" stop-color="#2f0035"/><stop offset="0.1760" stop-color="#380040"/><stop offset="0.2041" stop-color="#380040"/><stop offset="0.2097" stop-color="#700080"/><stop offset="0.2210" stop-color="#810092"/><stop offset="0.2333" stop-color="#870098"/><stop offset="0.2344" stop-color="#0300aa"/><stop offset="0.2352" stop-color="#0000d1"/><stop offset="0.2921" stop-color="#0000dd"/><stop offset="0.2940" stop-color="#0078dd"/><stop offset="0.3146" stop-color="#008add"/><stop offset="0.3296" stop-color="#0098dd"/><stop offset="0.3371" stop-color="#009cd3"/><stop offset="0.3521" stop-color="#009fcb"/><stop offset="0.4026" stop-color="#00aaab"/><stop offset="0.4195" stop-color="#00aaa3"/><stop offset="0.4644" stop-color="#00aa93"/><stop offset="0.4953" stop-color="#00aa88"/><stop offset="0.5056" stop-color="#00a97d"/><stop offset="0.5110" stop-color="#00aa88"/><stop offset="0.5431" stop-color="#00aa9d"/><stop offset="0.5693" stop-color="#00aaab"/><stop offset="0.5693" stop-color="#00aaab"/><stop offset="0.5843" stop-color="#0098dd"/><stop offset="0.5843" stop-color="#0098dd"/><stop offset="0.6131" stop-color="#0085dd"/><stop offset="0.6196" stop-color="#0078dd"/><stop offset="0.6292" stop-color="#002fdd"/><stop offset="0.6472" stop-color="#0000dd"/><stop offset="0.6929" stop-color="#0000c9"/><stop offset="0.7025" stop-color="#0300aa"/><stop offset="0.7041" stop-color="#0d00a8"/><stop offset="0.7210" stop-color="#58009f"/><stop offset="0.7341" stop-color="#870098"/><stop offset="0.7416" stop-color="#870098"/><stop offset="0.7421" stop-color="#0300aa"/><stop offset="0.7426" stop-color="#0000dd"/><stop offset="0.7431" stop-color="#0078dd"/><stop offset="0.7436" stop-color="#0098dd"/><stop offset="0.7496" stop-color="#0098dd"/><stop offset="0.7498" stop-color="#0078dd"/><stop offset="0.7500" stop-color="#0000dd"/><stop offset="0.7500" stop-color="#0000d1"/><stop offset="0.7586" stop-color="#0000d1"/><stop offset="0.7586" stop-color="#0000dd"/><stop offset="0.7588" stop-color="#0078dd"/><stop offset="0.7590" stop-color="#0098dd"/><stop offset="0.7699" stop-color="#0098dd"/><stop offset="0.7702" stop-color="#0080dd"/><stop offset="0.7826" stop-color="#0080dd"/><stop offset="0.7827" stop-color="#0098dd"/><stop offset="0.7830" stop-color="#00aaab"/><stop offset="0.7901" stop-color="#00aaab"/><stop offset="0.7902" stop-color="#0098dd"/><stop offset="0.7903" stop-color="#0078dd"/><stop offset="0.7904" stop-color="#0000dd"/><stop offset="0.7976" stop-color="#0000dd"/><stop offset="0.7977" stop-color="#0078dd"/><stop offset="0.7979" stop-color="#0098dd"/><stop offset="0.7979" stop-color="#00a3bf"/><stop offset="0.8069" stop-color="#00a3bf"/><stop offset="0.8071" stop-color="#0098dd"/><stop offset="0.8073" stop-color="#007ddd"/><stop offset="0.8144" stop-color="#007ddd"/><stop offset="0.8145" stop-color="#0078dd"/><stop offset="0.8148" stop-color="#0000dd"/><stop offset="0.8238" stop-color="#0000dd"/><stop offset="0.8242" stop-color="#0078dd"/><stop offset="0.8268" stop-color="#0078dd"/><stop offset="0.8266" stop-color="#0000dd"/><stop offset="0.8264" stop-color="#0300aa"/><stop offset="0.8262" stop-color="#870098"/><stop offset="0.8839" stop-color="#830094"/><stop offset="0.8929" stop-color="#810092"/><stop offset="0.9026" stop-color="#700080"/><stop offset="0.9199" stop-color="#380040"/><stop offset="0.9363" stop-color="#1c0020"/><stop offset="0.9539" stop-color="#130015"/><stop offset="0.9678" stop-color="#000000"/><stop offset="1.0000" stop-color="#000000"/></linearGradient><linearGradient id="b19" x1="0" x2="1" y1="0" y2="0"><stop offset="0.0000" stop-color="#2f0035"/><stop offset="0.2172" stop-color="#2f0035"/><stop offset="0.2809" stop-color="#380040"/><stop offset="0.3296" stop-color="#41004b"/><stop offset="0.8839" stop-color="#41004b"/><stop offset="0.9139" stop-color="#2f0035"/><stop offset="0.9363" stop-color="#130015"/><stop offset="0.9588" stop-color="#09000b"/><stop offset="0.9813" stop-color="#000000"/><stop offset="1.0000" stop-color="#000000"/></linearGradient><linearGradient id="b20" x1="0" x2="1" y1="0" y2="0"><stop offset="0.0000" stop-color="#25002b"/><stop offset="0.2809" stop-color="#25002b"/><stop offset="0.3296" stop-color="#2f0035"/><stop offset="0.8839" stop-color="#2f0035"/><stop offset="0.9139" stop-color="#1c0020"/><stop offset="0.9363" stop-color="#130015"/><stop offset="0.9588" stop-color="#000000"/><stop offset="1.0000" stop-color="#000000"/></linearGradient><linearGradient id="b21" x1="0" x2="1" y1="0" y2="0"><stop offset="0.0000" stop-color="#2f0035"/><stop offset="0.0543" stop-color="#2f0035"/><stop offset="0.0562" stop-color="#25002b"/><stop offset="0.1648" stop-color="#25002b"/><stop offset="0.1660" stop-color="#700080"/><stop offset="0.1667" stop-color="#7d008e"/><stop offset="0.1929" stop-color="#850096"/><stop offset="0.1931" stop-color="#870098"/><stop offset="0.1939" stop-color="#0300aa"/><stop offset="0.1948" stop-color="#0000dd"/><stop offset="0.2060" stop-color="#0000dd"/><stop offset="0.2065" stop-color="#0078dd"/><stop offset="0.2069" stop-color="#0098dd"/><stop offset="0.2071" stop-color="#009fcb"/><stop offset="0.2245" stop-color="#00aaab"/><stop offset="0.2303" stop-color="#00aaa3"/><stop offset="0.2312" stop-color="#00aa88"/><stop offset="0.2322" stop-color="#009a00"/><stop offset="0.2509" stop-color="#00bc00"/><stop offset="0.2626" stop-color="#00dc00"/><stop offset="0.2697" stop-color="#00f200"/><stop offset="0.2846" stop-color="#00ff00"/><stop offset="0.5019" stop-color="#00ff00"/><stop offset="0.5243" stop-color="#00ea00"/><stop offset="0.5348" stop-color="#00dc00"/><stop offset="0.5506" stop-color="#00ca00"/><stop offset="0.5780" stop-color="#00bc00"/><stop offset="0.5918" stop-color="#00b400"/><stop offset="0.6037" stop-color="#009a00"/><stop offset="0.6067" stop-color="#009d1d"/><stop offset="0.6255" stop-color="#00aa88"/><stop offset="0.6442" stop-color="#00aaa3"/><stop offset="0.6492" stop-color="#00aaab"/><stop offset="0.6742" stop-color="#0098dd"/><stop offset="0.6742" stop-color="#0098dd"/><stop offset="0.7116" stop-color="#008add"/><stop offset="0.7144" stop-color="#0078dd"/><stop offset="0.7191" stop-color="#0000dd"/><stop offset="0.7416" stop-color="#0000dd"/><stop offset="0.7426" stop-color="#0078dd"/><stop offset="0.7436" stop-color="#0098dd"/><stop offset="0.7496" stop-color="#0098dd"/><stop offset="0.7498" stop-color="#0078dd"/><stop offset="0.7500" stop-color="#0000dd"/><stop offset="0.7500" stop-color="#0000d1"/><stop offset="0.7586" stop-color="#0000d1"/><stop offset="0.7586" stop-color="#0000dd"/><stop offset="0.7588" stop-color="#0078dd"/><stop offset="0.7590" stop-color="#0098dd"/><stop offset="0.7699" stop-color="#0098dd"/><stop offset="0.7702" stop-color="#0080dd"/><stop offset="0.7826" stop-color="#0080dd"/><stop offset="0.7827" stop-color="#0098dd"/><stop offset="0.7830" stop-color="#00aaab"/><stop offset="0.7901" stop-color="#00aaab"/><stop offset="0.7902" stop-color="#0098dd"/><stop offset="0.7903" stop-color="#0078dd"/><stop offset="0.7904" stop-color="#0000dd"/><stop offset="0.7976" stop-color="#0000dd"/><stop offset="0.7977" stop-color="#0078dd"/><stop offset="0.7979" stop-color="#0098dd"/><stop offset="0.7979" stop-color="#00a3bf"/><stop offset="0.8069" stop-color="#00a3bf"/><stop offset="0.8071" stop-color="#0098dd"/><stop offset="0.8073" stop-color="#007ddd"/><stop offset="0.8144" stop-color="#007ddd"/><stop offset="0.8145" stop-color="#0078dd"/><stop offset="0.8148" stop-color="#0000dd"/><stop offset="0.8238" stop-color="#0000dd"/><stop offset="0.8242" stop-color="#0078dd"/><stop offset="0.8268" stop-color="#0078dd"/><stop offset="0.8265" stop-color="#0000dd"/><stop offset="0.8262" stop-color="#0300aa"/><stop offset="0.8262" stop-color="#0d00a8"/><stop offset="0.8464" stop-color="#3800a3"/><stop offset="0.8652" stop-color="#870098"/><stop offset="0.9213" stop-color="#830094"/><stop offset="0.9270" stop-color="#700080"/><stop offset="0.9363" stop-color="#380040"/><stop offset="0.9476" stop-color="#1c0020"/><stop offset="0.9588" stop-color="#09000b"/><stop offset="0.9700" stop-color="#000000"/><stop offset="1.0000" stop-color="#000000"/></linearGradient><clipPath id="cl"><rect x="48" y="28" width="267" height="368"/></clipPath><clipPath id="cr"><rect x="328" y="28" width="267" height="368"/></clipPath></defs><g shape-rendering="crispEdges"><rect x="48" y="28.00" width="267" height="16.98" fill="url(#a0)"/><rect x="48" y="44.73" width="267" height="16.98" fill="url(#a1)"/><rect x="48" y="61.45" width="267" height="16.98" fill="url(#a2)"/><rect x="48" y="78.18" width="267" height="16.98" fill="url(#a3)"/><rect x="48" y="94.91" width="267" height="16.98" fill="url(#a4)"/><rect x="48" y="111.64" width="267" height="16.98" fill="url(#a5)"/><rect x="48" y="128.36" width="267" height="16.98" fill="url(#a6)"/><rect x="48" y="145.09" width="267" height="16.98" fill="url(#a7)"/><rect x="48" y="161.82" width="267" height="16.98" fill="url(#a8)"/><rect x="48" y="178.55" width="267" height="16.98" fill="url(#a9)"/><rect x="48" y="195.27" width="267" height="16.98" fill="url(#a10)"/><rect x="48" y="212.00" width="267" height="16.98" fill="url(#a11)"/><rect x="48" y="228.73" width="267" height="16.98" fill="url(#a12)"/><rect x="48" y="245.45" width="267" height="16.98" fill="url(#a13)"/><rect x="48" y="262.18" width="267" height="16.98" fill="url(#a14)"/><rect x="48" y="278.91" width="267" height="16.98" fill="url(#a15)"/><rect x="48" y="295.64" width="267" height="16.98" fill="url(#a16)"/><rect x="48" y="312.36" width="267" height="16.98" fill="url(#a17)"/><rect x="48" y="329.09" width="267" height="16.98" fill="url(#a18)"/><rect x="48" y="345.82" width="267" height="16.98" fill="url(#a19)"/><rect x="48" y="362.55" width="267" height="16.98" fill="url(#a20)"/><rect x="48" y="379.27" width="267" height="16.98" fill="url(#a21)"/><rect x="328" y="28.00" width="267" height="16.98" fill="url(#b0)"/><rect x="328" y="44.73" width="267" height="16.98" fill="url(#b1)"/><rect x="328" y="61.45" width="267" height="16.98" fill="url(#b2)"/><rect x="328" y="78.18" width="267" height="16.98" fill="url(#b3)"/><rect x="328" y="94.91" width="267" height="16.98" fill="url(#b4)"/><rect x="328" y="111.64" width="267" height="16.98" fill="url(#b5)"/><rect x="328" y="128.36" width="267" height="16.98" fill="url(#b6)"/><rect x="328" y="145.09" width="267" height="16.98" fill="url(#b7)"/><rect x="328" y="161.82" width="267" height="16.98" fill="url(#b8)"/><rect x="328" y="178.55" width="267" height="16.98" fill="url(#b9)"/><rect x="328" y="195.27" width="267" height="16.98" fill="url(#b10)"/><rect x="328" y="212.00" width="267" height="16.98" fill="url(#b11)"/><rect x="328" y="228.73" width="267" height="16.98" fill="url(#b12)"/><rect x="328" y="245.45" width="267" height="16.98" fill="url(#b13)"/><rect x="328" y="262.18" width="267" height="16.98" fill="url(#b14)"/><rect x="328" y="278.91" width="267" height="16.98" fill="url(#b15)"/><rect x="328" y="295.64" width="267" height="16.98" fill="url(#b16)"/><rect x="328" y="312.36" width="267" height="16.98" fill="url(#b17)"/><rect x="328" y="329.09" width="267" height="16.98" fill="url(#b18)"/><rect x="328" y="345.82" width="267" height="16.98" fill="url(#b19)"/><rect x="328" y="362.55" width="267" height="16.98" fill="url(#b20)"/><rect x="328" y="379.27" width="267" height="16.98" fill="url(#b21)"/></g><rect x="47.80" y="28.00" width="1.40" height="16.73" fill="#18a0e8"/><rect x="47.8" y="35.86" width="1.4" height="1" fill="#e0f0ff"/><rect x="47.80" y="44.73" width="1.40" height="16.73" fill="#1058e0"/><rect x="47.8" y="52.59" width="1.4" height="1" fill="#e0f0ff"/><rect x="47.80" y="61.45" width="1.40" height="16.73" fill="#18a0e8"/><rect x="47.8" y="69.32" width="1.4" height="1" fill="#e0f0ff"/><rect x="47.80" y="78.18" width="1.40" height="16.73" fill="#18a0e8"/><rect x="47.8" y="86.05" width="1.4" height="1" fill="#e0f0ff"/><rect x="47.80" y="94.91" width="1.40" height="16.73" fill="#18a0e8"/><rect x="47.8" y="102.77" width="1.4" height="1" fill="#e0f0ff"/><rect x="47.80" y="111.64" width="1.40" height="16.73" fill="#18a0e8"/><rect x="47.8" y="119.50" width="1.4" height="1" fill="#e0f0ff"/><rect x="47.80" y="128.36" width="1.40" height="16.73" fill="#18a0e8"/><rect x="47.8" y="136.23" width="1.4" height="1" fill="#e0f0ff"/><rect x="47.80" y="145.09" width="1.40" height="16.73" fill="#18a0e8"/><rect x="47.8" y="152.95" width="1.4" height="1" fill="#e0f0ff"/><rect x="47.80" y="161.82" width="1.40" height="16.73" fill="#18a0e8"/><rect x="47.8" y="169.68" width="1.4" height="1" fill="#e0f0ff"/><rect x="47.80" y="178.55" width="1.40" height="16.73" fill="#18a0e8"/><rect x="47.8" y="186.41" width="1.4" height="1" fill="#e0f0ff"/><rect x="47.80" y="195.27" width="1.40" height="16.73" fill="#1058e0"/><rect x="47.8" y="203.14" width="1.4" height="1" fill="#e0f0ff"/><rect x="47.80" y="212.00" width="1.40" height="16.73" fill="#1058e0"/><rect x="47.8" y="219.86" width="1.4" height="1" fill="#e0f0ff"/><rect x="47.80" y="228.73" width="1.40" height="16.73" fill="#18a0e8"/><rect x="47.8" y="236.59" width="1.4" height="1" fill="#e0f0ff"/><rect x="47.80" y="245.45" width="1.40" height="16.73" fill="#18a0e8"/><rect x="47.8" y="253.32" width="1.4" height="1" fill="#e0f0ff"/><rect x="47.80" y="262.18" width="1.40" height="16.73" fill="#18a0e8"/><rect x="47.8" y="270.05" width="1.4" height="1" fill="#e0f0ff"/><rect x="47.80" y="278.91" width="1.40" height="16.73" fill="#18a0e8"/><rect x="47.8" y="286.77" width="1.4" height="1" fill="#e0f0ff"/><rect x="47.80" y="295.64" width="1.40" height="16.73" fill="#18a0e8"/><rect x="47.8" y="303.50" width="1.4" height="1" fill="#e0f0ff"/><rect x="47.80" y="312.36" width="1.40" height="16.73" fill="#18a0e8"/><rect x="47.8" y="320.23" width="1.4" height="1" fill="#e0f0ff"/><rect x="47.80" y="329.09" width="1.40" height="16.73" fill="#18a0e8"/><rect x="47.8" y="336.95" width="1.4" height="1" fill="#e0f0ff"/><rect x="47.80" y="345.82" width="1.40" height="16.73" fill="#18a0e8"/><rect x="47.8" y="353.68" width="1.4" height="1" fill="#e0f0ff"/><rect x="47.80" y="362.55" width="1.40" height="16.73" fill="#1058e0"/><rect x="47.8" y="370.41" width="1.4" height="1" fill="#e0f0ff"/><rect x="47.80" y="379.27" width="1.40" height="16.73" fill="#18a0e8"/><rect x="47.8" y="387.14" width="1.4" height="1" fill="#e0f0ff"/><rect x="167" y="78.2" width="1" height="33" fill="url(#yl)"/><rect x="160.70" y="205.00" width="1.00" height="107.00" fill="#00c800"/><rect x="128.20" y="312.40" width="1.60" height="33.40" fill="#00b000"/><rect x="148.10" y="314.00" width="1.00" height="16.00" fill="#e8e800"/><rect x="128.90" y="112.00" width="1.80" height="16.00" fill="#00a060"/><rect x="125.20" y="78.20" width="0.80" height="267.60" fill="#30b0e0" opacity="0.35"/><rect x="100.00" y="44.23" width="169.00" height="1" fill="#1060d0" opacity="0.55"/><rect x="110.00" y="77.68" width="137.00" height="1" fill="#20a0d0" opacity="0.45"/><rect x="110.00" y="345.32" width="137.00" height="1" fill="#20a0d0" opacity="0.45"/><rect x="100.00" y="362.05" width="169.00" height="1" fill="#1060e0" opacity="0.70"/><rect x="327.80" y="28.00" width="1.40" height="16.73" fill="#2828c8"/><rect x="327.8" y="35.86" width="1.4" height="1" fill="#e0f0ff"/><rect x="327.80" y="44.73" width="1.40" height="16.73" fill="#2040d8"/><rect x="327.8" y="52.59" width="1.4" height="1" fill="#e0f0ff"/><rect x="327.80" y="61.45" width="1.40" height="16.73" fill="#2828c8"/><rect x="327.8" y="69.32" width="1.4" height="1" fill="#e0f0ff"/><rect x="327.80" y="78.18" width="1.40" height="16.73" fill="#2040d8"/><rect x="327.8" y="86.05" width="1.4" height="1" fill="#e0f0ff"/><rect x="327.80" y="94.91" width="1.40" height="16.73" fill="#2828c8"/><rect x="327.8" y="102.77" width="1.4" height="1" fill="#e0f0ff"/><rect x="327.80" y="111.64" width="1.40" height="16.73" fill="#18a0e8"/><rect x="327.8" y="119.50" width="1.4" height="1" fill="#e0f0ff"/><rect x="327.80" y="128.36" width="1.40" height="16.73" fill="#18a0e8"/><rect x="327.8" y="136.23" width="1.4" height="1" fill="#e0f0ff"/><rect x="327.80" y="145.09" width="1.40" height="16.73" fill="#2040d8"/><rect x="327.8" y="152.95" width="1.4" height="1" fill="#e0f0ff"/><rect x="327.80" y="161.82" width="1.40" height="16.73" fill="#2828c8"/><rect x="327.8" y="169.68" width="1.4" height="1" fill="#e0f0ff"/><rect x="327.80" y="178.55" width="1.40" height="16.73" fill="#2040d8"/><rect x="327.8" y="186.41" width="1.4" height="1" fill="#e0f0ff"/><rect x="327.80" y="195.27" width="1.40" height="16.73" fill="#2828c8"/><rect x="327.8" y="203.14" width="1.4" height="1" fill="#e0f0ff"/><rect x="327.80" y="212.00" width="1.40" height="16.73" fill="#2040d8"/><rect x="327.8" y="219.86" width="1.4" height="1" fill="#e0f0ff"/><rect x="327.80" y="228.73" width="1.40" height="16.73" fill="#18a0e8"/><rect x="327.8" y="236.59" width="1.4" height="1" fill="#e0f0ff"/><rect x="327.80" y="245.45" width="1.40" height="16.73" fill="#18a0e8"/><rect x="327.8" y="253.32" width="1.4" height="1" fill="#e0f0ff"/><rect x="327.80" y="262.18" width="1.40" height="16.73" fill="#18a0e8"/><rect x="327.8" y="270.05" width="1.4" height="1" fill="#e0f0ff"/><rect x="327.80" y="278.91" width="1.40" height="16.73" fill="#2040d8"/><rect x="327.8" y="286.77" width="1.4" height="1" fill="#e0f0ff"/><rect x="327.80" y="295.64" width="1.40" height="16.73" fill="#2828c8"/><rect x="327.8" y="303.50" width="1.4" height="1" fill="#e0f0ff"/><rect x="327.80" y="312.36" width="1.40" height="16.73" fill="#2040d8"/><rect x="327.8" y="320.23" width="1.4" height="1" fill="#e0f0ff"/><rect x="327.80" y="329.09" width="1.40" height="16.73" fill="#2828c8"/><rect x="327.8" y="336.95" width="1.4" height="1" fill="#e0f0ff"/><rect x="327.80" y="345.82" width="1.40" height="16.73" fill="#2040d8"/><rect x="327.8" y="353.68" width="1.4" height="1" fill="#e0f0ff"/><rect x="327.80" y="362.55" width="1.40" height="16.73" fill="#2828c8"/><rect x="327.8" y="370.41" width="1.4" height="1" fill="#e0f0ff"/><rect x="327.80" y="379.27" width="1.40" height="16.73" fill="#2040d8"/><rect x="327.8" y="387.14" width="1.4" height="1" fill="#e0f0ff"/><rect x="447" y="78.2" width="1" height="17" fill="url(#yl)"/><rect x="428.10" y="312.60" width="1.00" height="16.80" fill="#e8e800"/><rect x="408.30" y="245.00" width="1.00" height="100.80" fill="#00b060"/><rect x="358.5" y="312.4" width="10.5" height="16.7" fill="#1c0022"/><rect x="380.00" y="60.95" width="169.00" height="1" fill="#1060d0" opacity="0.55"/><rect x="390.00" y="77.68" width="137.00" height="1" fill="#20a0d0" opacity="0.45"/><rect x="390.00" y="345.32" width="137.00" height="1" fill="#20a0d0" opacity="0.45"/><rect x="380.00" y="378.77" width="169.00" height="1" fill="#1060e0" opacity="0.70"/><g clip-path="url(#cl)"><polyline points="49.3,215.0 49.3,218.5 49.4,222.1 49.4,225.6 49.5,229.2 49.5,232.7 49.6,236.3 49.6,239.8 49.7,243.4 49.7,246.9 49.8,250.5 49.8,254.0 49.9,257.6 49.9,261.1 49.9,264.7 50.0,268.2 50.0,271.8 50.1,275.3 50.1,278.9 50.2,282.4 50.2,286.0 50.3,289.5 50.6,293.0 51.6,296.4 53.9,298.2 57.4,298.5 61.0,298.8 64.5,298.8 68.1,298.8 71.6,298.8 75.2,298.8 78.7,298.8 82.3,298.8 85.8,298.8 89.4,298.8 92.9,298.8 96.5,298.8 99.8,297.9 101.6,295.0 103.1,291.8 104.0,288.4 105.0,284.9 105.8,281.5 106.6,278.0 107.4,274.6 108.1,271.1 108.9,267.6 109.7,264.2 110.6,260.7 111.4,257.3 112.3,253.8 113.0,250.4 113.8,246.9 114.6,243.5 115.4,240.0 116.4,236.6 117.5,233.2 118.5,229.8 119.6,226.4 121.0,223.2 122.6,220.0 124.2,216.9 125.8,213.7 127.0,210.4 128.2,207.0 129.3,203.7 130.5,200.3 132.7,197.7 135.6,195.6 138.4,193.5 141.2,191.3 144.2,189.4 147.3,187.7 150.4,186.0 153.5,184.3 156.6,182.5 159.7,180.7 162.7,178.9 165.8,177.1 168.8,175.3 171.9,173.5 175.0,171.7 177.9,169.8 180.8,167.7 183.5,165.4 185.8,162.7 188.5,164.6 191.0,167.0 193.1,169.9 194.4,173.2 195.8,176.4 196.9,179.8 198.1,183.2 199.4,186.5 200.8,189.7 202.3,192.9 203.7,196.2 205.2,199.4 206.6,202.7 208.1,205.9 209.5,209.1 210.9,212.4 212.2,215.7 213.5,219.0 214.8,222.3 216.1,225.6 217.5,228.9 218.8,232.2 220.2,235.4 222.0,238.5 223.9,241.5 225.7,244.5 227.5,247.6 229.2,250.7 230.9,253.8 233.4,256.4 235.9,258.9 238.6,261.1 241.4,263.3 244.5,265.1 246.0,266.0" fill="none" stroke="#fff" stroke-width="2.2" stroke-linejoin="round" stroke-linecap="round" /><polyline points="268.5,275.0 268.8,275.5 269.0,275.9 269.3,276.4 269.5,276.8 269.8,277.3 270.0,277.7 270.5,277.9 271.0,278.1 271.5,278.2 272.0,278.4 272.5,278.6 273.0,278.7 273.5,278.9 273.9,279.1 274.4,279.3 274.9,279.4 275.4,279.6 275.9,279.8 276.4,279.9 276.9,280.1 277.4,280.3 277.9,280.5 278.3,280.7 278.8,280.9 279.3,281.1 279.8,281.3 280.3,281.5 280.7,281.7 281.2,281.9 281.7,282.1 282.2,282.3 282.6,282.5 283.1,282.7 283.6,282.9 284.1,283.1 284.5,283.3 285.0,283.6 285.4,284.0 285.7,284.3 286.1,284.6 286.5,285.0 286.9,285.3 287.3,285.7 287.7,286.0 288.1,286.3 288.5,286.7 288.9,287.0 289.3,287.4 289.7,287.7 290.0,288.1 290.3,288.5 290.5,289.0 290.8,289.4 291.0,289.9 291.3,290.4 291.5,290.8 291.7,291.3 292.0,291.7 292.2,292.2 292.5,292.7 292.7,293.1 293.0,293.6 293.2,294.0 293.5,294.5 293.7,294.9 294.0,295.4 294.3,295.8 294.6,296.2 294.8,296.7 295.1,297.1 295.4,297.6 295.7,298.0 295.9,298.4 296.2,298.9 296.5,299.3 296.8,299.8 297.1,300.2 297.5,300.5 297.9,300.8 298.3,301.1 298.7,301.5 299.1,301.8 299.5,302.1 299.9,302.4 300.3,302.8 300.8,303.0 301.3,303.1 301.8,303.2 302.3,303.3 302.8,303.4 303.3,303.5 303.8,303.6 304.4,303.7 304.9,303.8 305.4,303.9 305.9,304.0 306.4,304.1 306.9,304.2 307.4,304.3 307.9,304.4 308.4,304.5 308.9,304.5 309.5,304.6 310.0,304.6 310.5,304.7 311.0,304.7 311.5,304.8 312.0,304.8 312.6,304.9 313.1,304.9 313.6,305.0 314.1,305.0 314.6,305.1 315.2,305.1 315.7,305.1 316.2,305.2 316.7,305.2 317.2,305.2 317.7,305.3 318.0,305.3" fill="none" stroke="#fff" stroke-width="2.2" stroke-linejoin="round" stroke-linecap="round" /><polyline points="49.3,215.7 49.3,219.2 49.4,222.7 49.4,226.3 49.5,229.8 49.5,233.3 49.6,236.8 49.6,240.4 49.7,243.9 49.7,247.4 49.8,250.9 49.8,254.5 49.9,258.0 49.9,261.5 49.9,265.0 50.0,268.6 50.0,272.1 50.1,275.6 50.1,279.1 50.2,282.7 50.2,286.2 50.3,289.7 50.6,293.2 51.5,296.6 53.9,298.3 57.4,298.7 60.9,298.9 64.4,298.9 68.0,298.9 71.5,298.9 75.0,298.9 78.5,298.9 82.1,298.9 85.6,298.9 89.1,298.9 92.6,298.9 96.2,298.9 99.5,298.0 101.5,295.5 103.0,292.4 104.1,289.0 105.0,285.6 105.8,282.2 106.6,278.7 107.4,275.3 108.2,271.9 108.9,268.4 109.7,265.0 110.6,261.6 111.4,258.2 112.3,254.7 113.0,251.3 113.8,247.8 114.6,244.4 115.3,241.0 116.3,237.6 117.4,234.2 118.4,230.9 119.5,227.5 120.8,224.3 122.4,221.1 124.1,218.0 125.6,214.8 126.8,211.5 128.1,208.2 129.4,205.0 130.7,201.8 132.9,199.2 135.8,197.1 138.6,195.0 141.4,193.0 144.4,191.0 147.5,189.3 150.5,187.6 153.6,185.9 156.7,184.1 159.7,182.3 162.7,180.5 165.8,178.7 168.8,176.9 171.8,175.1 174.9,173.3 177.8,171.5 180.6,169.3 183.3,167.1 185.7,164.5 188.4,165.9 191.0,168.3 193.1,171.0 194.6,174.0 196.1,177.1 197.5,180.3 198.7,183.5 200.0,186.8 201.5,190.0 203.0,193.2 204.4,196.4 205.9,199.6 207.4,202.8 208.8,206.0 210.3,209.2 211.7,212.5 213.0,215.7 214.4,219.0 215.7,222.3 217.0,225.5 218.4,228.8 219.7,232.0 221.1,235.3 223.0,238.3 224.8,241.3 226.6,244.3 228.3,247.4 230.0,250.5 231.7,253.5 234.1,256.1 236.5,258.7 239.1,261.0 241.8,263.3 244.6,265.2 246.0,266.2" fill="none" stroke="#fff" stroke-width="2.2" stroke-linejoin="round" stroke-linecap="round" /><polyline points="268.5,275.8 268.8,276.2 269.0,276.7 269.3,277.1 269.5,277.6 269.8,278.0 270.1,278.4 270.6,278.6 271.1,278.7 271.6,278.9 272.0,279.1 272.5,279.2 273.0,279.4 273.5,279.5 274.0,279.7 274.5,279.9 275.0,280.0 275.5,280.2 275.9,280.4 276.4,280.5 276.9,280.7 277.4,280.8 277.9,281.0 278.4,281.2 278.9,281.4 279.3,281.6 279.8,281.8 280.3,282.0 280.8,282.2 281.2,282.4 281.7,282.6 282.2,282.8 282.6,283.0 283.1,283.2 283.6,283.4 284.1,283.6 284.5,283.8 285.0,284.1 285.4,284.4 285.7,284.8 286.1,285.1 286.5,285.4 286.9,285.8 287.3,286.1 287.7,286.4 288.1,286.8 288.5,287.1 288.9,287.5 289.2,287.8 289.6,288.1 290.0,288.5 290.3,288.9 290.5,289.4 290.8,289.8 291.0,290.3 291.2,290.7 291.5,291.2 291.7,291.6 292.0,292.1 292.2,292.5 292.5,293.0 292.7,293.4 293.0,293.9 293.2,294.3 293.5,294.8 293.8,295.2 294.1,295.6 294.3,296.1 294.6,296.5 294.9,296.9 295.2,297.4 295.5,297.8 295.7,298.2 296.0,298.7 296.3,299.1 296.6,299.5 296.9,299.9 297.2,300.3 297.6,300.6 298.0,300.9 298.4,301.3 298.8,301.6 299.2,301.9 299.7,302.2 300.1,302.5 300.5,302.8 300.9,303.0 301.4,303.1 301.9,303.2 302.5,303.3 303.0,303.4 303.5,303.5 304.0,303.6 304.5,303.7 305.0,303.8 305.5,303.9 306.0,304.1 306.5,304.2 307.0,304.3 307.5,304.4 308.0,304.5 308.5,304.5 309.0,304.6 309.5,304.6 310.0,304.7 310.6,304.7 311.1,304.8 311.6,304.8 312.1,304.9 312.6,304.9 313.1,305.0 313.6,305.0 314.1,305.1 314.7,305.1 315.2,305.2 315.7,305.2 316.2,305.2 316.7,305.3 317.2,305.3 317.7,305.4 318.0,305.4" fill="none" stroke="#fff" stroke-width="2.2" stroke-linejoin="round" stroke-linecap="round" /><polyline points="49.3,216.4 49.3,219.9 49.4,223.4 49.4,226.9 49.5,230.4 49.5,233.9 49.6,237.4 49.6,240.9 49.7,244.4 49.7,247.9 49.8,251.4 49.8,254.9 49.9,258.4 49.9,261.9 49.9,265.4 50.0,268.9 50.0,272.4 50.1,275.9 50.1,279.4 50.2,282.9 50.2,286.4 50.3,289.9 50.5,293.4 51.5,296.7 53.9,298.5 57.4,298.8 60.8,299.0 64.4,299.0 67.9,299.0 71.4,299.0 74.9,299.0 78.4,299.0 81.9,299.0 85.4,299.0 88.9,299.0 92.4,299.0 95.9,299.0 99.2,298.2 101.3,295.9 103.0,292.9 104.1,289.7 105.0,286.3 105.8,282.9 106.6,279.5 107.4,276.1 108.2,272.6 109.0,269.2 109.7,265.8 110.6,262.4 111.4,259.0 112.3,255.6 113.0,252.2 113.8,248.8 114.5,245.4 115.3,241.9 116.3,238.6 117.2,235.2 118.3,231.9 119.4,228.6 120.7,225.3 122.3,222.2 123.9,219.1 125.4,216.0 126.7,212.7 128.0,209.5 129.4,206.3 130.8,203.2 133.1,200.7 136.0,198.7 138.8,196.6 141.6,194.6 144.6,192.7 147.6,191.0 150.7,189.2 153.7,187.5 156.7,185.7 159.7,183.9 162.7,182.1 165.7,180.3 168.7,178.5 171.8,176.8 174.8,175.0 177.7,173.1 180.5,171.0 183.2,168.8 185.6,166.2 188.2,167.3 190.9,169.5 193.1,172.1 194.8,174.9 196.5,177.8 198.0,180.8 199.4,183.9 200.7,187.2 202.2,190.3 203.7,193.5 205.2,196.7 206.6,199.8 208.1,203.0 209.6,206.2 211.1,209.3 212.5,212.5 213.9,215.8 215.2,219.0 216.6,222.2 218.0,225.4 219.3,228.7 220.7,231.9 222.1,235.1 223.9,238.1 225.7,241.1 227.5,244.1 229.2,247.1 230.9,250.2 232.6,253.3 234.8,255.9 237.1,258.5 239.6,260.9 242.1,263.3 244.7,265.4 246.0,266.4" fill="none" stroke="#fff" stroke-width="2.2" stroke-linejoin="round" stroke-linecap="round" /><polyline points="268.5,276.6 268.8,277.0 269.0,277.5 269.3,277.9 269.6,278.3 269.8,278.7 270.2,279.1 270.6,279.3 271.1,279.4 271.6,279.6 272.1,279.7 272.6,279.9 273.1,280.0 273.6,280.2 274.0,280.3 274.5,280.5 275.0,280.6 275.5,280.8 276.0,281.0 276.5,281.1 277.0,281.3 277.4,281.4 277.9,281.6 278.4,281.8 278.9,281.9 279.4,282.1 279.8,282.3 280.3,282.5 280.8,282.7 281.2,282.9 281.7,283.1 282.2,283.3 282.7,283.5 283.1,283.7 283.6,283.9 284.1,284.0 284.6,284.2 285.0,284.5 285.4,284.9 285.7,285.2 286.1,285.5 286.5,285.9 286.9,286.2 287.3,286.5 287.7,286.9 288.1,287.2 288.4,287.5 288.8,287.9 289.2,288.2 289.6,288.6 290.0,288.9 290.2,289.3 290.5,289.8 290.7,290.2 291.0,290.7 291.2,291.1 291.5,291.6 291.7,292.0 292.0,292.4 292.2,292.9 292.5,293.3 292.7,293.8 293.0,294.2 293.2,294.7 293.5,295.1 293.8,295.5 294.1,295.9 294.4,296.3 294.7,296.8 295.0,297.2 295.2,297.6 295.5,298.0 295.8,298.5 296.1,298.9 296.4,299.3 296.7,299.7 297.0,300.1 297.3,300.4 297.8,300.8 298.2,301.1 298.6,301.4 299.0,301.7 299.4,302.0 299.8,302.3 300.2,302.6 300.6,302.9 301.1,303.0 301.6,303.1 302.1,303.2 302.6,303.4 303.1,303.5 303.6,303.6 304.1,303.7 304.6,303.8 305.1,303.9 305.6,304.0 306.1,304.1 306.6,304.2 307.1,304.3 307.6,304.4 308.1,304.5 308.6,304.6 309.1,304.6 309.6,304.7 310.1,304.7 310.6,304.8 311.1,304.8 311.6,304.9 312.1,304.9 312.7,305.0 313.2,305.0 313.7,305.1 314.2,305.1 314.7,305.2 315.2,305.2 315.7,305.3 316.2,305.3 316.7,305.4 317.2,305.4 317.7,305.4 318.0,305.4" fill="none" stroke="#fff" stroke-width="2.2" stroke-linejoin="round" stroke-linecap="round" /><polyline points="49.3,217.2 49.3,220.7 49.4,224.2 49.4,227.7 49.5,231.1 49.5,234.6 49.6,238.1 49.6,241.6 49.7,245.0 49.7,248.5 49.8,252.0 49.8,255.4 49.9,258.9 49.9,262.4 49.9,265.9 50.0,269.3 50.0,272.8 50.1,276.3 50.1,279.8 50.2,283.2 50.2,286.7 50.3,290.2 50.5,293.6 51.5,296.9 53.9,298.6 57.3,299.0 60.8,299.2 64.2,299.2 67.7,299.2 71.2,299.1 74.7,299.1 78.1,299.1 81.6,299.1 85.1,299.1 88.6,299.1 92.0,299.1 95.5,299.1 98.8,298.4 101.1,296.4 102.9,293.7 104.1,290.4 105.0,287.1 105.8,283.7 106.6,280.3 107.4,277.0 108.2,273.6 109.0,270.2 109.8,266.8 110.6,263.4 111.5,260.1 112.3,256.7 113.0,253.3 113.7,249.9 114.5,246.5 115.2,243.1 116.2,239.8 117.1,236.4 118.2,233.1 119.3,229.8 120.6,226.6 122.1,223.5 123.7,220.4 125.2,217.3 126.5,214.1 127.9,211.0 129.5,207.9 131.0,204.9 133.4,202.6 136.2,200.6 139.1,198.5 141.9,196.5 144.8,194.6 147.8,192.9 150.8,191.2 153.9,189.5 156.8,187.7 159.8,185.9 162.7,184.0 165.7,182.2 168.7,180.5 171.7,178.7 174.7,176.9 177.6,175.1 180.3,173.0 183.0,170.8 185.4,168.3 188.1,168.9 190.7,171.0 193.1,173.4 195.0,176.0 196.9,178.6 198.6,181.4 200.2,184.4 201.5,187.6 203.0,190.7 204.5,193.8 206.0,197.0 207.5,200.1 209.1,203.2 210.6,206.3 212.1,209.4 213.5,212.6 214.9,215.8 216.3,219.0 217.7,222.2 219.0,225.3 220.4,228.5 221.8,231.7 223.3,234.9 225.0,237.9 226.8,240.8 228.5,243.8 230.2,246.9 231.9,249.9 233.6,253.0 235.7,255.6 237.9,258.3 240.2,260.8 242.5,263.2 244.8,265.5 246.0,266.6" fill="none" stroke="#fff" stroke-width="2.2" stroke-linejoin="round" stroke-linecap="round" /><polyline points="268.5,277.6 268.8,278.0 269.1,278.4 269.3,278.8 269.6,279.2 269.9,279.6 270.2,280.0 270.7,280.1 271.2,280.2 271.7,280.4 272.2,280.5 272.6,280.7 273.1,280.8 273.6,281.0 274.1,281.1 274.6,281.2 275.1,281.4 275.6,281.5 276.0,281.7 276.5,281.8 277.0,282.0 277.5,282.1 278.0,282.2 278.4,282.4 278.9,282.6 279.4,282.8 279.9,283.0 280.3,283.1 280.8,283.3 281.3,283.5 281.7,283.7 282.2,283.9 282.7,284.1 283.2,284.2 283.6,284.4 284.1,284.6 284.6,284.8 285.0,285.1 285.4,285.4 285.7,285.7 286.1,286.1 286.5,286.4 286.9,286.7 287.3,287.1 287.6,287.4 288.0,287.7 288.4,288.1 288.8,288.4 289.2,288.7 289.6,289.1 289.9,289.4 290.2,289.8 290.5,290.3 290.7,290.7 291.0,291.1 291.2,291.6 291.5,292.0 291.7,292.4 292.0,292.9 292.2,293.3 292.5,293.7 292.8,294.2 293.0,294.6 293.3,295.0 293.6,295.5 293.8,295.9 294.1,296.3 294.4,296.7 294.7,297.1 295.0,297.5 295.3,297.9 295.6,298.3 295.9,298.7 296.2,299.1 296.5,299.5 296.8,299.9 297.1,300.3 297.5,300.6 297.9,300.9 298.3,301.2 298.7,301.5 299.1,301.8 299.5,302.1 299.9,302.4 300.4,302.6 300.8,302.9 301.3,303.1 301.8,303.2 302.2,303.3 302.7,303.4 303.2,303.5 303.7,303.6 304.2,303.7 304.7,303.8 305.2,303.9 305.7,304.0 306.2,304.2 306.7,304.3 307.2,304.4 307.7,304.5 308.2,304.6 308.7,304.6 309.2,304.7 309.7,304.7 310.2,304.8 310.7,304.8 311.2,304.9 311.7,304.9 312.2,305.0 312.7,305.1 313.2,305.1 313.7,305.2 314.2,305.2 314.7,305.3 315.2,305.3 315.7,305.4 316.2,305.4 316.7,305.4 317.2,305.5 317.7,305.5 318.0,305.5" fill="none" stroke="#fff" stroke-width="2.2" stroke-linejoin="round" stroke-linecap="round" /><polyline points="49.3,218.2 49.3,221.6 49.4,225.0 49.4,228.5 49.5,231.9 49.5,235.4 49.6,238.8 49.6,242.2 49.7,245.7 49.7,249.1 49.8,252.6 49.8,256.0 49.8,259.5 49.9,262.9 49.9,266.3 50.0,269.8 50.0,273.2 50.1,276.7 50.1,280.1 50.2,283.6 50.2,287.0 50.3,290.4 50.5,293.9 51.5,297.1 53.8,298.8 57.3,299.1 60.7,299.3 64.1,299.3 67.6,299.3 71.0,299.3 74.5,299.3 77.9,299.2 81.3,299.2 84.8,299.2 88.2,299.2 91.7,299.2 95.1,299.2 98.4,298.6 100.9,297.0 102.8,294.4 104.1,291.3 105.0,288.0 105.8,284.6 106.6,281.3 107.4,277.9 108.2,274.6 109.0,271.2 109.8,267.9 110.6,264.5 111.5,261.2 112.3,257.9 113.0,254.5 113.7,251.1 114.4,247.7 115.2,244.4 116.1,241.1 117.0,237.8 118.1,234.5 119.2,231.2 120.5,228.0 121.9,224.9 123.5,221.9 125.0,218.8 126.3,215.6 127.8,212.6 129.5,209.6 131.2,206.7 133.7,204.5 136.5,202.6 139.3,200.6 142.2,198.7 145.1,196.8 148.0,195.1 151.0,193.4 154.0,191.6 156.9,189.8 159.8,188.0 162.7,186.1 165.6,184.3 168.6,182.5 171.6,180.8 174.5,179.0 177.5,177.2 180.2,175.1 182.8,172.9 185.2,170.5 187.9,170.7 190.6,172.7 193.1,174.9 195.2,177.1 197.3,179.5 199.3,182.1 201.0,184.9 202.4,188.0 203.9,191.1 205.4,194.2 207.0,197.3 208.5,200.4 210.1,203.4 211.6,206.5 213.1,209.6 214.6,212.7 216.0,215.8 217.4,219.0 218.8,222.1 220.2,225.2 221.6,228.4 223.0,231.5 224.5,234.6 226.2,237.6 228.0,240.6 229.7,243.6 231.4,246.6 233.0,249.6 234.7,252.6 236.7,255.3 238.7,258.1 240.9,260.6 242.9,263.2 245.0,265.7 246.0,266.9" fill="none" stroke="#fff" stroke-width="2.2" stroke-linejoin="round" stroke-linecap="round" /><polyline points="268.5,278.6 268.8,279.0 269.1,279.4 269.4,279.8 269.6,280.2 270.0,280.6 270.3,280.9 270.8,281.0 271.3,281.1 271.8,281.3 272.2,281.4 272.7,281.5 273.2,281.7 273.7,281.8 274.2,281.9 274.6,282.0 275.1,282.2 275.6,282.3 276.1,282.4 276.6,282.6 277.0,282.7 277.5,282.8 278.0,283.0 278.5,283.1 278.9,283.3 279.4,283.5 279.9,283.7 280.4,283.8 280.8,284.0 281.3,284.2 281.8,284.3 282.2,284.5 282.7,284.7 283.2,284.9 283.6,285.0 284.1,285.2 284.6,285.4 285.0,285.7 285.4,286.0 285.7,286.3 286.1,286.7 286.5,287.0 286.9,287.3 287.2,287.6 287.6,288.0 288.0,288.3 288.4,288.6 288.8,288.9 289.1,289.3 289.5,289.6 289.9,289.9 290.2,290.3 290.4,290.8 290.7,291.2 290.9,291.6 291.2,292.0 291.5,292.5 291.7,292.9 292.0,293.3 292.2,293.8 292.5,294.2 292.8,294.6 293.0,295.0 293.3,295.5 293.6,295.9 293.9,296.2 294.2,296.6 294.5,297.0 294.8,297.4 295.1,297.8 295.4,298.2 295.7,298.6 296.0,299.0 296.3,299.4 296.6,299.8 297.0,300.1 297.3,300.5 297.7,300.8 298.1,301.1 298.5,301.4 298.9,301.7 299.3,302.0 299.7,302.3 300.1,302.5 300.6,302.7 301.0,303.0 301.5,303.1 301.9,303.2 302.4,303.3 302.9,303.5 303.4,303.6 303.9,303.7 304.4,303.8 304.9,303.9 305.4,304.0 305.8,304.1 306.3,304.2 306.8,304.3 307.3,304.4 307.8,304.5 308.3,304.6 308.8,304.7 309.3,304.7 309.8,304.8 310.3,304.8 310.8,304.9 311.3,305.0 311.8,305.0 312.3,305.1 312.8,305.1 313.3,305.2 313.8,305.3 314.3,305.3 314.8,305.4 315.3,305.4 315.8,305.5 316.3,305.5 316.8,305.5 317.3,305.6 317.8,305.6 318.0,305.6" fill="none" stroke="#fff" stroke-width="2.2" stroke-linejoin="round" stroke-linecap="round" /><polyline points="49.3,219.2 49.3,222.6 49.4,226.0 49.4,229.4 49.5,232.8 49.5,236.2 49.6,239.6 49.6,243.1 49.7,246.5 49.7,249.9 49.8,253.3 49.8,256.7 49.8,260.1 49.9,263.5 49.9,266.9 50.0,270.3 50.0,273.7 50.1,277.1 50.1,280.5 50.2,283.9 50.2,287.4 50.3,290.8 50.4,294.2 51.5,297.4 53.8,299.0 57.2,299.3 60.6,299.5 64.0,299.5 67.4,299.5 70.8,299.4 74.2,299.4 77.6,299.4 81.0,299.4 84.4,299.3 87.9,299.3 91.3,299.3 94.7,299.3 98.0,298.9 100.7,297.7 102.8,295.3 104.2,292.3 105.1,289.0 105.8,285.7 106.6,282.4 107.4,279.1 108.2,275.7 109.0,272.4 109.8,269.1 110.6,265.8 111.5,262.5 112.3,259.2 113.0,255.9 113.6,252.5 114.3,249.2 115.1,245.9 116.0,242.6 116.8,239.3 117.9,236.0 119.1,232.8 120.3,229.7 121.7,226.5 123.2,223.5 124.7,220.5 126.1,217.3 127.7,214.4 129.6,211.6 131.4,208.9 134.0,206.8 136.8,204.9 139.7,203.0 142.5,201.1 145.3,199.3 148.3,197.5 151.2,195.8 154.1,194.1 157.0,192.2 159.9,190.4 162.7,188.5 165.6,186.7 168.5,184.9 171.5,183.2 174.4,181.5 177.3,179.7 180.0,177.6 182.6,175.4 185.1,173.1 187.7,172.7 190.5,174.5 193.1,176.6 195.5,178.4 197.9,180.5 200.1,182.9 202.0,185.5 203.4,188.5 205.0,191.6 206.5,194.6 208.0,197.7 209.6,200.7 211.2,203.7 212.8,206.7 214.3,209.7 215.8,212.8 217.2,215.9 218.7,219.0 220.1,222.0 221.6,225.1 223.0,228.2 224.5,231.3 226.0,234.4 227.6,237.3 229.3,240.3 231.0,243.2 232.7,246.2 234.3,249.2 235.9,252.2 237.8,255.0 239.7,257.8 241.6,260.5 243.4,263.2 245.1,265.9 246.0,267.2" fill="none" stroke="#fff" stroke-width="2.2" stroke-linejoin="round" stroke-linecap="round" /><polyline points="268.5,279.8 268.8,280.2 269.1,280.6 269.4,281.0 269.7,281.4 270.0,281.7 270.4,281.9 270.9,282.0 271.4,282.1 271.8,282.3 272.3,282.4 272.8,282.5 273.3,282.6 273.8,282.7 274.2,282.9 274.7,283.0 275.2,283.1 275.7,283.2 276.1,283.3 276.6,283.4 277.1,283.6 277.6,283.7 278.1,283.8 278.5,284.0 279.0,284.1 279.5,284.3 279.9,284.5 280.4,284.6 280.9,284.8 281.3,284.9 281.8,285.1 282.3,285.3 282.7,285.4 283.2,285.6 283.7,285.7 284.1,285.9 284.6,286.1 285.0,286.3 285.4,286.7 285.7,287.0 286.1,287.3 286.5,287.6 286.8,288.0 287.2,288.3 287.6,288.6 288.0,288.9 288.3,289.3 288.7,289.6 289.1,289.9 289.5,290.2 289.8,290.6 290.1,290.9 290.4,291.4 290.7,291.8 290.9,292.2 291.2,292.6 291.5,293.0 291.7,293.4 292.0,293.9 292.3,294.3 292.5,294.7 292.8,295.1 293.0,295.5 293.3,295.9 293.6,296.3 293.9,296.7 294.3,297.1 294.6,297.4 294.9,297.8 295.2,298.2 295.5,298.6 295.8,299.0 296.1,299.3 296.4,299.7 296.8,300.1 297.1,300.4 297.5,300.7 297.9,301.0 298.3,301.3 298.7,301.6 299.1,301.9 299.5,302.1 299.9,302.4 300.3,302.6 300.8,302.8 301.2,303.0 301.7,303.2 302.2,303.3 302.6,303.4 303.1,303.5 303.6,303.6 304.1,303.7 304.6,303.8 305.0,304.0 305.5,304.1 306.0,304.2 306.5,304.3 307.0,304.4 307.5,304.5 307.9,304.6 308.4,304.7 308.9,304.7 309.4,304.8 309.9,304.9 310.4,304.9 310.9,305.0 311.4,305.0 311.9,305.1 312.3,305.2 312.8,305.2 313.3,305.3 313.8,305.4 314.3,305.4 314.8,305.5 315.3,305.5 315.8,305.6 316.3,305.6 316.8,305.6 317.3,305.7 317.8,305.7 318.0,305.7" fill="none" stroke="#fff" stroke-width="2.2" stroke-linejoin="round" stroke-linecap="round" /><polyline points="49.3,220.6 49.3,224.0 49.4,227.3 49.4,230.7 49.5,234.0 49.5,237.4 49.6,240.8 49.6,244.1 49.7,247.5 49.7,250.8 49.8,254.2 49.8,257.6 49.8,260.9 49.9,264.3 49.9,267.7 50.0,271.0 50.0,274.4 50.1,277.7 50.1,281.1 50.2,284.5 50.2,287.8 50.3,291.2 50.4,294.5 51.5,297.7 53.8,299.3 57.1,299.6 60.5,299.8 63.8,299.7 67.2,299.7 70.5,299.7 73.9,299.6 77.3,299.6 80.6,299.6 84.0,299.5 87.4,299.5 90.7,299.5 94.1,299.4 97.4,299.2 100.4,298.6 102.7,296.5 104.2,293.6 105.1,290.3 105.9,287.1 106.7,283.8 107.5,280.5 108.3,277.3 109.1,274.0 109.9,270.8 110.7,267.5 111.5,264.2 112.3,261.0 113.0,257.7 113.6,254.4 114.3,251.1 115.0,247.8 115.8,244.5 116.6,241.3 117.7,238.1 118.9,235.0 120.1,231.8 121.4,228.7 122.9,225.7 124.4,222.7 125.8,219.7 127.6,216.9 129.6,214.3 131.7,211.7 134.4,209.8 137.3,208.0 140.1,206.2 142.9,204.4 145.7,202.6 148.6,200.8 151.5,199.1 154.4,197.3 157.1,195.5 159.9,193.6 162.7,191.7 165.5,189.9 168.4,188.2 171.3,186.5 174.2,184.8 177.1,183.0 179.7,180.9 182.3,178.8 184.8,176.6 187.4,175.4 190.3,177.0 193.1,178.8 195.9,180.2 198.6,181.9 201.1,183.9 203.3,186.2 204.8,189.2 206.3,192.2 207.9,195.2 209.5,198.1 211.1,201.1 212.7,204.0 214.3,207.0 216.0,209.9 217.4,212.9 218.9,215.9 220.4,219.0 221.9,222.0 223.4,225.0 224.9,228.0 226.4,231.0 227.9,234.0 229.5,236.9 231.2,239.9 232.8,242.8 234.4,245.7 236.0,248.7 237.6,251.7 239.3,254.5 241.0,257.4 242.6,260.3 244.0,263.2 245.3,266.1 246.0,267.6" fill="none" stroke="#fff" stroke-width="2.2" stroke-linejoin="round" stroke-linecap="round" /><polyline points="268.5,281.4 268.8,281.8 269.1,282.1 269.4,282.5 269.7,282.9 270.1,283.2 270.5,283.3 271.0,283.4 271.5,283.5 272.0,283.6 272.4,283.7 272.9,283.8 273.4,283.9 273.9,284.0 274.3,284.1 274.8,284.2 275.3,284.3 275.8,284.4 276.2,284.5 276.7,284.6 277.2,284.7 277.7,284.8 278.1,284.9 278.6,285.1 279.0,285.2 279.5,285.4 280.0,285.5 280.4,285.7 280.9,285.8 281.4,285.9 281.8,286.1 282.3,286.2 282.8,286.4 283.2,286.5 283.7,286.7 284.1,286.8 284.6,287.0 285.0,287.3 285.4,287.6 285.7,287.9 286.1,288.2 286.5,288.5 286.8,288.8 287.2,289.2 287.6,289.5 287.9,289.8 288.3,290.1 288.7,290.4 289.0,290.8 289.4,291.1 289.8,291.4 290.1,291.7 290.4,292.1 290.6,292.6 290.9,293.0 291.2,293.4 291.4,293.8 291.7,294.2 292.0,294.6 292.3,295.0 292.5,295.4 292.8,295.8 293.1,296.2 293.4,296.6 293.7,296.9 294.0,297.3 294.3,297.6 294.7,298.0 295.0,298.4 295.3,298.7 295.6,299.1 296.0,299.4 296.3,299.8 296.6,300.1 297.0,300.5 297.3,300.7 297.7,301.0 298.1,301.3 298.5,301.6 298.9,301.8 299.3,302.1 299.7,302.4 300.2,302.6 300.6,302.8 301.0,303.0 301.5,303.1 302.0,303.3 302.4,303.4 302.9,303.5 303.4,303.6 303.9,303.7 304.3,303.8 304.8,303.9 305.3,304.0 305.7,304.2 306.2,304.3 306.7,304.4 307.2,304.5 307.6,304.6 308.1,304.7 308.6,304.8 309.1,304.8 309.6,304.9 310.0,305.0 310.5,305.0 311.0,305.1 311.5,305.2 312.0,305.2 312.4,305.3 312.9,305.4 313.4,305.4 313.9,305.5 314.4,305.6 314.9,305.6 315.3,305.7 315.8,305.7 316.3,305.7 316.8,305.8 317.3,305.8 317.8,305.8 318.0,305.9" fill="none" stroke="#fff" stroke-width="2.2" stroke-linejoin="round" stroke-linecap="round" /><polyline points="49.3,222.0 49.3,225.3 49.4,228.6 49.4,231.9 49.5,235.3 49.5,238.6 49.6,241.9 49.6,245.2 49.7,248.5 49.7,251.8 49.8,255.1 49.8,258.5 49.8,261.8 49.9,265.1 49.9,268.4 50.0,271.7 50.0,275.0 50.1,278.3 50.1,281.7 50.2,285.0 50.2,288.3 50.3,291.6 50.3,294.9 51.4,298.0 53.7,299.6 57.0,299.8 60.3,300.0 63.7,300.0 67.0,299.9 70.3,299.9 73.6,299.8 76.9,299.8 80.2,299.8 83.5,299.7 86.9,299.7 90.2,299.6 93.5,299.6 96.8,299.6 100.1,299.5 102.6,297.7 104.3,294.9 105.1,291.7 105.9,288.5 106.7,285.3 107.5,282.0 108.3,278.8 109.1,275.6 109.9,272.4 110.7,269.2 111.5,266.0 112.3,262.8 112.9,259.5 113.5,256.2 114.2,253.0 114.9,249.8 115.7,246.5 116.4,243.3 117.6,240.2 118.7,237.1 119.9,234.0 121.1,230.9 122.5,227.9 124.0,225.0 125.5,222.0 127.5,219.4 129.7,216.9 132.0,214.6 134.9,212.9 137.7,211.1 140.5,209.4 143.3,207.6 146.1,205.9 149.0,204.1 151.8,202.4 154.6,200.6 157.3,198.7 160.0,196.8 162.7,194.9 165.4,193.0 168.3,191.4 171.2,189.7 174.0,188.0 176.9,186.3 179.4,184.2 182.0,182.1 184.6,180.0 187.1,178.1 190.1,179.5 193.1,181.0 196.2,182.0 199.3,183.2 202.1,184.9 204.6,187.0 206.1,189.9 207.7,192.8 209.3,195.7 210.9,198.6 212.6,201.5 214.3,204.4 215.9,207.2 217.6,210.1 219.1,213.1 220.6,216.0 222.2,218.9 223.7,221.9 225.2,224.8 226.7,227.8 228.3,230.7 229.8,233.6 231.4,236.6 233.0,239.5 234.6,242.4 236.1,245.3 237.7,248.2 239.3,251.1 240.8,254.1 242.2,257.1 243.6,260.1 244.6,263.2 245.5,266.4 246.0,268.0" fill="none" stroke="#fff" stroke-width="2.2" stroke-linejoin="round" stroke-linecap="round" /><polyline points="268.5,283.0 268.8,283.3 269.2,283.7 269.5,284.0 269.8,284.4 270.2,284.6 270.7,284.7 271.1,284.8 271.6,284.9 272.1,285.0 272.5,285.0 273.0,285.1 273.5,285.2 274.0,285.3 274.4,285.4 274.9,285.5 275.4,285.5 275.8,285.6 276.3,285.7 276.8,285.8 277.2,285.9 277.7,286.0 278.2,286.1 278.6,286.2 279.1,286.3 279.6,286.4 280.0,286.6 280.5,286.7 280.9,286.8 281.4,287.0 281.9,287.1 282.3,287.2 282.8,287.4 283.2,287.5 283.7,287.6 284.2,287.7 284.6,287.9 285.0,288.2 285.4,288.5 285.7,288.8 286.1,289.1 286.4,289.4 286.8,289.7 287.2,290.0 287.5,290.3 287.9,290.7 288.2,291.0 288.6,291.3 289.0,291.6 289.3,291.9 289.7,292.2 290.0,292.6 290.3,292.9 290.6,293.3 290.9,293.7 291.1,294.1 291.4,294.5 291.7,294.9 292.0,295.3 292.3,295.7 292.5,296.0 292.8,296.4 293.1,296.8 293.4,297.2 293.7,297.5 294.1,297.9 294.4,298.2 294.7,298.5 295.1,298.9 295.4,299.2 295.8,299.6 296.1,299.9 296.4,300.2 296.8,300.6 297.2,300.9 297.6,301.1 298.0,301.4 298.4,301.6 298.8,301.9 299.2,302.1 299.6,302.3 300.0,302.6 300.4,302.8 300.9,303.0 301.3,303.1 301.8,303.2 302.3,303.3 302.7,303.4 303.2,303.6 303.6,303.7 304.1,303.8 304.6,303.9 305.0,304.0 305.5,304.1 306.0,304.2 306.4,304.4 306.9,304.5 307.4,304.6 307.8,304.7 308.3,304.8 308.8,304.8 309.2,304.9 309.7,305.0 310.2,305.1 310.7,305.1 311.1,305.2 311.6,305.3 312.1,305.3 312.5,305.4 313.0,305.5 313.5,305.6 314.0,305.6 314.4,305.7 314.9,305.8 315.4,305.8 315.9,305.9 316.3,305.9 316.8,305.9 317.3,306.0 317.8,306.0 318.0,306.0" fill="none" stroke="#fff" stroke-width="2.2" stroke-linejoin="round" stroke-linecap="round" /><polygon points="245.0,266.0 245.5,170.0 246.5,165.8 248.7,166.0 250.5,199.0 251.5,199.0 253.6,175.0 256.5,165.8 258.7,167.0 260.0,184.0 261.0,171.0 263.8,171.0 264.4,254.0 246.0,256.0" fill="#fff" stroke="#fff" stroke-width="1" stroke-linejoin="round"/><polyline points="249.5,250.0 249.5,272.0" fill="none" stroke="#fff" stroke-width="2.4" stroke-linejoin="round" stroke-linecap="round" /><polyline points="246.0,250.0 246.0,262.0" fill="none" stroke="#fff" stroke-width="2.4" stroke-linejoin="round" stroke-linecap="round" /><polyline points="253.0,250.0 253.0,268.0" fill="none" stroke="#fff" stroke-width="2.4" stroke-linejoin="round" stroke-linecap="round" /><polyline points="255.5,248.0 255.5,262.0" fill="none" stroke="#fff" stroke-width="2.4" stroke-linejoin="round" stroke-linecap="round" /><polyline points="260.0,250.0 260.0,272.0" fill="none" stroke="#fff" stroke-width="2.4" stroke-linejoin="round" stroke-linecap="round" /><polyline points="263.0,250.0 263.0,262.0" fill="none" stroke="#fff" stroke-width="2.4" stroke-linejoin="round" stroke-linecap="round" /><polygon points="265.6,229.0 266.2,274.5 267.1,271.7 268.0,274.5 268.6,229.0" fill="#fff" stroke="#fff" stroke-width="1" stroke-linejoin="round"/><polygon points="124.2,215.0 124.8,186.5 125.7,183.7 126.6,186.5 127.2,215.0" fill="#fff" stroke="#fff" stroke-width="1" stroke-linejoin="round"/><polygon points="126.9,205.0 127.5,170.2 128.4,167.4 129.3,170.2 129.9,205.0" fill="#fff" stroke="#fff" stroke-width="1" stroke-linejoin="round"/><polygon points="129.5,204.0 130.1,178.5 131.0,175.7 131.9,178.5 132.5,204.0" fill="#fff" stroke="#fff" stroke-width="1" stroke-linejoin="round"/><polygon points="147.0,192.0 147.6,97.1 148.5,94.3 149.4,97.1 150.0,192.0" fill="#fff" stroke="#fff" stroke-width="1" stroke-linejoin="round"/><polygon points="159.3,183.0 159.9,132.1 160.8,129.3 161.7,132.1 162.3,183.0" fill="#fff" stroke="#fff" stroke-width="1" stroke-linejoin="round"/><polygon points="165.9,178.0 166.5,120.1 167.4,117.3 168.3,120.1 168.9,178.0" fill="#fff" stroke="#fff" stroke-width="1" stroke-linejoin="round"/><polyline points="285.0,288.0 285.0,271.6" fill="none" stroke="#fff" stroke-width="2.4" stroke-linejoin="round" stroke-linecap="round" /></g><g clip-path="url(#cr)"><polyline points="328.5,221.0 328.5,224.3 328.6,227.6 328.6,230.9 328.7,234.2 328.7,237.5 328.8,240.8 328.8,244.1 328.9,247.4 328.9,250.7 328.9,254.1 329.0,257.4 329.0,260.7 329.1,264.0 329.1,267.3 329.2,270.6 329.2,273.9 329.2,277.2 329.3,280.5 329.3,283.8 329.4,287.1 329.4,290.4 329.5,293.7 330.1,296.8 332.0,299.5 335.3,299.5 338.6,299.5 341.9,299.5 345.2,299.5 348.6,299.5 351.9,299.5 355.2,299.5 358.5,299.5 361.8,299.5 365.1,299.5 368.4,299.5 371.7,299.5 375.0,299.5 378.3,299.5 381.1,298.4 383.0,295.7 384.1,292.6 385.0,289.4 385.9,286.2 386.7,283.0 387.5,279.8 388.3,276.6 389.1,273.4 390.0,270.2 391.0,267.1 392.0,263.9 393.1,260.8 394.1,257.7 395.4,254.6 396.6,251.5 397.8,248.5 399.2,245.4 400.9,242.7 402.8,240.0 404.9,237.4 406.5,234.5 407.5,231.4 408.3,228.2 409.0,225.0 409.6,221.7 410.2,218.5 411.3,215.5 413.9,213.5 416.7,211.8 419.6,210.2 422.5,208.6 425.4,207.0 428.3,205.3 430.9,203.3 433.5,201.2 436.1,199.2 438.7,197.2 441.3,195.1 443.9,193.1 446.4,191.0 449.0,188.9 451.4,186.6 453.8,184.3 456.8,184.0 459.2,186.2 461.8,185.8 464.5,184.0 467.3,183.8 469.9,185.9 472.2,188.2 474.0,191.0 475.8,193.8 477.6,196.5 479.5,199.3 481.3,202.0 483.1,204.8 484.9,207.6 486.6,210.4 488.4,213.2 490.1,216.0 491.8,218.9 493.4,221.7 495.1,224.6 496.8,227.4 498.4,230.3 500.0,233.2 501.6,236.1 503.3,238.9 505.0,241.7 506.8,244.5 508.5,247.3 510.3,250.1 512.0,253.0 513.7,255.8 515.5,258.6 517.3,261.3 519.2,264.0 521.1,266.7 523.2,269.3 525.4,271.8 526.5,273.0" fill="none" stroke="#fff" stroke-width="2.2" stroke-linejoin="round" stroke-linecap="round" /><polyline points="548.0,286.3 548.5,286.4 548.9,286.5 549.4,286.6 549.8,286.7 550.3,286.8 550.7,286.9 551.2,287.0 551.6,287.1 552.1,287.2 552.5,287.3 553.0,287.4 553.4,287.5 553.9,287.5 554.3,287.6 554.8,287.7 555.2,287.8 555.7,287.9 556.1,288.0 556.6,288.2 557.0,288.3 557.4,288.5 557.9,288.6 558.3,288.8 558.7,288.9 559.2,289.1 559.6,289.2 560.1,289.4 560.5,289.5 560.9,289.6 561.4,289.8 561.8,289.9 562.3,290.1 562.7,290.2 563.1,290.4 563.6,290.5 564.0,290.7 564.4,290.8 564.9,291.0 565.3,291.2 565.6,291.5 566.0,291.8 566.3,292.1 566.7,292.4 567.1,292.6 567.4,292.9 567.8,293.2 568.1,293.5 568.5,293.8 568.9,294.1 569.2,294.4 569.6,294.7 569.9,295.0 570.3,295.2 570.7,295.5 571.0,295.8 571.4,296.1 571.7,296.4 572.1,296.7 572.4,297.0 572.8,297.3 573.1,297.6 573.5,297.9 573.9,298.2 574.2,298.5 574.6,298.8 574.9,299.0 575.3,299.3 575.7,299.6 576.1,299.8 576.5,300.1 576.8,300.4 577.2,300.6 577.6,300.9 578.0,301.2 578.3,301.4 578.7,301.7 579.1,302.0 579.5,302.2 579.9,302.5 580.3,302.7 580.7,302.9 581.1,303.1 581.5,303.3 581.9,303.5 582.4,303.7 582.8,303.9 583.2,304.0 583.6,304.2 584.0,304.4 584.5,304.5 584.9,304.6 585.4,304.7 585.8,304.8 586.3,304.9 586.8,304.9 587.2,305.0 587.7,305.1 588.1,305.2 588.6,305.3 589.0,305.3 589.5,305.4 589.9,305.5 590.4,305.5 590.9,305.6 591.3,305.6 591.8,305.6 592.2,305.7 592.7,305.7 593.2,305.8 593.6,305.8 594.1,305.8 594.5,305.9 595.0,305.9 595.5,305.9 595.9,305.9 596.4,305.9 596.8,306.0 597.3,306.0 597.8,306.0 598.0,306.0" fill="none" stroke="#fff" stroke-width="2.2" stroke-linejoin="round" stroke-linecap="round" /><polyline points="328.5,221.5 328.5,224.8 328.6,228.1 328.6,231.4 328.7,234.6 328.7,237.9 328.8,241.2 328.8,244.5 328.9,247.8 328.9,251.1 328.9,254.4 329.0,257.7 329.0,260.9 329.1,264.2 329.1,267.5 329.2,270.8 329.2,274.1 329.2,277.4 329.3,280.7 329.3,283.9 329.4,287.2 329.4,290.5 329.5,293.8 330.0,296.9 332.0,299.6 335.2,299.6 338.5,299.6 341.8,299.6 345.1,299.6 348.4,299.6 351.7,299.6 355.0,299.6 358.3,299.6 361.5,299.6 364.8,299.6 368.1,299.6 371.4,299.6 374.7,299.6 378.0,299.6 380.8,298.6 382.8,296.1 384.0,293.1 385.0,290.0 385.9,286.9 386.7,283.7 387.5,280.5 388.3,277.3 389.1,274.1 390.0,270.9 391.0,267.8 392.0,264.7 393.0,261.6 394.1,258.5 395.3,255.4 396.5,252.3 397.8,249.3 399.1,246.3 400.8,243.5 402.6,240.8 404.7,238.2 406.3,235.4 407.4,232.3 408.3,229.2 409.0,226.0 409.6,222.8 410.3,219.5 411.4,216.6 413.9,214.5 416.6,212.7 419.5,211.1 422.3,209.5 425.2,207.9 428.0,206.2 430.6,204.2 433.3,202.2 435.9,200.2 438.4,198.2 441.1,196.2 443.7,194.3 446.3,192.3 448.9,190.3 451.4,188.3 453.8,186.3 456.7,185.8 459.1,187.6 461.7,187.2 464.4,185.8 467.1,185.5 469.7,187.2 472.0,189.4 473.9,192.1 475.8,194.8 477.7,197.5 479.5,200.2 481.4,202.9 483.2,205.7 484.9,208.5 486.7,211.3 488.4,214.0 490.1,216.8 491.8,219.7 493.4,222.5 495.1,225.3 496.8,228.2 498.4,231.0 500.0,233.9 501.6,236.8 503.3,239.6 505.0,242.4 506.8,245.2 508.6,247.9 510.3,250.7 512.0,253.5 513.8,256.3 515.5,259.1 517.3,261.8 519.2,264.5 521.2,267.2 523.2,269.7 525.4,272.2 526.5,273.4" fill="none" stroke="#fff" stroke-width="2.2" stroke-linejoin="round" stroke-linecap="round" /><polyline points="548.0,286.7 548.5,286.8 548.9,286.9 549.4,286.9 549.8,287.0 550.3,287.1 550.7,287.2 551.2,287.3 551.6,287.4 552.1,287.5 552.5,287.6 553.0,287.7 553.4,287.8 553.9,287.9 554.3,288.0 554.8,288.0 555.2,288.1 555.7,288.2 556.1,288.3 556.6,288.5 557.0,288.6 557.4,288.8 557.9,288.9 558.3,289.0 558.7,289.2 559.2,289.3 559.6,289.4 560.1,289.6 560.5,289.7 560.9,289.9 561.4,290.0 561.8,290.1 562.3,290.3 562.7,290.4 563.1,290.5 563.6,290.7 564.0,290.8 564.5,291.0 564.9,291.1 565.3,291.3 565.6,291.6 566.0,291.9 566.4,292.2 566.7,292.5 567.1,292.8 567.4,293.1 567.8,293.3 568.2,293.6 568.5,293.9 568.9,294.2 569.2,294.5 569.6,294.8 570.0,295.1 570.3,295.4 570.7,295.6 571.0,295.9 571.4,296.2 571.7,296.5 572.1,296.8 572.5,297.1 572.8,297.4 573.2,297.7 573.5,298.0 573.9,298.3 574.2,298.6 574.6,298.9 575.0,299.1 575.3,299.4 575.7,299.6 576.1,299.9 576.5,300.2 576.9,300.4 577.2,300.7 577.6,301.0 578.0,301.2 578.4,301.5 578.7,301.8 579.1,302.0 579.5,302.3 579.9,302.6 580.3,302.8 580.7,303.0 581.1,303.1 581.5,303.3 582.0,303.5 582.4,303.7 582.8,303.9 583.2,304.1 583.6,304.3 584.1,304.5 584.5,304.6 585.0,304.6 585.4,304.7 585.9,304.8 586.3,304.9 586.8,305.0 587.2,305.0 587.7,305.1 588.1,305.2 588.6,305.3 589.0,305.3 589.5,305.4 590.0,305.5 590.4,305.5 590.9,305.6 591.3,305.6 591.8,305.6 592.3,305.7 592.7,305.7 593.2,305.7 593.6,305.8 594.1,305.8 594.5,305.8 595.0,305.9 595.5,305.9 595.9,305.9 596.4,305.9 596.8,305.9 597.3,305.9 597.8,306.0 598.0,306.0" fill="none" stroke="#fff" stroke-width="2.2" stroke-linejoin="round" stroke-linecap="round" /><polyline points="328.5,222.0 328.5,225.3 328.6,228.5 328.6,231.8 328.7,235.1 328.7,238.3 328.8,241.6 328.8,244.9 328.9,248.1 328.9,251.4 328.9,254.7 329.0,257.9 329.0,261.2 329.1,264.5 329.1,267.8 329.2,271.0 329.2,274.3 329.2,277.6 329.3,280.8 329.3,284.1 329.4,287.4 329.4,290.6 329.5,293.9 330.0,297.0 331.9,299.6 335.2,299.7 338.4,299.7 341.7,299.7 345.0,299.7 348.2,299.7 351.5,299.7 354.8,299.7 358.0,299.7 361.3,299.7 364.6,299.7 367.8,299.7 371.1,299.7 374.4,299.7 377.6,299.7 380.5,298.8 382.6,296.6 384.0,293.7 385.0,290.6 385.9,287.5 386.7,284.3 387.5,281.2 388.3,278.0 389.1,274.8 390.0,271.7 391.0,268.5 392.0,265.4 393.0,262.3 394.1,259.2 395.3,256.2 396.5,253.2 397.7,250.1 399.0,247.1 400.7,244.3 402.5,241.6 404.4,239.0 406.1,236.3 407.3,233.3 408.3,230.2 409.0,227.0 409.7,223.8 410.3,220.6 411.5,217.7 413.8,215.5 416.5,213.7 419.3,212.0 422.1,210.4 425.0,208.8 427.8,207.1 430.4,205.1 433.0,203.2 435.6,201.2 438.2,199.2 440.9,197.4 443.5,195.6 446.2,193.7 448.8,191.8 451.3,190.0 453.8,188.3 456.6,187.6 459.0,189.0 461.5,188.6 464.2,187.6 466.9,187.2 469.6,188.5 471.9,190.7 473.9,193.2 475.8,195.9 477.7,198.5 479.6,201.2 481.5,203.8 483.2,206.6 485.0,209.4 486.7,212.1 488.4,214.9 490.1,217.7 491.8,220.5 493.5,223.3 495.1,226.1 496.8,228.9 498.4,231.8 500.0,234.6 501.7,237.4 503.3,240.3 505.1,243.0 506.8,245.8 508.6,248.5 510.3,251.3 512.1,254.1 513.8,256.8 515.5,259.6 517.4,262.3 519.3,264.9 521.2,267.6 523.3,270.1 525.4,272.6 526.5,273.8" fill="none" stroke="#fff" stroke-width="2.2" stroke-linejoin="round" stroke-linecap="round" /><polyline points="548.0,287.0 548.5,287.1 548.9,287.2 549.4,287.3 549.8,287.4 550.3,287.5 550.7,287.6 551.2,287.7 551.6,287.7 552.1,287.8 552.5,287.9 553.0,288.0 553.4,288.1 553.9,288.2 554.3,288.3 554.8,288.4 555.2,288.4 555.7,288.5 556.1,288.6 556.6,288.8 557.0,288.9 557.4,289.0 557.9,289.2 558.3,289.3 558.7,289.4 559.2,289.5 559.6,289.7 560.1,289.8 560.5,289.9 560.9,290.1 561.4,290.2 561.8,290.3 562.3,290.4 562.7,290.6 563.1,290.7 563.6,290.8 564.0,291.0 564.5,291.1 564.9,291.2 565.3,291.5 565.6,291.8 566.0,292.1 566.4,292.3 566.7,292.6 567.1,292.9 567.4,293.2 567.8,293.5 568.2,293.8 568.5,294.0 568.9,294.3 569.3,294.6 569.6,294.9 570.0,295.2 570.3,295.5 570.7,295.8 571.0,296.0 571.4,296.3 571.8,296.6 572.1,296.9 572.5,297.2 572.8,297.5 573.2,297.8 573.5,298.1 573.9,298.4 574.3,298.6 574.6,298.9 575.0,299.2 575.4,299.5 575.8,299.7 576.1,300.0 576.5,300.2 576.9,300.5 577.3,300.8 577.6,301.0 578.0,301.3 578.4,301.6 578.8,301.8 579.1,302.1 579.5,302.3 579.9,302.6 580.3,302.8 580.7,303.0 581.1,303.2 581.6,303.4 582.0,303.6 582.4,303.7 582.8,303.9 583.2,304.1 583.7,304.3 584.1,304.5 584.5,304.6 585.0,304.7 585.4,304.7 585.9,304.8 586.3,304.9 586.8,305.0 587.3,305.0 587.7,305.1 588.2,305.2 588.6,305.3 589.1,305.3 589.5,305.4 590.0,305.5 590.4,305.5 590.9,305.6 591.3,305.6 591.8,305.6 592.3,305.7 592.7,305.7 593.2,305.7 593.6,305.7 594.1,305.8 594.6,305.8 595.0,305.8 595.5,305.9 595.9,305.9 596.4,305.9 596.9,305.9 597.3,305.9 597.8,305.9 598.0,305.9" fill="none" stroke="#fff" stroke-width="2.2" stroke-linejoin="round" stroke-linecap="round" /><polyline points="328.5,222.6 328.5,225.8 328.6,229.1 328.6,232.3 328.7,235.6 328.7,238.8 328.8,242.1 328.8,245.3 328.9,248.6 328.9,251.8 328.9,255.1 329.0,258.3 329.0,261.5 329.1,264.8 329.1,268.0 329.2,271.3 329.2,274.5 329.2,277.8 329.3,281.0 329.3,284.3 329.4,287.5 329.4,290.8 329.5,294.0 329.9,297.1 331.9,299.7 335.0,299.8 338.3,299.8 341.5,299.8 344.8,299.8 348.0,299.8 351.3,299.8 354.5,299.8 357.8,299.8 361.0,299.8 364.3,299.8 367.5,299.8 370.7,299.8 374.0,299.8 377.2,299.8 380.2,299.0 382.4,297.1 383.9,294.4 385.0,291.3 385.9,288.2 386.7,285.1 387.5,281.9 388.3,278.8 389.1,275.6 390.0,272.5 391.0,269.4 391.9,266.3 393.0,263.2 394.0,260.2 395.2,257.2 396.4,254.1 397.6,251.1 398.9,248.2 400.5,245.3 402.3,242.6 404.2,240.0 405.9,237.3 407.2,234.4 408.2,231.3 409.0,228.2 409.7,225.0 410.4,221.9 411.5,219.0 413.8,216.7 416.4,214.8 419.1,213.1 421.9,211.5 424.7,209.8 427.5,208.2 430.1,206.3 432.7,204.3 435.3,202.4 437.9,200.4 440.6,198.7 443.3,197.1 446.0,195.3 448.7,193.6 451.3,192.0 453.8,190.7 456.5,189.9 458.8,190.7 461.4,190.2 464.0,189.7 466.7,189.1 469.4,190.1 471.8,192.1 473.8,194.6 475.8,197.1 477.8,199.7 479.7,202.3 481.6,204.9 483.3,207.7 485.0,210.4 486.8,213.2 488.5,215.9 490.2,218.7 491.8,221.5 493.5,224.3 495.1,227.1 496.8,229.9 498.4,232.7 500.0,235.5 501.7,238.3 503.3,241.1 505.1,243.8 506.8,246.5 508.6,249.2 510.4,252.0 512.1,254.7 513.8,257.5 515.5,260.2 517.4,262.9 519.3,265.5 521.3,268.1 523.3,270.6 525.4,273.1 526.5,274.3" fill="none" stroke="#fff" stroke-width="2.2" stroke-linejoin="round" stroke-linecap="round" /><polyline points="548.0,287.5 548.5,287.6 548.9,287.7 549.4,287.7 549.8,287.8 550.3,287.9 550.7,288.0 551.2,288.1 551.6,288.1 552.1,288.2 552.5,288.3 553.0,288.4 553.4,288.5 553.9,288.6 554.3,288.6 554.8,288.7 555.2,288.8 555.7,288.9 556.1,289.0 556.5,289.1 557.0,289.2 557.4,289.4 557.9,289.5 558.3,289.6 558.7,289.7 559.2,289.8 559.6,290.0 560.1,290.1 560.5,290.2 561.0,290.3 561.4,290.4 561.8,290.5 562.3,290.7 562.7,290.8 563.2,290.9 563.6,291.0 564.0,291.1 564.5,291.3 564.9,291.4 565.3,291.6 565.7,291.9 566.0,292.2 566.4,292.5 566.7,292.8 567.1,293.1 567.5,293.3 567.8,293.6 568.2,293.9 568.5,294.2 568.9,294.5 569.3,294.7 569.6,295.0 570.0,295.3 570.4,295.6 570.7,295.9 571.1,296.2 571.4,296.5 571.8,296.7 572.1,297.0 572.5,297.3 572.9,297.6 573.2,297.9 573.6,298.2 573.9,298.5 574.3,298.7 574.7,299.0 575.0,299.3 575.4,299.5 575.8,299.8 576.2,300.1 576.5,300.3 576.9,300.6 577.3,300.8 577.7,301.1 578.0,301.4 578.4,301.6 578.8,301.9 579.2,302.2 579.5,302.4 579.9,302.7 580.3,302.9 580.8,303.1 581.2,303.2 581.6,303.4 582.0,303.6 582.4,303.8 582.9,304.0 583.3,304.2 583.7,304.3 584.1,304.5 584.6,304.6 585.0,304.7 585.5,304.8 585.9,304.8 586.4,304.9 586.8,305.0 587.3,305.1 587.7,305.1 588.2,305.2 588.6,305.3 589.1,305.4 589.5,305.4 590.0,305.5 590.4,305.5 590.9,305.6 591.4,305.6 591.8,305.6 592.3,305.6 592.7,305.7 593.2,305.7 593.7,305.7 594.1,305.7 594.6,305.8 595.0,305.8 595.5,305.8 595.9,305.8 596.4,305.9 596.9,305.9 597.3,305.9 597.8,305.9 598.0,305.9" fill="none" stroke="#fff" stroke-width="2.2" stroke-linejoin="round" stroke-linecap="round" /><polyline points="328.5,223.2 328.5,226.5 328.6,229.7 328.6,232.9 328.7,236.1 328.7,239.4 328.8,242.6 328.8,245.8 328.8,249.0 328.9,252.2 328.9,255.5 329.0,258.7 329.0,261.9 329.1,265.1 329.1,268.3 329.2,271.6 329.2,274.8 329.2,278.0 329.3,281.2 329.3,284.5 329.4,287.7 329.4,290.9 329.5,294.1 329.8,297.2 331.8,299.7 334.9,299.9 338.1,299.9 341.4,299.9 344.6,299.9 347.8,299.9 351.0,299.9 354.3,299.9 357.5,299.9 360.7,299.9 363.9,299.9 367.1,299.9 370.4,299.9 373.6,299.9 376.8,299.9 379.8,299.3 382.1,297.6 383.8,295.1 384.9,292.1 385.9,289.0 386.7,285.9 387.6,282.8 388.3,279.7 389.1,276.6 390.0,273.4 390.9,270.4 391.9,267.3 392.9,264.2 394.0,261.2 395.1,258.2 396.3,255.2 397.5,252.2 398.8,249.3 400.3,246.4 402.0,243.7 403.9,241.1 405.6,238.4 407.0,235.6 408.2,232.6 409.1,229.5 409.8,226.4 410.4,223.3 411.6,220.4 413.8,218.0 416.2,216.0 418.9,214.3 421.7,212.6 424.4,211.0 427.2,209.4 429.8,207.5 432.4,205.6 435.0,203.6 437.5,201.7 440.3,200.2 443.1,198.7 445.8,197.1 448.6,195.5 451.2,194.1 453.9,193.3 456.4,192.3 458.7,192.5 461.3,192.0 463.8,192.0 466.4,191.3 469.2,191.9 471.6,193.7 473.7,196.0 475.8,198.5 477.8,201.0 479.8,203.5 481.7,206.1 483.4,208.8 485.1,211.6 486.8,214.3 488.5,217.0 490.2,219.8 491.8,222.5 493.5,225.3 495.1,228.1 496.8,230.8 498.4,233.6 500.1,236.4 501.7,239.2 503.3,241.9 505.1,244.6 506.9,247.3 508.6,250.0 510.4,252.7 512.1,255.4 513.9,258.1 515.6,260.9 517.5,263.5 519.4,266.1 521.3,268.6 523.3,271.1 525.4,273.6 526.5,274.8" fill="none" stroke="#fff" stroke-width="2.2" stroke-linejoin="round" stroke-linecap="round" /><polyline points="548.0,288.0 548.4,288.0 548.9,288.1 549.3,288.2 549.8,288.3 550.2,288.4 550.7,288.4 551.1,288.5 551.6,288.6 552.0,288.7 552.5,288.7 552.9,288.8 553.4,288.9 553.8,289.0 554.3,289.1 554.7,289.1 555.2,289.2 555.6,289.3 556.1,289.4 556.5,289.5 557.0,289.6 557.4,289.7 557.9,289.8 558.3,289.9 558.7,290.0 559.2,290.1 559.6,290.3 560.1,290.4 560.5,290.5 561.0,290.6 561.4,290.7 561.8,290.8 562.3,290.9 562.7,291.0 563.2,291.1 563.6,291.2 564.1,291.3 564.5,291.5 564.9,291.6 565.3,291.8 565.7,292.1 566.0,292.4 566.4,292.7 566.8,292.9 567.1,293.2 567.5,293.5 567.8,293.8 568.2,294.1 568.6,294.3 568.9,294.6 569.3,294.9 569.6,295.2 570.0,295.5 570.4,295.7 570.7,296.0 571.1,296.3 571.4,296.6 571.8,296.9 572.2,297.2 572.5,297.4 572.9,297.7 573.2,298.0 573.6,298.3 574.0,298.6 574.3,298.8 574.7,299.1 575.1,299.4 575.4,299.6 575.8,299.9 576.2,300.2 576.6,300.4 576.9,300.7 577.3,300.9 577.7,301.2 578.1,301.5 578.4,301.7 578.8,302.0 579.2,302.2 579.6,302.5 580.0,302.7 580.4,302.9 580.8,303.1 581.2,303.3 581.6,303.5 582.0,303.7 582.5,303.8 582.9,304.0 583.3,304.2 583.7,304.4 584.1,304.6 584.6,304.6 585.0,304.7 585.5,304.8 585.9,304.9 586.4,304.9 586.9,305.0 587.3,305.1 587.8,305.1 588.2,305.2 588.7,305.3 589.1,305.4 589.6,305.4 590.0,305.5 590.5,305.5 590.9,305.5 591.4,305.6 591.8,305.6 592.3,305.6 592.7,305.6 593.2,305.7 593.7,305.7 594.1,305.7 594.6,305.7 595.0,305.8 595.5,305.8 595.9,305.8 596.4,305.8 596.9,305.8 597.3,305.8 597.8,305.9 598.0,305.9" fill="none" stroke="#fff" stroke-width="2.2" stroke-linejoin="round" stroke-linecap="round" /><polyline points="328.5,224.0 328.5,227.2 328.6,230.4 328.6,233.6 328.7,236.8 328.7,240.0 328.8,243.2 328.8,246.4 328.8,249.5 328.9,252.7 328.9,255.9 329.0,259.1 329.0,262.3 329.1,265.5 329.1,268.7 329.2,271.9 329.2,275.1 329.2,278.3 329.3,281.5 329.3,284.7 329.4,287.9 329.4,291.1 329.5,294.2 329.7,297.4 331.7,299.8 334.8,300.1 338.0,300.1 341.2,300.1 344.4,300.1 347.6,300.1 350.8,300.1 353.9,300.1 357.1,300.1 360.3,300.1 363.5,300.1 366.7,300.1 369.9,300.1 373.1,300.1 376.3,300.1 379.3,299.6 381.8,298.3 383.7,295.9 384.9,293.0 385.9,290.0 386.8,286.9 387.6,283.8 388.4,280.7 389.1,277.6 390.0,274.5 390.9,271.5 391.9,268.4 392.8,265.4 393.9,262.4 395.1,259.4 396.3,256.4 397.5,253.5 398.7,250.5 400.1,247.7 401.7,245.0 403.5,242.3 405.3,239.7 406.9,237.0 408.1,234.1 409.1,231.1 409.8,228.0 410.5,224.8 411.7,222.0 413.7,219.5 416.0,217.5 418.7,215.7 421.4,214.0 424.1,212.4 426.8,210.7 429.5,208.9 432.0,207.0 434.6,205.1 437.2,203.2 440.0,201.8 442.8,200.5 445.6,199.2 448.4,197.7 451.2,196.7 453.9,196.3 456.3,195.0 458.6,194.6 461.1,194.1 463.5,194.7 466.2,193.8 468.9,193.9 471.4,195.5 473.7,197.7 475.8,200.0 477.9,202.4 479.8,205.0 481.8,207.5 483.5,210.2 485.2,212.9 486.9,215.6 488.6,218.3 490.2,221.0 491.9,223.8 493.5,226.5 495.2,229.3 496.8,232.0 498.4,234.7 500.1,237.5 501.7,240.2 503.4,242.9 505.1,245.6 506.9,248.3 508.7,250.9 510.4,253.6 512.2,256.3 513.9,258.9 515.6,261.6 517.5,264.2 519.5,266.7 521.4,269.3 523.4,271.8 525.5,274.2 526.5,275.4" fill="none" stroke="#fff" stroke-width="2.2" stroke-linejoin="round" stroke-linecap="round" /><polyline points="548.0,288.5 548.4,288.6 548.9,288.7 549.3,288.7 549.8,288.8 550.2,288.9 550.7,289.0 551.1,289.0 551.6,289.1 552.0,289.2 552.5,289.2 552.9,289.3 553.4,289.4 553.8,289.5 554.3,289.5 554.7,289.6 555.2,289.7 555.6,289.7 556.1,289.8 556.5,289.9 557.0,290.0 557.4,290.1 557.9,290.2 558.3,290.3 558.7,290.4 559.2,290.5 559.6,290.6 560.1,290.7 560.5,290.8 561.0,290.9 561.4,291.0 561.9,291.1 562.3,291.2 562.7,291.3 563.2,291.4 563.6,291.5 564.1,291.6 564.5,291.7 565.0,291.8 565.3,292.0 565.7,292.3 566.0,292.6 566.4,292.9 566.8,293.1 567.1,293.4 567.5,293.7 567.9,294.0 568.2,294.2 568.6,294.5 568.9,294.8 569.3,295.1 569.7,295.3 570.0,295.6 570.4,295.9 570.8,296.2 571.1,296.5 571.5,296.7 571.8,297.0 572.2,297.3 572.6,297.6 572.9,297.9 573.3,298.1 573.6,298.4 574.0,298.7 574.4,299.0 574.7,299.2 575.1,299.5 575.5,299.8 575.8,300.0 576.2,300.3 576.6,300.5 577.0,300.8 577.4,301.0 577.7,301.3 578.1,301.5 578.5,301.8 578.9,302.1 579.2,302.3 579.6,302.6 580.0,302.8 580.4,303.0 580.8,303.2 581.2,303.4 581.7,303.5 582.1,303.7 582.5,303.9 582.9,304.1 583.3,304.3 583.8,304.4 584.2,304.6 584.6,304.7 585.1,304.8 585.5,304.8 586.0,304.9 586.4,305.0 586.9,305.0 587.3,305.1 587.8,305.2 588.2,305.2 588.7,305.3 589.1,305.4 589.6,305.4 590.0,305.5 590.5,305.5 590.9,305.5 591.4,305.6 591.9,305.6 592.3,305.6 592.8,305.6 593.2,305.6 593.7,305.7 594.1,305.7 594.6,305.7 595.0,305.7 595.5,305.7 596.0,305.8 596.4,305.8 596.9,305.8 597.3,305.8 597.8,305.8 598.0,305.8" fill="none" stroke="#fff" stroke-width="2.2" stroke-linejoin="round" stroke-linecap="round" /><polyline points="328.5,225.0 328.5,228.2 328.6,231.3 328.6,234.5 328.7,237.6 328.7,240.8 328.8,243.9 328.8,247.1 328.8,250.2 328.9,253.4 328.9,256.6 329.0,259.7 329.0,262.9 329.1,266.0 329.1,269.2 329.2,272.3 329.2,275.5 329.2,278.6 329.3,281.8 329.3,285.0 329.4,288.1 329.4,291.3 329.5,294.4 329.6,297.5 331.6,299.9 334.6,300.3 337.8,300.3 340.9,300.3 344.1,300.3 347.2,300.3 350.4,300.3 353.5,300.3 356.7,300.3 359.9,300.3 363.0,300.3 366.2,300.3 369.3,300.3 372.5,300.3 375.6,300.3 378.7,300.1 381.5,299.1 383.6,297.0 384.9,294.2 385.9,291.2 386.8,288.2 387.6,285.1 388.4,282.1 389.2,279.0 390.0,276.0 390.9,272.9 391.8,269.9 392.8,266.9 393.8,263.9 395.0,261.0 396.1,258.1 397.3,255.1 398.5,252.2 399.8,249.4 401.4,246.6 403.1,244.0 404.9,241.4 406.7,238.8 408.1,236.0 409.2,233.1 409.9,230.0 410.6,227.0 411.9,224.1 413.6,221.6 415.8,219.4 418.4,217.6 421.0,215.8 423.7,214.2 426.4,212.5 429.0,210.8 431.5,208.9 434.1,207.0 436.6,205.2 439.5,204.1 442.5,203.0 445.4,201.9 448.3,200.7 451.1,200.0 453.9,200.3 456.2,198.7 458.4,197.4 460.9,196.9 463.2,198.3 465.8,197.1 468.6,196.6 471.2,197.9 473.5,200.0 475.8,202.1 478.0,204.4 480.0,206.9 481.9,209.3 483.6,212.0 485.3,214.7 487.0,217.3 488.6,220.0 490.3,222.7 491.9,225.4 493.5,228.1 495.2,230.8 496.8,233.5 498.4,236.2 500.1,238.9 501.7,241.6 503.4,244.3 505.2,246.9 507.0,249.5 508.7,252.1 510.5,254.7 512.2,257.3 514.0,260.0 515.7,262.6 517.6,265.1 519.5,267.6 521.5,270.1 523.5,272.6 525.5,275.0 526.5,276.2" fill="none" stroke="#fff" stroke-width="2.2" stroke-linejoin="round" stroke-linecap="round" /><polyline points="548.0,289.3 548.4,289.3 548.9,289.4 549.3,289.5 549.8,289.5 550.2,289.6 550.7,289.6 551.1,289.7 551.6,289.8 552.0,289.8 552.5,289.9 552.9,290.0 553.4,290.0 553.8,290.1 554.3,290.2 554.7,290.2 555.2,290.3 555.6,290.3 556.1,290.4 556.5,290.5 557.0,290.6 557.4,290.7 557.9,290.7 558.3,290.8 558.7,290.9 559.2,291.0 559.6,291.1 560.1,291.1 560.5,291.2 561.0,291.3 561.4,291.4 561.9,291.5 562.3,291.5 562.8,291.6 563.2,291.7 563.6,291.8 564.1,291.9 564.5,292.0 565.0,292.0 565.3,292.3 565.7,292.6 566.1,292.8 566.4,293.1 566.8,293.4 567.2,293.7 567.5,293.9 567.9,294.2 568.2,294.5 568.6,294.8 569.0,295.0 569.3,295.3 569.7,295.6 570.1,295.8 570.4,296.1 570.8,296.4 571.1,296.7 571.5,296.9 571.9,297.2 572.2,297.5 572.6,297.8 573.0,298.0 573.3,298.3 573.7,298.6 574.0,298.9 574.4,299.1 574.8,299.4 575.1,299.6 575.5,299.9 575.9,300.2 576.3,300.4 576.6,300.7 577.0,300.9 577.4,301.2 577.8,301.4 578.2,301.7 578.5,301.9 578.9,302.2 579.3,302.4 579.7,302.7 580.0,302.9 580.5,303.1 580.9,303.3 581.3,303.5 581.7,303.6 582.1,303.8 582.6,304.0 583.0,304.1 583.4,304.3 583.8,304.5 584.2,304.7 584.7,304.7 585.1,304.8 585.6,304.9 586.0,304.9 586.5,305.0 586.9,305.1 587.4,305.1 587.8,305.2 588.3,305.2 588.7,305.3 589.2,305.4 589.6,305.4 590.1,305.5 590.5,305.5 591.0,305.5 591.4,305.5 591.9,305.6 592.3,305.6 592.8,305.6 593.2,305.6 593.7,305.6 594.1,305.6 594.6,305.6 595.1,305.7 595.5,305.7 596.0,305.7 596.4,305.7 596.9,305.7 597.3,305.7 597.8,305.8 598.0,305.8" fill="none" stroke="#fff" stroke-width="2.2" stroke-linejoin="round" stroke-linecap="round" /><polyline points="328.5,226.0 328.5,229.1 328.6,232.2 328.6,235.4 328.7,238.5 328.7,241.6 328.8,244.7 328.8,247.8 328.8,250.9 328.9,254.1 328.9,257.2 329.0,260.3 329.0,263.4 329.1,266.5 329.1,269.7 329.1,272.8 329.2,275.9 329.2,279.0 329.3,282.1 329.3,285.2 329.4,288.4 329.4,291.5 329.5,294.6 329.5,297.7 331.5,300.0 334.4,300.5 337.5,300.5 340.7,300.5 343.8,300.5 346.9,300.5 350.0,300.5 353.1,300.5 356.3,300.5 359.4,300.5 362.5,300.5 365.6,300.5 368.7,300.5 371.8,300.5 375.0,300.5 378.1,300.5 381.1,300.0 383.4,298.1 384.8,295.3 385.9,292.4 386.8,289.4 387.6,286.4 388.4,283.4 389.2,280.4 389.9,277.4 390.8,274.4 391.8,271.4 392.7,268.4 393.8,265.5 394.9,262.6 396.0,259.7 397.2,256.8 398.4,253.9 399.6,251.0 401.0,248.3 402.6,245.6 404.5,243.1 406.4,240.7 408.0,238.0 409.2,235.1 410.0,232.1 410.7,229.1 412.0,226.3 413.6,223.6 415.5,221.2 418.1,219.4 420.6,217.6 423.3,216.0 425.9,214.3 428.5,212.6 431.1,210.8 433.6,209.0 436.1,207.2 439.1,206.3 442.1,205.5 445.1,204.6 448.1,203.6 451.0,203.3 454.0,204.3 456.0,202.4 458.2,200.2 460.6,199.6 462.8,201.8 465.4,200.4 468.3,199.2 471.0,200.3 473.4,202.2 475.8,204.2 478.1,206.4 480.1,208.8 482.1,211.1 483.7,213.8 485.4,216.4 487.1,219.1 488.7,221.7 490.3,224.4 492.0,227.0 493.6,229.7 495.2,232.4 496.8,235.0 498.4,237.7 500.1,240.3 501.7,243.0 503.4,245.6 505.2,248.2 507.0,250.7 508.8,253.3 510.6,255.8 512.3,258.4 514.0,261.0 515.8,263.6 517.7,266.1 519.6,268.5 521.6,271.0 523.5,273.4 525.5,275.8 526.5,277.0" fill="none" stroke="#fff" stroke-width="2.2" stroke-linejoin="round" stroke-linecap="round" /><polyline points="548.0,290.0 548.4,290.1 548.9,290.1 549.3,290.2 549.8,290.2 550.2,290.3 550.7,290.3 551.1,290.4 551.6,290.4 552.0,290.5 552.5,290.6 552.9,290.6 553.4,290.7 553.8,290.7 554.3,290.8 554.7,290.8 555.2,290.9 555.6,291.0 556.1,291.0 556.5,291.1 557.0,291.1 557.4,291.2 557.9,291.3 558.3,291.3 558.7,291.4 559.2,291.5 559.6,291.5 560.1,291.6 560.5,291.7 561.0,291.7 561.4,291.8 561.9,291.8 562.3,291.9 562.8,292.0 563.2,292.0 563.7,292.1 564.1,292.2 564.6,292.2 565.0,292.3 565.4,292.6 565.7,292.8 566.1,293.1 566.5,293.4 566.8,293.6 567.2,293.9 567.5,294.2 567.9,294.5 568.3,294.7 568.6,295.0 569.0,295.3 569.4,295.5 569.7,295.8 570.1,296.1 570.5,296.3 570.8,296.6 571.2,296.9 571.5,297.1 571.9,297.4 572.3,297.7 572.6,297.9 573.0,298.2 573.4,298.5 573.7,298.8 574.1,299.0 574.4,299.3 574.8,299.5 575.2,299.8 575.6,300.0 575.9,300.3 576.3,300.5 576.7,300.8 577.1,301.0 577.4,301.3 577.8,301.5 578.2,301.8 578.6,302.1 579.0,302.3 579.3,302.6 579.7,302.8 580.1,303.0 580.5,303.2 580.9,303.4 581.3,303.5 581.8,303.7 582.2,303.9 582.6,304.1 583.0,304.2 583.4,304.4 583.9,304.6 584.3,304.7 584.7,304.8 585.2,304.8 585.6,304.9 586.1,305.0 586.5,305.0 587.0,305.1 587.4,305.1 587.9,305.2 588.3,305.3 588.8,305.3 589.2,305.4 589.7,305.5 590.1,305.5 590.6,305.5 591.0,305.5 591.5,305.5 591.9,305.5 592.4,305.5 592.8,305.6 593.3,305.6 593.7,305.6 594.2,305.6 594.6,305.6 595.1,305.6 595.5,305.6 596.0,305.6 596.4,305.6 596.9,305.7 597.3,305.7 597.8,305.7 598.0,305.7" fill="none" stroke="#fff" stroke-width="2.2" stroke-linejoin="round" stroke-linecap="round" /><polygon points="525.5,276.0 526.0,186.0 527.5,184.5 529.0,186.0 530.0,205.0 531.0,192.0 533.0,193.0 534.0,198.7 537.0,194.8 539.0,195.0 540.0,198.7 541.0,194.0 543.0,194.0 547.0,228.0 548.0,256.0 526.0,258.0" fill="#fff" stroke="#fff" stroke-width="1" stroke-linejoin="round"/><polyline points="527.0,255.0 527.0,280.0" fill="none" stroke="#fff" stroke-width="2.4" stroke-linejoin="round" stroke-linecap="round" /><polyline points="530.0,255.0 530.0,272.0" fill="none" stroke="#fff" stroke-width="2.4" stroke-linejoin="round" stroke-linecap="round" /><polygon points="532.0,255.0 532.6,284.5 533.5,281.7 534.4,284.5 535.0,255.0" fill="#fff" stroke="#fff" stroke-width="1" stroke-linejoin="round"/><polyline points="537.0,255.0 537.0,270.0" fill="none" stroke="#fff" stroke-width="2.4" stroke-linejoin="round" stroke-linecap="round" /><polyline points="540.5,255.0 540.5,278.0" fill="none" stroke="#fff" stroke-width="2.4" stroke-linejoin="round" stroke-linecap="round" /><polyline points="544.0,255.0 544.0,268.0" fill="none" stroke="#fff" stroke-width="2.4" stroke-linejoin="round" stroke-linecap="round" /><polygon points="545.7,250.0 546.3,285.5 547.2,282.7 548.1,285.5 548.7,250.0" fill="#fff" stroke="#fff" stroke-width="1" stroke-linejoin="round"/><polygon points="407.2,232.0 407.8,176.1 408.7,173.3 409.6,176.1 410.2,232.0" fill="#fff" stroke="#fff" stroke-width="1" stroke-linejoin="round"/><polygon points="426.7,206.0 427.3,98.2 428.2,95.4 429.1,98.2 429.7,206.0" fill="#fff" stroke="#fff" stroke-width="1" stroke-linejoin="round"/><polyline points="441.5,198.0 441.5,178.0" fill="none" stroke="#fff" stroke-width="2.4" stroke-linejoin="round" stroke-linecap="round" /><polygon points="446.1,192.0 446.7,104.5 447.6,101.7 448.5,104.5 449.1,192.0" fill="#fff" stroke="#fff" stroke-width="1" stroke-linejoin="round"/></g><text x="86.6" y="15.6" font-size="17.2" textLength="192" lengthAdjust="spacingAndGlyphs" fill="#000">24.2 (HexE18=1018) X</text><text x="366.6" y="15.6" font-size="17.2" textLength="190.8" lengthAdjust="spacingAndGlyphs" fill="#000">24.2 (HexE18=1018) Y</text><text x="32.5" y="41.70" font-size="13.9" text-anchor="end">On</text><text x="611.6" y="41.70" font-size="13.9">On</text><text x="32.5" y="58.38" font-size="13.9" text-anchor="end">Y</text><text x="611.6" y="58.38" font-size="13.9">Y</text><text x="32.5" y="75.05" font-size="13.9" text-anchor="end">Off</text><text x="611.6" y="75.05" font-size="13.9">Off</text><text x="32.5" y="91.73" font-size="13.9" text-anchor="end">P</text><text x="611.6" y="91.73" font-size="13.9">P</text><text x="32.5" y="108.40" font-size="13.9" text-anchor="end">O</text><text x="611.6" y="108.40" font-size="13.9">O</text><text x="32.5" y="125.08" font-size="13.9" text-anchor="end">N</text><text x="611.6" y="125.08" font-size="13.9">N</text><text x="32.5" y="141.76" font-size="13.9" text-anchor="end">M</text><text x="611.6" y="141.76" font-size="13.9">M</text><text x="32.5" y="158.43" font-size="13.9" text-anchor="end">L</text><text x="611.6" y="158.43" font-size="13.9">L</text><text x="32.5" y="175.11" font-size="13.9" text-anchor="end">K</text><text x="611.6" y="175.11" font-size="13.9">K</text><text x="32.5" y="191.78" font-size="13.9" text-anchor="end">J</text><text x="611.6" y="191.78" font-size="13.9">J</text><text x="32.5" y="208.46" font-size="13.9" text-anchor="end">I</text><text x="611.6" y="208.46" font-size="13.9">I</text><text x="32.5" y="225.14" font-size="13.9" text-anchor="end">H</text><text x="611.6" y="225.14" font-size="13.9">H</text><text x="32.5" y="241.81" font-size="13.9" text-anchor="end">G</text><text x="611.6" y="241.81" font-size="13.9">G</text><text x="32.5" y="258.49" font-size="13.9" text-anchor="end">F</text><text x="611.6" y="258.49" font-size="13.9">F</text><text x="32.5" y="275.16" font-size="13.9" text-anchor="end">E</text><text x="611.6" y="275.16" font-size="13.9">E</text><text x="32.5" y="291.84" font-size="13.9" text-anchor="end">D</text><text x="611.6" y="291.84" font-size="13.9">D</text><text x="32.5" y="308.52" font-size="13.9" text-anchor="end">C</text><text x="611.6" y="308.52" font-size="13.9">C</text><text x="32.5" y="325.19" font-size="13.9" text-anchor="end">B</text><text x="611.6" y="325.19" font-size="13.9">B</text><text x="32.5" y="341.87" font-size="13.9" text-anchor="end">A</text><text x="611.6" y="341.87" font-size="13.9">A</text><text x="32.5" y="358.54" font-size="13.9" text-anchor="end">Off</text><text x="611.6" y="358.54" font-size="13.9">Off</text><text x="32.5" y="375.22" font-size="13.9" text-anchor="end">X</text><text x="611.6" y="375.22" font-size="13.9">X</text><text x="32.5" y="391.90" font-size="13.9" text-anchor="end">On</text><text x="611.6" y="391.90" font-size="13.9">On</text><rect x="48.80" y="408" width="1" height="5" fill="#000"/><text transform="translate(49.30,426) scale(0.79,1)" font-size="11.1" text-anchor="middle">0</text><rect x="89.53" y="408" width="1" height="5" fill="#000"/><text transform="translate(90.03,426) scale(0.79,1)" font-size="11.1" text-anchor="middle">50</text><rect x="130.25" y="408" width="1" height="5" fill="#000"/><text transform="translate(130.75,426) scale(0.79,1)" font-size="11.1" text-anchor="middle">100</text><rect x="170.97" y="408" width="1" height="5" fill="#000"/><text transform="translate(171.47,426) scale(0.79,1)" font-size="11.1" text-anchor="middle">150</text><rect x="211.70" y="408" width="1" height="5" fill="#000"/><text transform="translate(212.20,426) scale(0.79,1)" font-size="11.1" text-anchor="middle">200</text><rect x="252.43" y="408" width="1" height="5" fill="#000"/><text transform="translate(252.93,426) scale(0.79,1)" font-size="11.1" text-anchor="middle">250</text><rect x="293.15" y="408" width="1" height="5" fill="#000"/><text transform="translate(293.65,426) scale(0.79,1)" font-size="11.1" text-anchor="middle">300</text><rect x="328.80" y="408" width="1" height="5" fill="#000"/><text transform="translate(329.30,426) scale(0.79,1)" font-size="11.1" text-anchor="middle">0</text><rect x="369.53" y="408" width="1" height="5" fill="#000"/><text transform="translate(370.03,426) scale(0.79,1)" font-size="11.1" text-anchor="middle">50</text><rect x="410.25" y="408" width="1" height="5" fill="#000"/><text transform="translate(410.75,426) scale(0.79,1)" font-size="11.1" text-anchor="middle">100</text><rect x="450.98" y="408" width="1" height="5" fill="#000"/><text transform="translate(451.48,426) scale(0.79,1)" font-size="11.1" text-anchor="middle">150</text><rect x="491.70" y="408" width="1" height="5" fill="#000"/><text transform="translate(492.20,426) scale(0.79,1)" font-size="11.1" text-anchor="middle">200</text><rect x="532.42" y="408" width="1" height="5" fill="#000"/><text transform="translate(532.92,426) scale(0.79,1)" font-size="11.1" text-anchor="middle">250</text><rect x="573.15" y="408" width="1" height="5" fill="#000"/><text transform="translate(573.65,426) scale(0.79,1)" font-size="11.1" text-anchor="middle">300</text><text transform="translate(3.2,217.8) rotate(-90)" font-size="13.9" text-anchor="middle">Dipole</text><g clip-path="url(#cl)"><rect x="69.40" y="283.80" width="5.3" height="1.2" fill="#fff"/><text x="79.00" y="289.60" font-size="13.9" fill="#fff">0</text><rect x="69.40" y="235.85" width="5.3" height="1.2" fill="#fff"/><text x="79.00" y="241.65" font-size="13.9" fill="#fff">5</text><rect x="69.40" y="187.90" width="5.3" height="1.2" fill="#fff"/><text x="79.00" y="193.70" font-size="13.9" fill="#fff">10</text><rect x="69.40" y="139.95" width="5.3" height="1.2" fill="#fff"/><text x="79.00" y="145.75" font-size="13.9" fill="#fff">15</text><rect x="69.40" y="92.00" width="5.3" height="1.2" fill="#fff"/><text x="79.00" y="97.80" font-size="13.9" fill="#fff">20</text><rect x="69.40" y="44.05" width="5.3" height="1.2" fill="#fff"/><text x="79.00" y="49.85" font-size="13.9" fill="#fff">25</text><text x="317.90" y="289.60" font-size="13.9" fill="#fff" text-anchor="end">0</text><text x="317.90" y="241.65" font-size="13.9" fill="#fff" text-anchor="end">5</text><text x="317.90" y="193.70" font-size="13.9" fill="#fff" text-anchor="end">10</text><text x="317.90" y="145.75" font-size="13.9" fill="#fff" text-anchor="end">15</text><text x="317.90" y="97.80" font-size="13.9" fill="#fff" text-anchor="end">20</text><text x="317.90" y="49.85" font-size="13.9" fill="#fff" text-anchor="end">25</text></g><g clip-path="url(#cr)"><rect x="349.40" y="283.80" width="5.3" height="1.2" fill="#fff"/><text x="359.00" y="289.60" font-size="13.9" fill="#fff">0</text><rect x="349.40" y="235.85" width="5.3" height="1.2" fill="#fff"/><text x="359.00" y="241.65" font-size="13.9" fill="#fff">5</text><rect x="349.40" y="187.90" width="5.3" height="1.2" fill="#fff"/><text x="359.00" y="193.70" font-size="13.9" fill="#fff">10</text><rect x="349.40" y="139.95" width="5.3" height="1.2" fill="#fff"/><text x="359.00" y="145.75" font-size="13.9" fill="#fff">15</text><rect x="349.40" y="92.00" width="5.3" height="1.2" fill="#fff"/><text x="359.00" y="97.80" font-size="13.9" fill="#fff">20</text><rect x="349.40" y="44.05" width="5.3" height="1.2" fill="#fff"/><text x="359.00" y="49.85" font-size="13.9" fill="#fff">25</text></g></svg>
</body></html>
